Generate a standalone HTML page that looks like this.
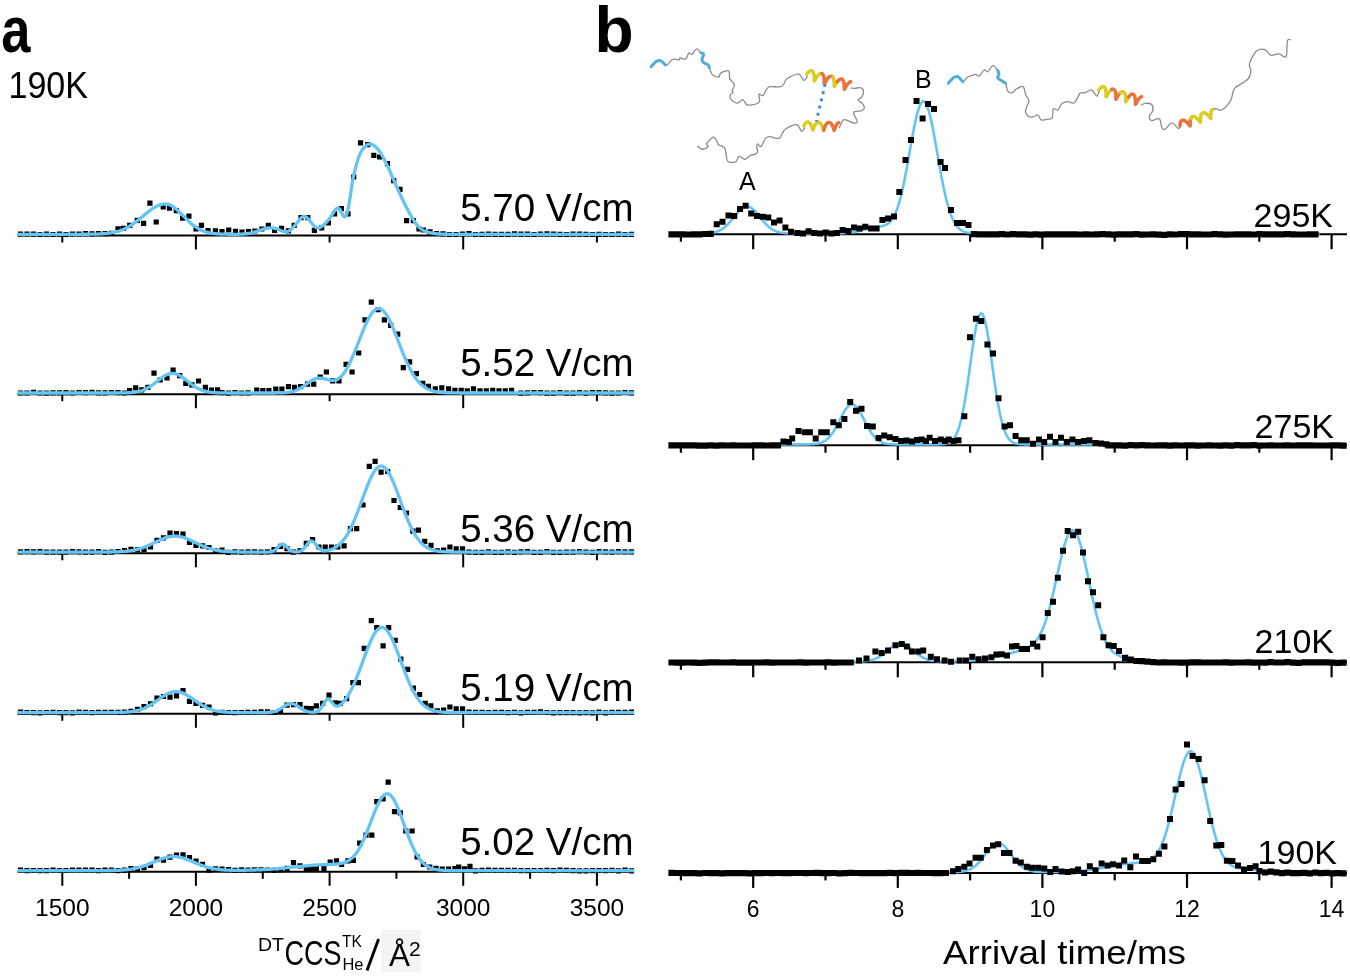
<!DOCTYPE html><html><head><meta charset="utf-8"><style>html,body{margin:0;padding:0;background:#fff;overflow:hidden}svg{display:block;will-change:transform}text{-webkit-font-smoothing:antialiased}</style></head><body><svg width="1350" height="978" viewBox="0 0 1350 978">
<rect width="1350" height="978" fill="#fff"/>
<g><line x1="17.5" y1="235.5" x2="634" y2="235.5" stroke="#000" stroke-width="2"/><line x1="62.3" y1="235.5" x2="62.3" y2="242.5" stroke="#000" stroke-width="2"/><line x1="195.9" y1="235.5" x2="195.9" y2="249.5" stroke="#000" stroke-width="2"/><line x1="329.6" y1="235.5" x2="329.6" y2="242.5" stroke="#000" stroke-width="2"/><line x1="463.2" y1="235.5" x2="463.2" y2="249.5" stroke="#000" stroke-width="2"/><line x1="596.9" y1="235.5" x2="596.9" y2="242.5" stroke="#000" stroke-width="2"/><path d="M17.9,231.4h5.2v5.2h-5.2zM24.4,231.4h5.2v5.2h-5.2zM30.9,231.5h5.2v5.2h-5.2zM37.4,231.9h5.2v5.2h-5.2zM43.9,231.6h5.2v5.2h-5.2zM50.4,231.9h5.2v5.2h-5.2zM56.9,231.5h5.2v5.2h-5.2zM63.4,231.9h5.2v5.2h-5.2zM69.9,231.4h5.2v5.2h-5.2zM76.4,231.4h5.2v5.2h-5.2zM82.9,231.0h5.2v5.2h-5.2zM89.4,231.3h5.2v5.2h-5.2zM95.9,231.0h5.2v5.2h-5.2zM102.4,231.1h5.2v5.2h-5.2zM108.9,230.7h5.2v5.2h-5.2zM115.4,226.3h5.2v5.2h-5.2zM420.9,227.4h5.2v5.2h-5.2zM427.4,229.3h5.2v5.2h-5.2zM433.9,230.9h5.2v5.2h-5.2zM440.4,231.3h5.2v5.2h-5.2zM446.9,231.9h5.2v5.2h-5.2zM453.4,231.9h5.2v5.2h-5.2zM459.9,231.4h5.2v5.2h-5.2zM466.4,231.0h5.2v5.2h-5.2zM472.9,231.9h5.2v5.2h-5.2zM479.4,231.8h5.2v5.2h-5.2zM485.9,231.5h5.2v5.2h-5.2zM492.4,231.7h5.2v5.2h-5.2zM498.9,231.7h5.2v5.2h-5.2zM505.4,231.7h5.2v5.2h-5.2zM511.9,231.3h5.2v5.2h-5.2zM518.4,231.6h5.2v5.2h-5.2zM524.9,231.6h5.2v5.2h-5.2zM531.4,231.9h5.2v5.2h-5.2zM537.9,231.4h5.2v5.2h-5.2zM544.4,231.2h5.2v5.2h-5.2zM550.9,231.4h5.2v5.2h-5.2zM557.4,231.7h5.2v5.2h-5.2zM563.9,231.9h5.2v5.2h-5.2zM570.4,231.5h5.2v5.2h-5.2zM576.9,231.5h5.2v5.2h-5.2zM583.4,231.7h5.2v5.2h-5.2zM589.9,231.9h5.2v5.2h-5.2zM596.4,231.8h5.2v5.2h-5.2zM602.9,231.9h5.2v5.2h-5.2zM609.4,231.9h5.2v5.2h-5.2zM615.9,231.6h5.2v5.2h-5.2zM622.4,231.9h5.2v5.2h-5.2zM628.9,231.7h5.2v5.2h-5.2zM120.8,225.7h5.2v5.2h-5.2zM127.1,222.7h5.2v5.2h-5.2zM134.7,217.7h5.2v5.2h-5.2zM141.0,220.7h5.2v5.2h-5.2zM147.3,200.5h5.2v5.2h-5.2zM153.6,219.4h5.2v5.2h-5.2zM160.6,204.3h5.2v5.2h-5.2zM166.9,205.6h5.2v5.2h-5.2zM173.7,208.1h5.2v5.2h-5.2zM180.0,215.6h5.2v5.2h-5.2zM186.3,213.6h5.2v5.2h-5.2zM193.4,226.2h5.2v5.2h-5.2zM198.9,222.7h5.2v5.2h-5.2zM205.4,227.9h5.2v5.2h-5.2zM212.8,228.2h5.2v5.2h-5.2zM219.4,228.9h5.2v5.2h-5.2zM226.1,227.4h5.2v5.2h-5.2zM232.9,228.7h5.2v5.2h-5.2zM239.4,229.4h5.2v5.2h-5.2zM245.9,228.9h5.2v5.2h-5.2zM252.4,228.4h5.2v5.2h-5.2zM259.2,226.4h5.2v5.2h-5.2zM265.7,222.7h5.2v5.2h-5.2zM272.0,227.7h5.2v5.2h-5.2zM279.0,225.7h5.2v5.2h-5.2zM285.8,228.2h5.2v5.2h-5.2zM291.6,222.7h5.2v5.2h-5.2zM298.4,215.1h5.2v5.2h-5.2zM305.2,215.1h5.2v5.2h-5.2zM311.8,227.7h5.2v5.2h-5.2zM319.1,225.3h5.2v5.2h-5.2zM325.8,220.2h5.2v5.2h-5.2zM332.0,211.2h5.2v5.2h-5.2zM338.8,206.1h5.2v5.2h-5.2zM345.4,211.2h5.2v5.2h-5.2zM351.1,174.4h5.2v5.2h-5.2zM357.9,140.3h5.2v5.2h-5.2zM365.2,142.0h5.2v5.2h-5.2zM371.2,152.7h5.2v5.2h-5.2zM377.0,154.4h5.2v5.2h-5.2zM384.9,161.1h5.2v5.2h-5.2zM391.1,178.0h5.2v5.2h-5.2zM397.4,186.8h5.2v5.2h-5.2zM404.0,218.0h5.2v5.2h-5.2zM410.8,218.0h5.2v5.2h-5.2zM416.4,226.4h5.2v5.2h-5.2z" fill="#000"/><path d="M17.50,234.30 L18.25,234.30 L19.00,234.30 L19.75,234.30 L20.50,234.30 L21.25,234.30 L22.00,234.30 L22.75,234.30 L23.50,234.30 L24.25,234.30 L25.00,234.30 L25.75,234.30 L26.50,234.30 L27.25,234.30 L28.00,234.30 L28.75,234.30 L29.50,234.30 L30.25,234.30 L31.00,234.30 L31.75,234.30 L32.50,234.30 L33.25,234.30 L34.00,234.30 L34.75,234.30 L35.50,234.30 L36.25,234.30 L37.00,234.30 L37.75,234.30 L38.50,234.30 L39.25,234.30 L40.00,234.30 L40.75,234.30 L41.50,234.30 L42.25,234.30 L43.00,234.30 L43.75,234.30 L44.50,234.30 L45.25,234.30 L46.00,234.30 L46.75,234.30 L47.50,234.30 L48.25,234.30 L49.00,234.30 L49.75,234.30 L50.50,234.30 L51.25,234.30 L52.00,234.30 L52.75,234.30 L53.50,234.30 L54.25,234.30 L55.00,234.30 L55.75,234.30 L56.50,234.30 L57.25,234.30 L58.00,234.30 L58.75,234.30 L59.50,234.30 L60.25,234.30 L61.00,234.30 L61.75,234.30 L62.50,234.30 L63.25,234.30 L64.00,234.30 L64.75,234.30 L65.50,234.30 L66.25,234.30 L67.00,234.30 L67.75,234.30 L68.50,234.30 L69.25,234.30 L70.00,234.30 L70.75,234.30 L71.50,234.30 L72.25,234.30 L73.00,234.30 L73.75,234.29 L74.50,234.29 L75.25,234.29 L76.00,234.29 L76.75,234.29 L77.50,234.29 L78.25,234.29 L79.00,234.29 L79.75,234.28 L80.50,234.28 L81.25,234.28 L82.00,234.28 L82.75,234.27 L83.50,234.27 L84.25,234.27 L85.00,234.26 L85.75,234.26 L86.50,234.25 L87.25,234.24 L88.00,234.24 L88.75,234.23 L89.50,234.22 L90.25,234.21 L91.00,234.20 L91.75,234.19 L92.50,234.17 L93.25,234.16 L94.00,234.14 L94.75,234.12 L95.50,234.10 L96.25,234.08 L97.00,234.06 L97.75,234.03 L98.50,234.00 L99.25,233.97 L100.00,233.93 L100.75,233.89 L101.50,233.85 L102.25,233.80 L103.00,233.75 L103.75,233.69 L104.50,233.63 L105.25,233.57 L106.00,233.50 L106.75,233.42 L107.50,233.34 L108.25,233.25 L109.00,233.15 L109.75,233.05 L110.50,232.94 L111.25,232.82 L112.00,232.69 L112.75,232.55 L113.50,232.41 L114.25,232.25 L115.00,232.08 L115.75,231.90 L116.50,231.71 L117.25,231.51 L118.00,231.30 L118.75,231.07 L119.50,230.83 L120.25,230.58 L121.00,230.31 L121.75,230.03 L122.50,229.73 L123.25,229.42 L124.00,229.10 L124.75,228.76 L125.50,228.40 L126.25,228.03 L127.00,227.64 L127.75,227.24 L128.50,226.82 L129.25,226.39 L130.00,225.94 L130.75,225.47 L131.50,224.99 L132.25,224.50 L133.00,223.99 L133.75,223.46 L134.50,222.93 L135.25,222.38 L136.00,221.82 L136.75,221.25 L137.50,220.66 L138.25,220.07 L139.00,219.47 L139.75,218.86 L140.50,218.25 L141.25,217.63 L142.00,217.01 L142.75,216.38 L143.50,215.76 L144.25,215.13 L145.00,214.50 L145.75,213.88 L146.50,213.27 L147.25,212.66 L148.00,212.06 L148.75,211.47 L149.50,210.89 L150.25,210.32 L151.00,209.77 L151.75,209.23 L152.50,208.72 L153.25,208.22 L154.00,207.74 L154.75,207.29 L155.50,206.86 L156.25,206.46 L157.00,206.08 L157.75,205.73 L158.50,205.41 L159.25,205.12 L160.00,204.87 L160.75,204.64 L161.50,204.45 L162.25,204.29 L163.00,204.17 L163.75,204.08 L164.50,204.02 L165.25,204.00 L166.00,204.02 L166.75,204.10 L167.50,204.23 L168.25,204.40 L169.00,204.63 L169.75,204.91 L170.50,205.24 L171.25,205.61 L172.00,206.03 L172.75,206.49 L173.50,206.99 L174.25,207.52 L175.00,208.10 L175.75,208.70 L176.50,209.33 L177.25,209.99 L178.00,210.68 L178.75,211.38 L179.50,212.10 L180.25,212.84 L181.00,213.59 L181.75,214.34 L182.50,215.11 L183.25,215.87 L184.00,216.64 L184.75,217.40 L185.50,218.16 L186.25,218.91 L187.00,219.65 L187.75,220.38 L188.50,221.10 L189.25,221.80 L190.00,222.48 L190.75,223.15 L191.50,223.80 L192.25,224.42 L193.00,225.03 L193.75,225.61 L194.50,226.17 L195.25,226.71 L196.00,227.22 L196.75,227.72 L197.50,228.18 L198.25,228.63 L199.00,229.05 L199.75,229.45 L200.50,229.82 L201.25,230.18 L202.00,230.51 L202.75,230.82 L203.50,231.11 L204.25,231.38 L205.00,231.64 L205.75,231.87 L206.50,232.09 L207.25,232.30 L208.00,232.48 L208.75,232.66 L209.50,232.81 L210.25,232.96 L211.00,233.09 L211.75,233.22 L212.50,233.33 L213.25,233.43 L214.00,233.52 L214.75,233.60 L215.50,233.68 L216.25,233.75 L217.00,233.81 L217.75,233.87 L218.50,233.92 L219.25,233.96 L220.00,234.00 L220.75,234.04 L221.50,234.07 L222.25,234.10 L223.00,234.12 L223.75,234.14 L224.50,234.16 L225.25,234.18 L226.00,234.20 L226.75,234.21 L227.50,234.22 L228.25,234.23 L229.00,234.24 L229.75,234.25 L230.50,234.26 L231.25,234.26 L232.00,234.27 L232.75,234.27 L233.50,234.28 L234.25,234.28 L235.00,234.28 L235.75,234.29 L236.50,234.30 L237.25,234.29 L238.00,234.27 L238.75,234.25 L239.50,234.22 L240.25,234.19 L241.00,234.15 L241.75,234.11 L242.50,234.07 L243.25,234.02 L244.00,233.96 L244.75,233.90 L245.50,233.83 L246.25,233.75 L247.00,233.66 L247.75,233.56 L248.50,233.45 L249.25,233.32 L250.00,233.19 L250.75,233.04 L251.50,232.87 L252.25,232.69 L253.00,232.50 L253.75,232.29 L254.50,232.07 L255.25,231.83 L256.00,231.58 L256.75,231.33 L257.50,231.07 L258.25,230.80 L259.00,230.54 L259.75,230.27 L260.50,230.01 L261.25,229.75 L262.00,229.50 L262.75,229.26 L263.50,229.03 L264.25,228.81 L265.00,228.61 L265.75,228.42 L266.50,228.26 L267.25,228.12 L268.00,228.00 L268.75,227.90 L269.50,227.84 L270.25,227.80 L271.00,227.80 L271.75,227.83 L272.50,227.89 L273.25,227.99 L274.00,228.11 L274.75,228.27 L275.50,228.45 L276.25,228.67 L277.00,228.92 L277.75,229.20 L278.50,229.51 L279.25,229.84 L280.00,230.18 L280.75,230.52 L281.50,230.84 L282.25,231.14 L283.00,231.40 L283.75,231.61 L284.50,231.76 L285.25,231.84 L286.00,231.83 L286.75,231.73 L287.50,231.52 L288.25,231.23 L289.00,230.85 L289.75,230.38 L290.50,229.84 L291.25,229.23 L292.00,228.55 L292.75,227.81 L293.50,227.02 L294.25,226.17 L295.00,225.29 L295.75,224.37 L296.50,223.43 L297.25,222.48 L298.00,221.53 L298.75,220.60 L299.50,219.70 L300.25,218.86 L301.00,218.09 L301.75,217.44 L302.50,216.93 L303.25,216.59 L304.00,216.45 L304.75,216.52 L305.50,216.77 L306.25,217.19 L307.00,217.75 L307.75,218.42 L308.50,219.19 L309.25,220.04 L310.00,220.94 L310.75,221.88 L311.50,222.82 L312.25,223.75 L313.00,224.65 L313.75,225.48 L314.50,226.23 L315.25,226.87 L316.00,227.39 L316.75,227.75 L317.50,227.94 L318.25,227.96 L319.00,227.84 L319.75,227.59 L320.50,227.22 L321.25,226.75 L322.00,226.21 L322.75,225.60 L323.50,224.95 L324.25,224.27 L325.00,223.57 L325.75,222.85 L326.50,222.09 L327.25,221.29 L328.00,220.45 L328.75,219.55 L329.50,218.58 L330.25,217.55 L331.00,216.45 L331.75,215.30 L332.50,214.13 L333.25,212.96 L334.00,211.80 L334.75,210.69 L335.50,209.70 L336.25,208.90 L337.00,208.36 L337.75,208.15 L338.50,208.31 L339.25,208.83 L340.00,209.69 L340.75,210.89 L341.50,212.36 L342.25,213.92 L343.00,215.34 L343.75,216.42 L344.50,216.92 L345.25,216.72 L346.00,215.77 L346.75,214.05 L347.50,211.54 L348.25,208.26 L349.00,204.30 L349.75,199.74 L350.50,194.76 L351.25,189.55 L352.00,184.39 L352.75,179.69 L353.50,175.83 L354.25,172.74 L355.00,170.05 L355.75,167.40 L356.50,164.63 L357.25,161.87 L358.00,159.30 L358.75,157.04 L359.50,155.10 L360.25,153.42 L361.00,151.97 L361.75,150.70 L362.50,149.58 L363.25,148.56 L364.00,147.64 L364.75,146.82 L365.50,146.10 L366.25,145.48 L367.00,144.98 L367.75,144.58 L368.50,144.30 L369.25,144.13 L370.00,144.07 L370.75,144.12 L371.50,144.28 L372.25,144.55 L373.00,144.91 L373.75,145.36 L374.50,145.90 L375.25,146.51 L376.00,147.20 L376.75,147.95 L377.50,148.78 L378.25,149.69 L379.00,150.66 L379.75,151.72 L380.50,152.84 L381.25,154.04 L382.00,155.30 L382.75,156.63 L383.50,158.00 L384.25,159.43 L385.00,160.91 L385.75,162.43 L386.50,163.98 L387.25,165.57 L388.00,167.18 L388.75,168.81 L389.50,170.47 L390.25,172.14 L391.00,173.83 L391.75,175.53 L392.50,177.23 L393.25,178.94 L394.00,180.65 L394.75,182.35 L395.50,184.05 L396.25,185.74 L397.00,187.42 L397.75,189.08 L398.50,190.73 L399.25,192.37 L400.00,193.99 L400.75,195.59 L401.50,197.19 L402.25,198.76 L403.00,200.33 L403.75,201.87 L404.50,203.40 L405.25,204.92 L406.00,206.42 L406.75,207.89 L407.50,209.35 L408.25,210.78 L409.00,212.18 L409.75,213.55 L410.50,214.89 L411.25,216.20 L412.00,217.47 L412.75,218.70 L413.50,219.89 L414.25,221.04 L415.00,222.13 L415.75,223.18 L416.50,224.17 L417.25,225.11 L418.00,225.99 L418.75,226.80 L419.50,227.54 L420.25,228.22 L421.00,228.82 L421.75,229.36 L422.50,229.84 L423.25,230.27 L424.00,230.65 L424.75,230.99 L425.50,231.29 L426.25,231.56 L427.00,231.80 L427.75,232.03 L428.50,232.24 L429.25,232.44 L430.00,232.62 L430.75,232.79 L431.50,232.96 L432.25,233.11 L433.00,233.25 L433.75,233.38 L434.50,233.49 L435.25,233.60 L436.00,233.70 L436.75,233.79 L437.50,233.87 L438.25,233.94 L439.00,234.00 L439.75,234.06 L440.50,234.10 L441.25,234.15 L442.00,234.18 L442.75,234.21 L443.50,234.23 L444.25,234.25 L445.00,234.27 L445.75,234.28 L446.50,234.29 L447.25,234.29 L448.00,234.30 L448.75,234.30 L449.50,234.30 L450.25,234.30 L451.00,234.30 L451.75,234.30 L452.50,234.30 L453.25,234.30 L454.00,234.30 L454.75,234.30 L455.50,234.30 L456.25,234.30 L457.00,234.30 L457.75,234.30 L458.50,234.30 L459.25,234.30 L460.00,234.30 L460.75,234.30 L461.50,234.30 L462.25,234.30 L463.00,234.30 L463.75,234.30 L464.50,234.30 L465.25,234.30 L466.00,234.30 L466.75,234.30 L467.50,234.30 L468.25,234.30 L469.00,234.30 L469.75,234.30 L470.50,234.30 L471.25,234.30 L472.00,234.30 L472.75,234.30 L473.50,234.30 L474.25,234.30 L475.00,234.30 L475.75,234.30 L476.50,234.30 L477.25,234.30 L478.00,234.30 L478.75,234.30 L479.50,234.30 L480.25,234.30 L481.00,234.30 L481.75,234.30 L482.50,234.30 L483.25,234.30 L484.00,234.30 L484.75,234.30 L485.50,234.30 L486.25,234.30 L487.00,234.30 L487.75,234.30 L488.50,234.30 L489.25,234.30 L490.00,234.30 L490.75,234.30 L491.50,234.30 L492.25,234.30 L493.00,234.30 L493.75,234.30 L494.50,234.30 L495.25,234.30 L496.00,234.30 L496.75,234.30 L497.50,234.30 L498.25,234.30 L499.00,234.30 L499.75,234.30 L500.50,234.30 L501.25,234.30 L502.00,234.30 L502.75,234.30 L503.50,234.30 L504.25,234.30 L505.00,234.30 L505.75,234.30 L506.50,234.30 L507.25,234.30 L508.00,234.30 L508.75,234.30 L509.50,234.30 L510.25,234.30 L511.00,234.30 L511.75,234.30 L512.50,234.30 L513.25,234.30 L514.00,234.30 L514.75,234.30 L515.50,234.30 L516.25,234.30 L517.00,234.30 L517.75,234.30 L518.50,234.30 L519.25,234.30 L520.00,234.30 L520.75,234.30 L521.50,234.30 L522.25,234.30 L523.00,234.30 L523.75,234.30 L524.50,234.30 L525.25,234.30 L526.00,234.30 L526.75,234.30 L527.50,234.30 L528.25,234.30 L529.00,234.30 L529.75,234.30 L530.50,234.30 L531.25,234.30 L532.00,234.30 L532.75,234.30 L533.50,234.30 L534.25,234.30 L535.00,234.30 L535.75,234.30 L536.50,234.30 L537.25,234.30 L538.00,234.30 L538.75,234.30 L539.50,234.30 L540.25,234.30 L541.00,234.30 L541.75,234.30 L542.50,234.30 L543.25,234.30 L544.00,234.30 L544.75,234.30 L545.50,234.30 L546.25,234.30 L547.00,234.30 L547.75,234.30 L548.50,234.30 L549.25,234.30 L550.00,234.30 L550.75,234.30 L551.50,234.30 L552.25,234.30 L553.00,234.30 L553.75,234.30 L554.50,234.30 L555.25,234.30 L556.00,234.30 L556.75,234.30 L557.50,234.30 L558.25,234.30 L559.00,234.30 L559.75,234.30 L560.50,234.30 L561.25,234.30 L562.00,234.30 L562.75,234.30 L563.50,234.30 L564.25,234.30 L565.00,234.30 L565.75,234.30 L566.50,234.30 L567.25,234.30 L568.00,234.30 L568.75,234.30 L569.50,234.30 L570.25,234.30 L571.00,234.30 L571.75,234.30 L572.50,234.30 L573.25,234.30 L574.00,234.30 L574.75,234.30 L575.50,234.30 L576.25,234.30 L577.00,234.30 L577.75,234.30 L578.50,234.30 L579.25,234.30 L580.00,234.30 L580.75,234.30 L581.50,234.30 L582.25,234.30 L583.00,234.30 L583.75,234.30 L584.50,234.30 L585.25,234.30 L586.00,234.30 L586.75,234.30 L587.50,234.30 L588.25,234.30 L589.00,234.30 L589.75,234.30 L590.50,234.30 L591.25,234.30 L592.00,234.30 L592.75,234.30 L593.50,234.30 L594.25,234.30 L595.00,234.30 L595.75,234.30 L596.50,234.30 L597.25,234.30 L598.00,234.30 L598.75,234.30 L599.50,234.30 L600.25,234.30 L601.00,234.30 L601.75,234.30 L602.50,234.30 L603.25,234.30 L604.00,234.30 L604.75,234.30 L605.50,234.30 L606.25,234.30 L607.00,234.30 L607.75,234.30 L608.50,234.30 L609.25,234.30 L610.00,234.30 L610.75,234.30 L611.50,234.30 L612.25,234.30 L613.00,234.30 L613.75,234.30 L614.50,234.30 L615.25,234.30 L616.00,234.30 L616.75,234.30 L617.50,234.30 L618.25,234.30 L619.00,234.30 L619.75,234.30 L620.50,234.30 L621.25,234.30 L622.00,234.30 L622.75,234.30 L623.50,234.30 L624.25,234.30 L625.00,234.30 L625.75,234.30 L626.50,234.30 L627.25,234.30 L628.00,234.30 L628.75,234.30 L629.50,234.30 L630.25,234.30 L631.00,234.30 L631.75,234.30 L632.50,234.30 L633.25,234.30 L634.00,234.30" fill="none" stroke="#64c4f4" stroke-width="3.3" stroke-linejoin="round"/><text x="633.5" y="220.7" text-anchor="end" font-size="38.5" font-family="Liberation Sans, sans-serif">5.70 V/cm</text></g>
<g><line x1="17.5" y1="394.2" x2="634" y2="394.2" stroke="#000" stroke-width="2"/><line x1="62.3" y1="394.2" x2="62.3" y2="401.2" stroke="#000" stroke-width="2"/><line x1="195.9" y1="394.2" x2="195.9" y2="408.2" stroke="#000" stroke-width="2"/><line x1="329.6" y1="394.2" x2="329.6" y2="401.2" stroke="#000" stroke-width="2"/><line x1="463.2" y1="394.2" x2="463.2" y2="408.2" stroke="#000" stroke-width="2"/><line x1="596.9" y1="394.2" x2="596.9" y2="401.2" stroke="#000" stroke-width="2"/><path d="M17.9,390.4h5.2v5.2h-5.2zM24.4,390.4h5.2v5.2h-5.2zM30.9,389.7h5.2v5.2h-5.2zM37.4,390.4h5.2v5.2h-5.2zM43.9,390.6h5.2v5.2h-5.2zM50.4,390.2h5.2v5.2h-5.2zM56.9,390.3h5.2v5.2h-5.2zM63.4,390.1h5.2v5.2h-5.2zM69.9,390.4h5.2v5.2h-5.2zM76.4,389.9h5.2v5.2h-5.2zM82.9,390.1h5.2v5.2h-5.2zM89.4,389.7h5.2v5.2h-5.2zM95.9,390.2h5.2v5.2h-5.2zM102.4,390.2h5.2v5.2h-5.2zM108.9,389.9h5.2v5.2h-5.2zM115.4,390.0h5.2v5.2h-5.2zM121.9,390.4h5.2v5.2h-5.2zM219.4,390.0h5.2v5.2h-5.2zM225.9,390.5h5.2v5.2h-5.2zM232.4,390.0h5.2v5.2h-5.2zM238.9,390.4h5.2v5.2h-5.2zM245.4,390.2h5.2v5.2h-5.2zM518.4,390.5h5.2v5.2h-5.2zM524.9,390.2h5.2v5.2h-5.2zM531.4,389.9h5.2v5.2h-5.2zM537.9,390.0h5.2v5.2h-5.2zM544.4,390.5h5.2v5.2h-5.2zM550.9,390.6h5.2v5.2h-5.2zM557.4,390.1h5.2v5.2h-5.2zM563.9,390.5h5.2v5.2h-5.2zM570.4,390.5h5.2v5.2h-5.2zM576.9,390.1h5.2v5.2h-5.2zM583.4,390.6h5.2v5.2h-5.2zM589.9,390.1h5.2v5.2h-5.2zM596.4,390.0h5.2v5.2h-5.2zM602.9,390.3h5.2v5.2h-5.2zM609.4,390.5h5.2v5.2h-5.2zM615.9,390.4h5.2v5.2h-5.2zM622.4,389.9h5.2v5.2h-5.2zM628.9,390.2h5.2v5.2h-5.2zM127.0,388.1h5.2v5.2h-5.2zM133.1,385.2h5.2v5.2h-5.2zM139.2,387.2h5.2v5.2h-5.2zM145.3,384.7h5.2v5.2h-5.2zM151.4,370.5h5.2v5.2h-5.2zM157.5,377.4h5.2v5.2h-5.2zM164.4,375.4h5.2v5.2h-5.2zM170.5,367.6h5.2v5.2h-5.2zM177.1,373.0h5.2v5.2h-5.2zM183.2,380.8h5.2v5.2h-5.2zM189.3,382.3h5.2v5.2h-5.2zM195.9,378.4h5.2v5.2h-5.2zM202.8,384.7h5.2v5.2h-5.2zM208.9,387.6h5.2v5.2h-5.2zM215.0,387.2h5.2v5.2h-5.2zM254.1,387.6h5.2v5.2h-5.2zM260.2,388.1h5.2v5.2h-5.2zM266.3,388.1h5.2v5.2h-5.2zM273.2,386.4h5.2v5.2h-5.2zM279.3,386.4h5.2v5.2h-5.2zM285.9,384.0h5.2v5.2h-5.2zM292.0,384.7h5.2v5.2h-5.2zM298.1,384.0h5.2v5.2h-5.2zM305.0,381.5h5.2v5.2h-5.2zM311.1,381.5h5.2v5.2h-5.2zM317.6,374.4h5.2v5.2h-5.2zM323.8,369.4h5.2v5.2h-5.2zM330.1,378.2h5.2v5.2h-5.2zM336.4,378.2h5.2v5.2h-5.2zM343.5,361.8h5.2v5.2h-5.2zM349.5,369.4h5.2v5.2h-5.2zM356.1,350.4h5.2v5.2h-5.2zM362.4,317.2h5.2v5.2h-5.2zM368.7,299.6h5.2v5.2h-5.2zM375.5,307.1h5.2v5.2h-5.2zM381.8,317.2h5.2v5.2h-5.2zM388.1,322.7h5.2v5.2h-5.2zM395.1,331.6h5.2v5.2h-5.2zM400.7,365.1h5.2v5.2h-5.2zM407.0,359.3h5.2v5.2h-5.2zM413.8,371.1h5.2v5.2h-5.2zM420.1,380.7h5.2v5.2h-5.2zM425.9,383.7h5.2v5.2h-5.2zM432.7,386.2h5.2v5.2h-5.2zM439.2,385.2h5.2v5.2h-5.2zM446.0,386.2h5.2v5.2h-5.2zM452.3,387.7h5.2v5.2h-5.2zM458.6,387.7h5.2v5.2h-5.2zM464.7,388.2h5.2v5.2h-5.2zM470.9,386.2h5.2v5.2h-5.2zM477.4,388.2h5.2v5.2h-5.2zM483.7,388.2h5.2v5.2h-5.2zM490.1,387.7h5.2v5.2h-5.2zM496.4,388.2h5.2v5.2h-5.2zM502.7,388.2h5.2v5.2h-5.2zM509.0,387.7h5.2v5.2h-5.2z" fill="#000"/><path d="M17.50,393.00 L18.25,393.00 L19.00,393.00 L19.75,393.00 L20.50,393.00 L21.25,393.00 L22.00,393.00 L22.75,393.00 L23.50,393.00 L24.25,393.00 L25.00,393.00 L25.75,393.00 L26.50,393.00 L27.25,393.00 L28.00,393.00 L28.75,393.00 L29.50,393.00 L30.25,393.00 L31.00,393.00 L31.75,393.00 L32.50,393.00 L33.25,393.00 L34.00,393.00 L34.75,393.00 L35.50,393.00 L36.25,393.00 L37.00,393.00 L37.75,393.00 L38.50,393.00 L39.25,393.00 L40.00,393.00 L40.75,393.00 L41.50,393.00 L42.25,393.00 L43.00,393.00 L43.75,393.00 L44.50,393.00 L45.25,393.00 L46.00,393.00 L46.75,393.00 L47.50,393.00 L48.25,393.00 L49.00,393.00 L49.75,393.00 L50.50,393.00 L51.25,393.00 L52.00,393.00 L52.75,393.00 L53.50,393.00 L54.25,393.00 L55.00,393.00 L55.75,393.00 L56.50,393.00 L57.25,393.00 L58.00,393.00 L58.75,393.00 L59.50,393.00 L60.25,393.00 L61.00,393.00 L61.75,393.00 L62.50,393.00 L63.25,393.00 L64.00,393.00 L64.75,393.00 L65.50,393.00 L66.25,393.00 L67.00,393.00 L67.75,393.00 L68.50,393.00 L69.25,393.00 L70.00,393.00 L70.75,393.00 L71.50,393.00 L72.25,393.00 L73.00,393.00 L73.75,393.00 L74.50,393.00 L75.25,393.00 L76.00,393.00 L76.75,393.00 L77.50,393.00 L78.25,393.00 L79.00,393.00 L79.75,393.00 L80.50,393.00 L81.25,393.00 L82.00,393.00 L82.75,393.00 L83.50,393.00 L84.25,393.00 L85.00,393.00 L85.75,393.00 L86.50,393.00 L87.25,393.00 L88.00,393.00 L88.75,393.00 L89.50,393.00 L90.25,393.00 L91.00,393.00 L91.75,393.00 L92.50,393.00 L93.25,393.00 L94.00,393.00 L94.75,393.00 L95.50,393.00 L96.25,393.00 L97.00,393.00 L97.75,393.00 L98.50,393.00 L99.25,393.00 L100.00,393.00 L100.75,393.00 L101.50,393.00 L102.25,393.00 L103.00,393.00 L103.75,393.00 L104.50,393.00 L105.25,393.00 L106.00,393.00 L106.75,393.00 L107.50,393.00 L108.25,393.00 L109.00,393.00 L109.75,393.00 L110.50,393.00 L111.25,393.00 L112.00,392.99 L112.75,392.99 L113.50,392.99 L114.25,392.99 L115.00,392.99 L115.75,392.98 L116.50,392.98 L117.25,392.98 L118.00,392.97 L118.75,392.97 L119.50,392.96 L120.25,392.95 L121.00,392.94 L121.75,392.93 L122.50,392.92 L123.25,392.91 L124.00,392.89 L124.75,392.87 L125.50,392.85 L126.25,392.83 L127.00,392.80 L127.75,392.77 L128.50,392.73 L129.25,392.69 L130.00,392.64 L130.75,392.58 L131.50,392.52 L132.25,392.45 L133.00,392.38 L133.75,392.29 L134.50,392.19 L135.25,392.09 L136.00,391.97 L136.75,391.84 L137.50,391.69 L138.25,391.53 L139.00,391.36 L139.75,391.17 L140.50,390.96 L141.25,390.73 L142.00,390.49 L142.75,390.22 L143.50,389.94 L144.25,389.63 L145.00,389.30 L145.75,388.96 L146.50,388.59 L147.25,388.19 L148.00,387.78 L148.75,387.34 L149.50,386.89 L150.25,386.41 L151.00,385.92 L151.75,385.40 L152.50,384.87 L153.25,384.32 L154.00,383.76 L154.75,383.19 L155.50,382.61 L156.25,382.02 L157.00,381.43 L157.75,380.83 L158.50,380.24 L159.25,379.65 L160.00,379.07 L160.75,378.50 L161.50,377.95 L162.25,377.41 L163.00,376.89 L163.75,376.40 L164.50,375.94 L165.25,375.50 L166.00,375.11 L166.75,374.74 L167.50,374.42 L168.25,374.14 L169.00,373.90 L169.75,373.70 L170.50,373.56 L171.25,373.46 L172.00,373.41 L172.75,373.41 L173.50,373.45 L174.25,373.55 L175.00,373.69 L175.75,373.88 L176.50,374.12 L177.25,374.40 L178.00,374.72 L178.75,375.08 L179.50,375.48 L180.25,375.91 L181.00,376.37 L181.75,376.86 L182.50,377.38 L183.25,377.91 L184.00,378.47 L184.75,379.03 L185.50,379.61 L186.25,380.20 L187.00,380.80 L187.75,381.39 L188.50,381.98 L189.25,382.57 L190.00,383.15 L190.75,383.73 L191.50,384.29 L192.25,384.83 L193.00,385.37 L193.75,385.88 L194.50,386.38 L195.25,386.86 L196.00,387.31 L196.75,387.75 L197.50,388.17 L198.25,388.56 L199.00,388.93 L199.75,389.28 L200.50,389.61 L201.25,389.92 L202.00,390.20 L202.75,390.47 L203.50,390.72 L204.25,390.94 L205.00,391.15 L205.75,391.34 L206.50,391.52 L207.25,391.68 L208.00,391.83 L208.75,391.96 L209.50,392.08 L210.25,392.19 L211.00,392.29 L211.75,392.37 L212.50,392.45 L213.25,392.52 L214.00,392.58 L214.75,392.64 L215.50,392.68 L216.25,392.73 L217.00,392.76 L217.75,392.80 L218.50,392.83 L219.25,392.85 L220.00,392.87 L220.75,392.89 L221.50,392.91 L222.25,392.92 L223.00,392.93 L223.75,392.94 L224.50,392.95 L225.25,392.96 L226.00,392.97 L226.75,392.97 L227.50,392.98 L228.25,392.98 L229.00,392.98 L229.75,392.99 L230.50,392.99 L231.25,392.99 L232.00,392.99 L232.75,392.99 L233.50,393.00 L234.25,393.00 L235.00,393.00 L235.75,393.00 L236.50,393.00 L237.25,393.00 L238.00,393.00 L238.75,393.00 L239.50,393.00 L240.25,393.00 L241.00,393.00 L241.75,393.00 L242.50,393.00 L243.25,393.00 L244.00,393.00 L244.75,393.00 L245.50,393.00 L246.25,393.00 L247.00,393.00 L247.75,393.00 L248.50,393.00 L249.25,393.00 L250.00,393.00 L250.75,393.00 L251.50,393.00 L252.25,393.00 L253.00,393.00 L253.75,393.00 L254.50,393.00 L255.25,393.00 L256.00,393.00 L256.75,393.00 L257.50,393.00 L258.25,393.00 L259.00,393.00 L259.75,393.00 L260.50,393.00 L261.25,393.00 L262.00,393.00 L262.75,393.00 L263.50,393.00 L264.25,393.00 L265.00,393.00 L265.75,393.00 L266.50,393.00 L267.25,393.00 L268.00,393.00 L268.75,393.00 L269.50,393.00 L270.25,392.99 L271.00,392.99 L271.75,392.99 L272.50,392.99 L273.25,392.99 L274.00,392.98 L274.75,392.98 L275.50,392.97 L276.25,392.97 L277.00,392.96 L277.75,392.95 L278.50,392.94 L279.25,392.92 L280.00,392.91 L280.75,392.89 L281.50,392.86 L282.25,392.83 L283.00,392.80 L283.75,392.76 L284.50,392.71 L285.25,392.66 L286.00,392.60 L286.75,392.53 L287.50,392.44 L288.25,392.35 L289.00,392.24 L289.75,392.12 L290.50,391.98 L291.25,391.83 L292.00,391.65 L292.75,391.46 L293.50,391.25 L294.25,391.01 L295.00,390.76 L295.75,390.48 L296.50,390.17 L297.25,389.84 L298.00,389.49 L298.75,389.11 L299.50,388.70 L300.25,388.28 L301.00,387.83 L301.75,387.35 L302.50,386.86 L303.25,386.36 L304.00,385.84 L304.75,385.30 L305.50,384.76 L306.25,384.22 L307.00,383.67 L307.75,383.13 L308.50,382.60 L309.25,382.07 L310.00,381.57 L310.75,381.08 L311.50,380.62 L312.25,380.19 L313.00,379.79 L313.75,379.43 L314.50,379.11 L315.25,378.83 L316.00,378.59 L316.75,378.40 L317.50,378.25 L318.25,378.15 L319.00,378.10 L319.75,378.08 L320.50,378.11 L321.25,378.18 L322.00,378.28 L322.75,378.41 L323.50,378.57 L324.25,378.75 L325.00,378.94 L325.75,379.15 L326.50,379.36 L327.25,379.57 L328.00,379.77 L328.75,379.96 L329.50,380.13 L330.25,380.27 L331.00,380.38 L331.75,380.45 L332.50,380.48 L333.25,380.46 L334.00,380.39 L334.75,380.26 L335.50,380.07 L336.25,379.82 L337.00,379.50 L337.75,379.11 L338.50,378.65 L339.25,378.12 L340.00,377.51 L340.75,376.83 L341.50,376.08 L342.25,375.25 L343.00,374.34 L343.75,373.37 L344.50,372.31 L345.25,371.19 L346.00,369.99 L346.75,368.73 L347.50,367.40 L348.25,366.01 L349.00,364.55 L349.75,363.03 L350.50,361.46 L351.25,359.84 L352.00,358.16 L352.75,356.44 L353.50,354.68 L354.25,352.88 L355.00,351.05 L355.75,349.19 L356.50,347.31 L357.25,345.41 L358.00,343.50 L358.75,341.58 L359.50,339.65 L360.25,337.74 L361.00,335.83 L361.75,333.94 L362.50,332.07 L363.25,330.23 L364.00,328.43 L364.75,326.67 L365.50,324.96 L366.25,323.30 L367.00,321.70 L367.75,320.17 L368.50,318.71 L369.25,317.33 L370.00,316.03 L370.75,314.82 L371.50,313.71 L372.25,312.69 L373.00,311.78 L373.75,310.97 L374.50,310.27 L375.25,309.69 L376.00,309.22 L376.75,308.86 L377.50,308.63 L378.25,308.51 L379.00,308.52 L379.75,308.64 L380.50,308.88 L381.25,309.25 L382.00,309.72 L382.75,310.32 L383.50,311.02 L384.25,311.84 L385.00,312.76 L385.75,313.78 L386.50,314.90 L387.25,316.12 L388.00,317.42 L388.75,318.81 L389.50,320.27 L390.25,321.81 L391.00,323.41 L391.75,325.07 L392.50,326.79 L393.25,328.56 L394.00,330.37 L394.75,332.21 L395.50,334.08 L396.25,335.98 L397.00,337.89 L397.75,339.82 L398.50,341.75 L399.25,343.68 L400.00,345.60 L400.75,347.52 L401.50,349.42 L402.25,351.30 L403.00,353.15 L403.75,354.98 L404.50,356.77 L405.25,358.53 L406.00,360.25 L406.75,361.93 L407.50,363.56 L408.25,365.15 L409.00,366.69 L409.75,368.18 L410.50,369.62 L411.25,371.01 L412.00,372.34 L412.75,373.62 L413.50,374.85 L414.25,376.02 L415.00,377.14 L415.75,378.21 L416.50,379.22 L417.25,380.18 L418.00,381.10 L418.75,381.96 L419.50,382.78 L420.25,383.55 L421.00,384.27 L421.75,384.95 L422.50,385.59 L423.25,386.18 L424.00,386.74 L424.75,387.26 L425.50,387.74 L426.25,388.19 L427.00,388.61 L427.75,389.00 L428.50,389.36 L429.25,389.69 L430.00,389.99 L430.75,390.27 L431.50,390.53 L432.25,390.77 L433.00,390.99 L433.75,391.18 L434.50,391.37 L435.25,391.53 L436.00,391.68 L436.75,391.82 L437.50,391.94 L438.25,392.05 L439.00,392.16 L439.75,392.25 L440.50,392.33 L441.25,392.40 L442.00,392.47 L442.75,392.53 L443.50,392.59 L444.25,392.63 L445.00,392.68 L445.75,392.72 L446.50,392.75 L447.25,392.78 L448.00,392.81 L448.75,392.83 L449.50,392.85 L450.25,392.87 L451.00,392.89 L451.75,392.90 L452.50,392.91 L453.25,392.93 L454.00,392.94 L454.75,392.94 L455.50,392.95 L456.25,392.96 L457.00,392.96 L457.75,392.97 L458.50,392.97 L459.25,392.98 L460.00,392.98 L460.75,392.98 L461.50,392.99 L462.25,392.99 L463.00,392.99 L463.75,392.99 L464.50,392.99 L465.25,392.99 L466.00,392.99 L466.75,393.00 L467.50,393.00 L468.25,393.00 L469.00,393.00 L469.75,393.00 L470.50,393.00 L471.25,393.00 L472.00,393.00 L472.75,393.00 L473.50,393.00 L474.25,393.00 L475.00,393.00 L475.75,393.00 L476.50,393.00 L477.25,393.00 L478.00,393.00 L478.75,393.00 L479.50,393.00 L480.25,393.00 L481.00,393.00 L481.75,393.00 L482.50,393.00 L483.25,393.00 L484.00,393.00 L484.75,393.00 L485.50,393.00 L486.25,393.00 L487.00,393.00 L487.75,393.00 L488.50,393.00 L489.25,393.00 L490.00,393.00 L490.75,393.00 L491.50,393.00 L492.25,393.00 L493.00,393.00 L493.75,393.00 L494.50,393.00 L495.25,393.00 L496.00,393.00 L496.75,393.00 L497.50,393.00 L498.25,393.00 L499.00,393.00 L499.75,393.00 L500.50,393.00 L501.25,393.00 L502.00,393.00 L502.75,393.00 L503.50,393.00 L504.25,393.00 L505.00,393.00 L505.75,393.00 L506.50,393.00 L507.25,393.00 L508.00,393.00 L508.75,393.00 L509.50,393.00 L510.25,393.00 L511.00,393.00 L511.75,393.00 L512.50,393.00 L513.25,393.00 L514.00,393.00 L514.75,393.00 L515.50,393.00 L516.25,393.00 L517.00,393.00 L517.75,393.00 L518.50,393.00 L519.25,393.00 L520.00,393.00 L520.75,393.00 L521.50,393.00 L522.25,393.00 L523.00,393.00 L523.75,393.00 L524.50,393.00 L525.25,393.00 L526.00,393.00 L526.75,393.00 L527.50,393.00 L528.25,393.00 L529.00,393.00 L529.75,393.00 L530.50,393.00 L531.25,393.00 L532.00,393.00 L532.75,393.00 L533.50,393.00 L534.25,393.00 L535.00,393.00 L535.75,393.00 L536.50,393.00 L537.25,393.00 L538.00,393.00 L538.75,393.00 L539.50,393.00 L540.25,393.00 L541.00,393.00 L541.75,393.00 L542.50,393.00 L543.25,393.00 L544.00,393.00 L544.75,393.00 L545.50,393.00 L546.25,393.00 L547.00,393.00 L547.75,393.00 L548.50,393.00 L549.25,393.00 L550.00,393.00 L550.75,393.00 L551.50,393.00 L552.25,393.00 L553.00,393.00 L553.75,393.00 L554.50,393.00 L555.25,393.00 L556.00,393.00 L556.75,393.00 L557.50,393.00 L558.25,393.00 L559.00,393.00 L559.75,393.00 L560.50,393.00 L561.25,393.00 L562.00,393.00 L562.75,393.00 L563.50,393.00 L564.25,393.00 L565.00,393.00 L565.75,393.00 L566.50,393.00 L567.25,393.00 L568.00,393.00 L568.75,393.00 L569.50,393.00 L570.25,393.00 L571.00,393.00 L571.75,393.00 L572.50,393.00 L573.25,393.00 L574.00,393.00 L574.75,393.00 L575.50,393.00 L576.25,393.00 L577.00,393.00 L577.75,393.00 L578.50,393.00 L579.25,393.00 L580.00,393.00 L580.75,393.00 L581.50,393.00 L582.25,393.00 L583.00,393.00 L583.75,393.00 L584.50,393.00 L585.25,393.00 L586.00,393.00 L586.75,393.00 L587.50,393.00 L588.25,393.00 L589.00,393.00 L589.75,393.00 L590.50,393.00 L591.25,393.00 L592.00,393.00 L592.75,393.00 L593.50,393.00 L594.25,393.00 L595.00,393.00 L595.75,393.00 L596.50,393.00 L597.25,393.00 L598.00,393.00 L598.75,393.00 L599.50,393.00 L600.25,393.00 L601.00,393.00 L601.75,393.00 L602.50,393.00 L603.25,393.00 L604.00,393.00 L604.75,393.00 L605.50,393.00 L606.25,393.00 L607.00,393.00 L607.75,393.00 L608.50,393.00 L609.25,393.00 L610.00,393.00 L610.75,393.00 L611.50,393.00 L612.25,393.00 L613.00,393.00 L613.75,393.00 L614.50,393.00 L615.25,393.00 L616.00,393.00 L616.75,393.00 L617.50,393.00 L618.25,393.00 L619.00,393.00 L619.75,393.00 L620.50,393.00 L621.25,393.00 L622.00,393.00 L622.75,393.00 L623.50,393.00 L624.25,393.00 L625.00,393.00 L625.75,393.00 L626.50,393.00 L627.25,393.00 L628.00,393.00 L628.75,393.00 L629.50,393.00 L630.25,393.00 L631.00,393.00 L631.75,393.00 L632.50,393.00 L633.25,393.00 L634.00,393.00" fill="none" stroke="#64c4f4" stroke-width="3.3" stroke-linejoin="round"/><text x="633.5" y="375.7" text-anchor="end" font-size="38.5" font-family="Liberation Sans, sans-serif">5.52 V/cm</text></g>
<g><line x1="17.5" y1="553.3" x2="634" y2="553.3" stroke="#000" stroke-width="2"/><line x1="62.3" y1="553.3" x2="62.3" y2="560.3" stroke="#000" stroke-width="2"/><line x1="195.9" y1="553.3" x2="195.9" y2="567.3" stroke="#000" stroke-width="2"/><line x1="329.6" y1="553.3" x2="329.6" y2="560.3" stroke="#000" stroke-width="2"/><line x1="463.2" y1="553.3" x2="463.2" y2="567.3" stroke="#000" stroke-width="2"/><line x1="596.9" y1="553.3" x2="596.9" y2="560.3" stroke="#000" stroke-width="2"/><path d="M17.9,549.2h5.2v5.2h-5.2zM24.4,549.1h5.2v5.2h-5.2zM30.9,549.2h5.2v5.2h-5.2zM37.4,549.1h5.2v5.2h-5.2zM43.9,549.6h5.2v5.2h-5.2zM50.4,549.6h5.2v5.2h-5.2zM56.9,549.6h5.2v5.2h-5.2zM63.4,549.6h5.2v5.2h-5.2zM69.9,549.1h5.2v5.2h-5.2zM76.4,549.3h5.2v5.2h-5.2zM82.9,549.6h5.2v5.2h-5.2zM89.4,549.6h5.2v5.2h-5.2zM95.9,549.1h5.2v5.2h-5.2zM102.4,549.7h5.2v5.2h-5.2zM108.9,549.5h5.2v5.2h-5.2zM115.4,548.9h5.2v5.2h-5.2zM121.9,548.0h5.2v5.2h-5.2zM128.4,546.8h5.2v5.2h-5.2zM134.9,547.3h5.2v5.2h-5.2zM141.4,547.0h5.2v5.2h-5.2zM147.9,544.4h5.2v5.2h-5.2zM154.4,537.7h5.2v5.2h-5.2zM160.9,535.3h5.2v5.2h-5.2zM167.4,530.6h5.2v5.2h-5.2zM173.9,531.1h5.2v5.2h-5.2zM180.4,531.6h5.2v5.2h-5.2zM186.9,539.8h5.2v5.2h-5.2zM193.4,542.8h5.2v5.2h-5.2zM199.9,543.2h5.2v5.2h-5.2zM206.4,544.9h5.2v5.2h-5.2zM212.9,548.2h5.2v5.2h-5.2zM219.4,547.4h5.2v5.2h-5.2zM225.9,549.7h5.2v5.2h-5.2zM232.4,549.3h5.2v5.2h-5.2zM238.9,549.6h5.2v5.2h-5.2zM245.4,549.3h5.2v5.2h-5.2zM251.9,549.3h5.2v5.2h-5.2zM258.4,549.5h5.2v5.2h-5.2zM264.9,549.3h5.2v5.2h-5.2zM271.4,546.9h5.2v5.2h-5.2zM277.9,543.7h5.2v5.2h-5.2zM284.4,546.1h5.2v5.2h-5.2zM290.9,549.5h5.2v5.2h-5.2zM466.4,549.5h5.2v5.2h-5.2zM472.9,549.7h5.2v5.2h-5.2zM479.4,549.7h5.2v5.2h-5.2zM485.9,549.2h5.2v5.2h-5.2zM492.4,549.7h5.2v5.2h-5.2zM498.9,549.7h5.2v5.2h-5.2zM505.4,549.3h5.2v5.2h-5.2zM511.9,549.7h5.2v5.2h-5.2zM518.4,549.3h5.2v5.2h-5.2zM524.9,549.1h5.2v5.2h-5.2zM531.4,549.7h5.2v5.2h-5.2zM537.9,549.7h5.2v5.2h-5.2zM544.4,549.1h5.2v5.2h-5.2zM550.9,549.7h5.2v5.2h-5.2zM557.4,549.7h5.2v5.2h-5.2zM563.9,549.6h5.2v5.2h-5.2zM570.4,549.6h5.2v5.2h-5.2zM576.9,549.1h5.2v5.2h-5.2zM583.4,549.4h5.2v5.2h-5.2zM589.9,549.7h5.2v5.2h-5.2zM596.4,549.0h5.2v5.2h-5.2zM602.9,549.3h5.2v5.2h-5.2zM609.4,549.5h5.2v5.2h-5.2zM615.9,549.0h5.2v5.2h-5.2zM622.4,549.2h5.2v5.2h-5.2zM628.9,549.2h5.2v5.2h-5.2zM297.4,548.2h5.2v5.2h-5.2zM303.7,540.7h5.2v5.2h-5.2zM310.0,536.9h5.2v5.2h-5.2zM316.3,544.4h5.2v5.2h-5.2zM322.6,544.4h5.2v5.2h-5.2zM328.9,544.4h5.2v5.2h-5.2zM335.2,544.4h5.2v5.2h-5.2zM341.5,543.2h5.2v5.2h-5.2zM347.8,526.1h5.2v5.2h-5.2zM354.1,526.1h5.2v5.2h-5.2zM360.4,502.4h5.2v5.2h-5.2zM366.7,463.8h5.2v5.2h-5.2zM372.5,458.8h5.2v5.2h-5.2zM378.5,469.6h5.2v5.2h-5.2zM385.1,468.9h5.2v5.2h-5.2zM391.4,497.9h5.2v5.2h-5.2zM397.7,504.9h5.2v5.2h-5.2zM403.9,510.4h5.2v5.2h-5.2zM410.2,528.6h5.2v5.2h-5.2zM415.8,527.6h5.2v5.2h-5.2zM422.1,538.7h5.2v5.2h-5.2zM428.4,542.7h5.2v5.2h-5.2zM434.7,548.2h5.2v5.2h-5.2zM441.0,547.6h5.2v5.2h-5.2zM447.3,544.4h5.2v5.2h-5.2zM453.6,546.2h5.2v5.2h-5.2zM459.9,546.2h5.2v5.2h-5.2z" fill="#000"/><path d="M17.50,552.10 L18.25,552.10 L19.00,552.10 L19.75,552.10 L20.50,552.10 L21.25,552.10 L22.00,552.10 L22.75,552.10 L23.50,552.10 L24.25,552.10 L25.00,552.10 L25.75,552.10 L26.50,552.10 L27.25,552.10 L28.00,552.10 L28.75,552.10 L29.50,552.10 L30.25,552.10 L31.00,552.10 L31.75,552.10 L32.50,552.10 L33.25,552.10 L34.00,552.10 L34.75,552.10 L35.50,552.10 L36.25,552.10 L37.00,552.10 L37.75,552.10 L38.50,552.10 L39.25,552.10 L40.00,552.10 L40.75,552.10 L41.50,552.10 L42.25,552.10 L43.00,552.10 L43.75,552.10 L44.50,552.10 L45.25,552.10 L46.00,552.10 L46.75,552.10 L47.50,552.10 L48.25,552.10 L49.00,552.10 L49.75,552.10 L50.50,552.10 L51.25,552.10 L52.00,552.10 L52.75,552.10 L53.50,552.10 L54.25,552.10 L55.00,552.10 L55.75,552.10 L56.50,552.10 L57.25,552.10 L58.00,552.10 L58.75,552.10 L59.50,552.10 L60.25,552.10 L61.00,552.10 L61.75,552.10 L62.50,552.10 L63.25,552.10 L64.00,552.10 L64.75,552.10 L65.50,552.10 L66.25,552.10 L67.00,552.10 L67.75,552.10 L68.50,552.10 L69.25,552.10 L70.00,552.10 L70.75,552.10 L71.50,552.10 L72.25,552.10 L73.00,552.10 L73.75,552.10 L74.50,552.10 L75.25,552.10 L76.00,552.10 L76.75,552.10 L77.50,552.10 L78.25,552.10 L79.00,552.10 L79.75,552.10 L80.50,552.10 L81.25,552.10 L82.00,552.10 L82.75,552.10 L83.50,552.10 L84.25,552.10 L85.00,552.10 L85.75,552.10 L86.50,552.10 L87.25,552.10 L88.00,552.10 L88.75,552.10 L89.50,552.10 L90.25,552.10 L91.00,552.10 L91.75,552.10 L92.50,552.10 L93.25,552.10 L94.00,552.10 L94.75,552.09 L95.50,552.09 L96.25,552.09 L97.00,552.09 L97.75,552.09 L98.50,552.09 L99.25,552.09 L100.00,552.09 L100.75,552.08 L101.50,552.08 L102.25,552.08 L103.00,552.08 L103.75,552.07 L104.50,552.07 L105.25,552.06 L106.00,552.06 L106.75,552.05 L107.50,552.05 L108.25,552.04 L109.00,552.03 L109.75,552.02 L110.50,552.01 L111.25,552.00 L112.00,551.99 L112.75,551.97 L113.50,551.96 L114.25,551.94 L115.00,551.92 L115.75,551.90 L116.50,551.88 L117.25,551.85 L118.00,551.82 L118.75,551.79 L119.50,551.76 L120.25,551.72 L121.00,551.68 L121.75,551.64 L122.50,551.59 L123.25,551.54 L124.00,551.48 L124.75,551.42 L125.50,551.35 L126.25,551.28 L127.00,551.20 L127.75,551.12 L128.50,551.03 L129.25,550.93 L130.00,550.83 L130.75,550.72 L131.50,550.60 L132.25,550.47 L133.00,550.34 L133.75,550.19 L134.50,550.04 L135.25,549.88 L136.00,549.71 L136.75,549.53 L137.50,549.34 L138.25,549.14 L139.00,548.93 L139.75,548.71 L140.50,548.49 L141.25,548.25 L142.00,548.00 L142.75,547.74 L143.50,547.47 L144.25,547.19 L145.00,546.91 L145.75,546.61 L146.50,546.30 L147.25,545.99 L148.00,545.67 L148.75,545.34 L149.50,545.00 L150.25,544.66 L151.00,544.31 L151.75,543.96 L152.50,543.60 L153.25,543.24 L154.00,542.88 L154.75,542.52 L155.50,542.15 L156.25,541.79 L157.00,541.43 L157.75,541.07 L158.50,540.72 L159.25,540.37 L160.00,540.02 L160.75,539.69 L161.50,539.36 L162.25,539.04 L163.00,538.74 L163.75,538.44 L164.50,538.16 L165.25,537.89 L166.00,537.64 L166.75,537.40 L167.50,537.19 L168.25,536.99 L169.00,536.80 L169.75,536.64 L170.50,536.50 L171.25,536.38 L172.00,536.28 L172.75,536.20 L173.50,536.14 L174.25,536.11 L175.00,536.10 L175.75,536.11 L176.50,536.14 L177.25,536.20 L178.00,536.28 L178.75,536.38 L179.50,536.50 L180.25,536.64 L181.00,536.80 L181.75,536.99 L182.50,537.19 L183.25,537.40 L184.00,537.64 L184.75,537.89 L185.50,538.16 L186.25,538.44 L187.00,538.74 L187.75,539.04 L188.50,539.36 L189.25,539.69 L190.00,540.02 L190.75,540.37 L191.50,540.72 L192.25,541.07 L193.00,541.43 L193.75,541.79 L194.50,542.15 L195.25,542.52 L196.00,542.88 L196.75,543.24 L197.50,543.60 L198.25,543.96 L199.00,544.31 L199.75,544.66 L200.50,545.00 L201.25,545.34 L202.00,545.67 L202.75,545.99 L203.50,546.30 L204.25,546.61 L205.00,546.91 L205.75,547.19 L206.50,547.47 L207.25,547.74 L208.00,548.00 L208.75,548.25 L209.50,548.49 L210.25,548.71 L211.00,548.93 L211.75,549.14 L212.50,549.34 L213.25,549.53 L214.00,549.71 L214.75,549.88 L215.50,550.04 L216.25,550.19 L217.00,550.34 L217.75,550.47 L218.50,550.60 L219.25,550.72 L220.00,550.83 L220.75,550.93 L221.50,551.03 L222.25,551.12 L223.00,551.20 L223.75,551.28 L224.50,551.35 L225.25,551.42 L226.00,551.48 L226.75,551.54 L227.50,551.59 L228.25,551.64 L229.00,551.68 L229.75,551.72 L230.50,551.76 L231.25,551.79 L232.00,551.82 L232.75,551.85 L233.50,551.88 L234.25,551.90 L235.00,551.92 L235.75,551.94 L236.50,551.96 L237.25,551.97 L238.00,551.99 L238.75,552.00 L239.50,552.01 L240.25,552.02 L241.00,552.03 L241.75,552.04 L242.50,552.05 L243.25,552.05 L244.00,552.06 L244.75,552.06 L245.50,552.07 L246.25,552.07 L247.00,552.08 L247.75,552.08 L248.50,552.08 L249.25,552.08 L250.00,552.09 L250.75,552.09 L251.50,552.09 L252.25,552.09 L253.00,552.09 L253.75,552.09 L254.50,552.09 L255.25,552.09 L256.00,552.10 L256.75,552.10 L257.50,552.10 L258.25,552.10 L259.00,552.10 L259.75,552.10 L260.50,552.10 L261.25,552.10 L262.00,552.10 L262.75,552.10 L263.50,552.10 L264.25,552.10 L265.00,552.09 L265.75,552.09 L266.50,552.08 L267.25,552.07 L268.00,552.05 L268.75,552.02 L269.50,551.97 L270.25,551.89 L271.00,551.78 L271.75,551.61 L272.50,551.39 L273.25,551.09 L274.00,550.70 L274.75,550.21 L275.50,549.63 L276.25,548.96 L277.00,548.21 L277.75,547.41 L278.50,546.60 L279.25,545.84 L280.00,545.16 L280.75,544.62 L281.50,544.26 L282.25,544.10 L283.00,544.17 L283.75,544.45 L284.50,544.93 L285.25,545.55 L286.00,546.29 L286.75,547.09 L287.50,547.89 L288.25,548.66 L289.00,549.37 L289.75,549.99 L290.50,550.51 L291.25,550.94 L292.00,551.27 L292.75,551.52 L293.50,551.70 L294.25,551.82 L295.00,551.88 L295.75,551.91 L296.50,551.90 L297.25,551.85 L298.00,551.75 L298.75,551.61 L299.50,551.41 L300.25,551.13 L301.00,550.77 L301.75,550.31 L302.50,549.75 L303.25,549.07 L304.00,548.29 L304.75,547.41 L305.50,546.46 L306.25,545.46 L307.00,544.46 L307.75,543.50 L308.50,542.64 L309.25,541.92 L310.00,541.39 L310.75,541.08 L311.50,541.00 L312.25,541.18 L313.00,541.58 L313.75,542.18 L314.50,542.95 L315.25,543.84 L316.00,544.79 L316.75,545.75 L317.50,546.68 L318.25,547.55 L319.00,548.33 L319.75,548.99 L320.50,549.54 L321.25,549.98 L322.00,550.30 L322.75,550.53 L323.50,550.67 L324.25,550.74 L325.00,550.74 L325.75,550.70 L326.50,550.61 L327.25,550.48 L328.00,550.33 L328.75,550.14 L329.50,549.93 L330.25,549.70 L331.00,549.44 L331.75,549.15 L332.50,548.83 L333.25,548.49 L334.00,548.12 L334.75,547.71 L335.50,547.27 L336.25,546.80 L337.00,546.28 L337.75,545.73 L338.50,545.14 L339.25,544.50 L340.00,543.81 L340.75,543.08 L341.50,542.30 L342.25,541.47 L343.00,540.58 L343.75,539.64 L344.50,538.65 L345.25,537.60 L346.00,536.49 L346.75,535.32 L347.50,534.09 L348.25,532.81 L349.00,531.46 L349.75,530.05 L350.50,528.59 L351.25,527.07 L352.00,525.48 L352.75,523.85 L353.50,522.16 L354.25,520.42 L355.00,518.62 L355.75,516.79 L356.50,514.90 L357.25,512.99 L358.00,511.03 L358.75,509.04 L359.50,507.03 L360.25,505.00 L361.00,502.95 L361.75,500.90 L362.50,498.84 L363.25,496.79 L364.00,494.74 L364.75,492.71 L365.50,490.71 L366.25,488.73 L367.00,486.80 L367.75,484.91 L368.50,483.08 L369.25,481.30 L370.00,479.59 L370.75,477.96 L371.50,476.41 L372.25,474.94 L373.00,473.57 L373.75,472.30 L374.50,471.14 L375.25,470.08 L376.00,469.14 L376.75,468.32 L377.50,467.63 L378.25,467.06 L379.00,466.62 L379.75,466.32 L380.50,466.14 L381.25,466.10 L382.00,466.20 L382.75,466.42 L383.50,466.78 L384.25,467.27 L385.00,467.89 L385.75,468.64 L386.50,469.50 L387.25,470.49 L388.00,471.59 L388.75,472.80 L389.50,474.11 L390.25,475.52 L391.00,477.02 L391.75,478.60 L392.50,480.27 L393.25,482.00 L394.00,483.80 L394.75,485.66 L395.50,487.57 L396.25,489.52 L397.00,491.51 L397.75,493.52 L398.50,495.56 L399.25,497.61 L400.00,499.66 L400.75,501.72 L401.50,503.78 L402.25,505.82 L403.00,507.84 L403.75,509.84 L404.50,511.82 L405.25,513.76 L406.00,515.66 L406.75,517.53 L407.50,519.35 L408.25,521.12 L409.00,522.84 L409.75,524.51 L410.50,526.12 L411.25,527.68 L412.00,529.18 L412.75,530.62 L413.50,532.01 L414.25,533.33 L415.00,534.59 L415.75,535.80 L416.50,536.94 L417.25,538.03 L418.00,539.05 L418.75,540.03 L419.50,540.94 L420.25,541.81 L421.00,542.62 L421.75,543.38 L422.50,544.09 L423.25,544.76 L424.00,545.38 L424.75,545.96 L425.50,546.49 L426.25,546.99 L427.00,547.45 L427.75,547.88 L428.50,548.27 L429.25,548.63 L430.00,548.97 L430.75,549.27 L431.50,549.55 L432.25,549.81 L433.00,550.04 L433.75,550.25 L434.50,550.44 L435.25,550.62 L436.00,550.78 L436.75,550.92 L437.50,551.05 L438.25,551.17 L439.00,551.27 L439.75,551.37 L440.50,551.45 L441.25,551.53 L442.00,551.59 L442.75,551.66 L443.50,551.71 L444.25,551.76 L445.00,551.80 L445.75,551.84 L446.50,551.87 L447.25,551.90 L448.00,551.93 L448.75,551.95 L449.50,551.97 L450.25,551.99 L451.00,552.00 L451.75,552.01 L452.50,552.03 L453.25,552.04 L454.00,552.05 L454.75,552.05 L455.50,552.06 L456.25,552.07 L457.00,552.07 L457.75,552.07 L458.50,552.08 L459.25,552.08 L460.00,552.08 L460.75,552.09 L461.50,552.09 L462.25,552.09 L463.00,552.09 L463.75,552.09 L464.50,552.09 L465.25,552.10 L466.00,552.10 L466.75,552.10 L467.50,552.10 L468.25,552.10 L469.00,552.10 L469.75,552.10 L470.50,552.10 L471.25,552.10 L472.00,552.10 L472.75,552.10 L473.50,552.10 L474.25,552.10 L475.00,552.10 L475.75,552.10 L476.50,552.10 L477.25,552.10 L478.00,552.10 L478.75,552.10 L479.50,552.10 L480.25,552.10 L481.00,552.10 L481.75,552.10 L482.50,552.10 L483.25,552.10 L484.00,552.10 L484.75,552.10 L485.50,552.10 L486.25,552.10 L487.00,552.10 L487.75,552.10 L488.50,552.10 L489.25,552.10 L490.00,552.10 L490.75,552.10 L491.50,552.10 L492.25,552.10 L493.00,552.10 L493.75,552.10 L494.50,552.10 L495.25,552.10 L496.00,552.10 L496.75,552.10 L497.50,552.10 L498.25,552.10 L499.00,552.10 L499.75,552.10 L500.50,552.10 L501.25,552.10 L502.00,552.10 L502.75,552.10 L503.50,552.10 L504.25,552.10 L505.00,552.10 L505.75,552.10 L506.50,552.10 L507.25,552.10 L508.00,552.10 L508.75,552.10 L509.50,552.10 L510.25,552.10 L511.00,552.10 L511.75,552.10 L512.50,552.10 L513.25,552.10 L514.00,552.10 L514.75,552.10 L515.50,552.10 L516.25,552.10 L517.00,552.10 L517.75,552.10 L518.50,552.10 L519.25,552.10 L520.00,552.10 L520.75,552.10 L521.50,552.10 L522.25,552.10 L523.00,552.10 L523.75,552.10 L524.50,552.10 L525.25,552.10 L526.00,552.10 L526.75,552.10 L527.50,552.10 L528.25,552.10 L529.00,552.10 L529.75,552.10 L530.50,552.10 L531.25,552.10 L532.00,552.10 L532.75,552.10 L533.50,552.10 L534.25,552.10 L535.00,552.10 L535.75,552.10 L536.50,552.10 L537.25,552.10 L538.00,552.10 L538.75,552.10 L539.50,552.10 L540.25,552.10 L541.00,552.10 L541.75,552.10 L542.50,552.10 L543.25,552.10 L544.00,552.10 L544.75,552.10 L545.50,552.10 L546.25,552.10 L547.00,552.10 L547.75,552.10 L548.50,552.10 L549.25,552.10 L550.00,552.10 L550.75,552.10 L551.50,552.10 L552.25,552.10 L553.00,552.10 L553.75,552.10 L554.50,552.10 L555.25,552.10 L556.00,552.10 L556.75,552.10 L557.50,552.10 L558.25,552.10 L559.00,552.10 L559.75,552.10 L560.50,552.10 L561.25,552.10 L562.00,552.10 L562.75,552.10 L563.50,552.10 L564.25,552.10 L565.00,552.10 L565.75,552.10 L566.50,552.10 L567.25,552.10 L568.00,552.10 L568.75,552.10 L569.50,552.10 L570.25,552.10 L571.00,552.10 L571.75,552.10 L572.50,552.10 L573.25,552.10 L574.00,552.10 L574.75,552.10 L575.50,552.10 L576.25,552.10 L577.00,552.10 L577.75,552.10 L578.50,552.10 L579.25,552.10 L580.00,552.10 L580.75,552.10 L581.50,552.10 L582.25,552.10 L583.00,552.10 L583.75,552.10 L584.50,552.10 L585.25,552.10 L586.00,552.10 L586.75,552.10 L587.50,552.10 L588.25,552.10 L589.00,552.10 L589.75,552.10 L590.50,552.10 L591.25,552.10 L592.00,552.10 L592.75,552.10 L593.50,552.10 L594.25,552.10 L595.00,552.10 L595.75,552.10 L596.50,552.10 L597.25,552.10 L598.00,552.10 L598.75,552.10 L599.50,552.10 L600.25,552.10 L601.00,552.10 L601.75,552.10 L602.50,552.10 L603.25,552.10 L604.00,552.10 L604.75,552.10 L605.50,552.10 L606.25,552.10 L607.00,552.10 L607.75,552.10 L608.50,552.10 L609.25,552.10 L610.00,552.10 L610.75,552.10 L611.50,552.10 L612.25,552.10 L613.00,552.10 L613.75,552.10 L614.50,552.10 L615.25,552.10 L616.00,552.10 L616.75,552.10 L617.50,552.10 L618.25,552.10 L619.00,552.10 L619.75,552.10 L620.50,552.10 L621.25,552.10 L622.00,552.10 L622.75,552.10 L623.50,552.10 L624.25,552.10 L625.00,552.10 L625.75,552.10 L626.50,552.10 L627.25,552.10 L628.00,552.10 L628.75,552.10 L629.50,552.10 L630.25,552.10 L631.00,552.10 L631.75,552.10 L632.50,552.10 L633.25,552.10 L634.00,552.10" fill="none" stroke="#64c4f4" stroke-width="3.3" stroke-linejoin="round"/><text x="633.5" y="542.0" text-anchor="end" font-size="38.5" font-family="Liberation Sans, sans-serif">5.36 V/cm</text></g>
<g><line x1="17.5" y1="713.8" x2="634" y2="713.8" stroke="#000" stroke-width="2"/><line x1="62.3" y1="713.8" x2="62.3" y2="720.8" stroke="#000" stroke-width="2"/><line x1="195.9" y1="713.8" x2="195.9" y2="727.8" stroke="#000" stroke-width="2"/><line x1="329.6" y1="713.8" x2="329.6" y2="720.8" stroke="#000" stroke-width="2"/><line x1="463.2" y1="713.8" x2="463.2" y2="727.8" stroke="#000" stroke-width="2"/><line x1="596.9" y1="713.8" x2="596.9" y2="720.8" stroke="#000" stroke-width="2"/><path d="M17.9,709.6h5.2v5.2h-5.2zM24.4,709.9h5.2v5.2h-5.2zM30.9,710.0h5.2v5.2h-5.2zM37.4,710.2h5.2v5.2h-5.2zM43.9,709.9h5.2v5.2h-5.2zM50.4,709.8h5.2v5.2h-5.2zM56.9,710.0h5.2v5.2h-5.2zM63.4,710.0h5.2v5.2h-5.2zM69.9,710.2h5.2v5.2h-5.2zM76.4,709.5h5.2v5.2h-5.2zM82.9,709.8h5.2v5.2h-5.2zM89.4,710.0h5.2v5.2h-5.2zM95.9,709.7h5.2v5.2h-5.2zM102.4,709.8h5.2v5.2h-5.2zM108.9,709.8h5.2v5.2h-5.2zM115.4,709.8h5.2v5.2h-5.2zM121.9,709.5h5.2v5.2h-5.2zM128.4,708.7h5.2v5.2h-5.2zM134.9,706.8h5.2v5.2h-5.2zM141.4,704.0h5.2v5.2h-5.2zM147.9,701.2h5.2v5.2h-5.2zM154.4,695.4h5.2v5.2h-5.2zM160.9,693.9h5.2v5.2h-5.2zM167.4,694.5h5.2v5.2h-5.2zM173.9,693.2h5.2v5.2h-5.2zM180.4,687.9h5.2v5.2h-5.2zM186.9,698.7h5.2v5.2h-5.2zM193.4,700.7h5.2v5.2h-5.2zM199.9,702.8h5.2v5.2h-5.2zM206.4,704.4h5.2v5.2h-5.2zM212.9,710.2h5.2v5.2h-5.2zM219.4,709.8h5.2v5.2h-5.2zM225.9,709.9h5.2v5.2h-5.2zM232.4,710.0h5.2v5.2h-5.2zM238.9,709.9h5.2v5.2h-5.2zM245.4,709.7h5.2v5.2h-5.2zM251.9,709.7h5.2v5.2h-5.2zM258.4,709.2h5.2v5.2h-5.2zM264.9,709.3h5.2v5.2h-5.2zM271.4,709.9h5.2v5.2h-5.2zM277.9,708.6h5.2v5.2h-5.2zM284.4,702.6h5.2v5.2h-5.2zM290.9,702.1h5.2v5.2h-5.2zM466.4,709.6h5.2v5.2h-5.2zM472.9,709.7h5.2v5.2h-5.2zM479.4,709.7h5.2v5.2h-5.2zM485.9,709.9h5.2v5.2h-5.2zM492.4,709.8h5.2v5.2h-5.2zM498.9,709.8h5.2v5.2h-5.2zM505.4,710.0h5.2v5.2h-5.2zM511.9,709.8h5.2v5.2h-5.2zM518.4,710.2h5.2v5.2h-5.2zM524.9,709.7h5.2v5.2h-5.2zM531.4,709.7h5.2v5.2h-5.2zM537.9,709.2h5.2v5.2h-5.2zM544.4,709.9h5.2v5.2h-5.2zM550.9,710.2h5.2v5.2h-5.2zM557.4,710.1h5.2v5.2h-5.2zM563.9,710.0h5.2v5.2h-5.2zM570.4,710.1h5.2v5.2h-5.2zM576.9,710.2h5.2v5.2h-5.2zM583.4,710.0h5.2v5.2h-5.2zM589.9,710.2h5.2v5.2h-5.2zM596.4,709.6h5.2v5.2h-5.2zM602.9,710.2h5.2v5.2h-5.2zM609.4,709.8h5.2v5.2h-5.2zM615.9,709.7h5.2v5.2h-5.2zM622.4,709.8h5.2v5.2h-5.2zM628.9,709.6h5.2v5.2h-5.2zM297.4,701.9h5.2v5.2h-5.2zM303.7,705.7h5.2v5.2h-5.2zM308.7,705.9h5.2v5.2h-5.2zM313.8,703.2h5.2v5.2h-5.2zM320.1,700.7h5.2v5.2h-5.2zM326.4,692.6h5.2v5.2h-5.2zM332.7,700.2h5.2v5.2h-5.2zM337.7,700.7h5.2v5.2h-5.2zM344.0,696.1h5.2v5.2h-5.2zM350.3,680.0h5.2v5.2h-5.2zM355.8,680.0h5.2v5.2h-5.2zM361.6,645.8h5.2v5.2h-5.2zM368.7,618.1h5.2v5.2h-5.2zM374.2,625.1h5.2v5.2h-5.2zM380.5,643.2h5.2v5.2h-5.2zM386.1,625.1h5.2v5.2h-5.2zM392.6,637.7h5.2v5.2h-5.2zM398.2,656.6h5.2v5.2h-5.2zM405.0,666.7h5.2v5.2h-5.2zM410.8,685.6h5.2v5.2h-5.2zM417.0,691.9h5.2v5.2h-5.2zM422.6,700.7h5.2v5.2h-5.2zM428.3,703.2h5.2v5.2h-5.2zM434.7,708.2h5.2v5.2h-5.2zM441.0,707.6h5.2v5.2h-5.2zM447.3,704.4h5.2v5.2h-5.2zM453.6,706.2h5.2v5.2h-5.2zM459.9,706.2h5.2v5.2h-5.2z" fill="#000"/><path d="M17.50,712.60 L18.25,712.60 L19.00,712.60 L19.75,712.60 L20.50,712.60 L21.25,712.60 L22.00,712.60 L22.75,712.60 L23.50,712.60 L24.25,712.60 L25.00,712.60 L25.75,712.60 L26.50,712.60 L27.25,712.60 L28.00,712.60 L28.75,712.60 L29.50,712.60 L30.25,712.60 L31.00,712.60 L31.75,712.60 L32.50,712.60 L33.25,712.60 L34.00,712.60 L34.75,712.60 L35.50,712.60 L36.25,712.60 L37.00,712.60 L37.75,712.60 L38.50,712.60 L39.25,712.60 L40.00,712.60 L40.75,712.60 L41.50,712.60 L42.25,712.60 L43.00,712.60 L43.75,712.60 L44.50,712.60 L45.25,712.60 L46.00,712.60 L46.75,712.60 L47.50,712.60 L48.25,712.60 L49.00,712.60 L49.75,712.60 L50.50,712.60 L51.25,712.60 L52.00,712.60 L52.75,712.60 L53.50,712.60 L54.25,712.60 L55.00,712.60 L55.75,712.60 L56.50,712.60 L57.25,712.60 L58.00,712.60 L58.75,712.60 L59.50,712.60 L60.25,712.60 L61.00,712.60 L61.75,712.60 L62.50,712.60 L63.25,712.60 L64.00,712.60 L64.75,712.60 L65.50,712.60 L66.25,712.60 L67.00,712.60 L67.75,712.60 L68.50,712.60 L69.25,712.60 L70.00,712.60 L70.75,712.60 L71.50,712.60 L72.25,712.60 L73.00,712.60 L73.75,712.60 L74.50,712.60 L75.25,712.60 L76.00,712.60 L76.75,712.60 L77.50,712.60 L78.25,712.60 L79.00,712.60 L79.75,712.60 L80.50,712.60 L81.25,712.60 L82.00,712.60 L82.75,712.60 L83.50,712.60 L84.25,712.60 L85.00,712.60 L85.75,712.60 L86.50,712.60 L87.25,712.60 L88.00,712.60 L88.75,712.60 L89.50,712.60 L90.25,712.60 L91.00,712.60 L91.75,712.60 L92.50,712.60 L93.25,712.60 L94.00,712.60 L94.75,712.60 L95.50,712.60 L96.25,712.60 L97.00,712.60 L97.75,712.60 L98.50,712.60 L99.25,712.60 L100.00,712.60 L100.75,712.60 L101.50,712.60 L102.25,712.60 L103.00,712.59 L103.75,712.59 L104.50,712.59 L105.25,712.59 L106.00,712.59 L106.75,712.59 L107.50,712.58 L108.25,712.58 L109.00,712.58 L109.75,712.58 L110.50,712.57 L111.25,712.57 L112.00,712.56 L112.75,712.56 L113.50,712.55 L114.25,712.54 L115.00,712.53 L115.75,712.52 L116.50,712.51 L117.25,712.50 L118.00,712.48 L118.75,712.47 L119.50,712.45 L120.25,712.43 L121.00,712.40 L121.75,712.38 L122.50,712.35 L123.25,712.31 L124.00,712.28 L124.75,712.24 L125.50,712.19 L126.25,712.14 L127.00,712.08 L127.75,712.02 L128.50,711.95 L129.25,711.88 L130.00,711.80 L130.75,711.71 L131.50,711.61 L132.25,711.51 L133.00,711.39 L133.75,711.26 L134.50,711.13 L135.25,710.98 L136.00,710.82 L136.75,710.65 L137.50,710.47 L138.25,710.27 L139.00,710.06 L139.75,709.84 L140.50,709.60 L141.25,709.34 L142.00,709.07 L142.75,708.79 L143.50,708.49 L144.25,708.17 L145.00,707.83 L145.75,707.48 L146.50,707.12 L147.25,706.74 L148.00,706.34 L148.75,705.92 L149.50,705.49 L150.25,705.05 L151.00,704.60 L151.75,704.13 L152.50,703.64 L153.25,703.15 L154.00,702.65 L154.75,702.14 L155.50,701.62 L156.25,701.10 L157.00,700.57 L157.75,700.04 L158.50,699.51 L159.25,698.98 L160.00,698.45 L160.75,697.93 L161.50,697.42 L162.25,696.91 L163.00,696.42 L163.75,695.94 L164.50,695.48 L165.25,695.03 L166.00,694.60 L166.75,694.20 L167.50,693.82 L168.25,693.46 L169.00,693.13 L169.75,692.83 L170.50,692.56 L171.25,692.32 L172.00,692.11 L172.75,691.94 L173.50,691.80 L174.25,691.70 L175.00,691.63 L175.75,691.60 L176.50,691.61 L177.25,691.65 L178.00,691.73 L178.75,691.84 L179.50,691.99 L180.25,692.18 L181.00,692.39 L181.75,692.64 L182.50,692.93 L183.25,693.24 L184.00,693.57 L184.75,693.94 L185.50,694.33 L186.25,694.74 L187.00,695.18 L187.75,695.63 L188.50,696.10 L189.25,696.58 L190.00,697.08 L190.75,697.59 L191.50,698.11 L192.25,698.63 L193.00,699.16 L193.75,699.69 L194.50,700.22 L195.25,700.75 L196.00,701.27 L196.75,701.79 L197.50,702.31 L198.25,702.82 L199.00,703.32 L199.75,703.81 L200.50,704.28 L201.25,704.75 L202.00,705.20 L202.75,705.64 L203.50,706.06 L204.25,706.47 L205.00,706.86 L205.75,707.24 L206.50,707.60 L207.25,707.95 L208.00,708.28 L208.75,708.59 L209.50,708.88 L210.25,709.16 L211.00,709.43 L211.75,709.68 L212.50,709.91 L213.25,710.13 L214.00,710.34 L214.75,710.53 L215.50,710.71 L216.25,710.88 L217.00,711.03 L217.75,711.17 L218.50,711.31 L219.25,711.43 L220.00,711.54 L220.75,711.64 L221.50,711.74 L222.25,711.83 L223.00,711.91 L223.75,711.98 L224.50,712.04 L225.25,712.10 L226.00,712.16 L226.75,712.21 L227.50,712.25 L228.25,712.29 L229.00,712.32 L229.75,712.36 L230.50,712.39 L231.25,712.41 L232.00,712.43 L232.75,712.45 L233.50,712.47 L234.25,712.49 L235.00,712.50 L235.75,712.51 L236.50,712.53 L237.25,712.54 L238.00,712.54 L238.75,712.55 L239.50,712.56 L240.25,712.56 L241.00,712.57 L241.75,712.57 L242.50,712.58 L243.25,712.58 L244.00,712.58 L244.75,712.59 L245.50,712.59 L246.25,712.59 L247.00,712.59 L247.75,712.59 L248.50,712.59 L249.25,712.59 L250.00,712.60 L250.75,712.60 L251.50,712.60 L252.25,712.60 L253.00,712.60 L253.75,712.60 L254.50,712.60 L255.25,712.60 L256.00,712.60 L256.75,712.60 L257.50,712.60 L258.25,712.60 L259.00,712.60 L259.75,712.60 L260.50,712.59 L261.25,712.59 L262.00,712.59 L262.75,712.58 L263.50,712.58 L264.25,712.57 L265.00,712.55 L265.75,712.54 L266.50,712.52 L267.25,712.49 L268.00,712.46 L268.75,712.41 L269.50,712.36 L270.25,712.29 L271.00,712.20 L271.75,712.10 L272.50,711.98 L273.25,711.83 L274.00,711.66 L274.75,711.46 L275.50,711.22 L276.25,710.96 L277.00,710.65 L277.75,710.32 L278.50,709.94 L279.25,709.54 L280.00,709.10 L280.75,708.64 L281.50,708.15 L282.25,707.65 L283.00,707.14 L283.75,706.63 L284.50,706.13 L285.25,705.65 L286.00,705.20 L286.75,704.78 L287.50,704.42 L288.25,704.12 L289.00,703.88 L289.75,703.71 L290.50,703.62 L291.25,703.60 L292.00,703.67 L292.75,703.81 L293.50,704.03 L294.25,704.31 L295.00,704.66 L295.75,705.05 L296.50,705.49 L297.25,705.96 L298.00,706.46 L298.75,706.97 L299.50,707.48 L300.25,707.98 L301.00,708.47 L301.75,708.94 L302.50,709.38 L303.25,709.80 L304.00,710.18 L304.75,710.52 L305.50,710.83 L306.25,711.11 L307.00,711.35 L307.75,711.56 L308.50,711.73 L309.25,711.88 L310.00,712.00 L310.75,712.09 L311.50,712.16 L312.25,712.21 L313.00,712.23 L313.75,712.22 L314.50,712.17 L315.25,712.08 L316.00,711.93 L316.75,711.70 L317.50,711.39 L318.25,710.96 L319.00,710.39 L319.75,709.68 L320.50,708.82 L321.25,707.80 L322.00,706.65 L322.75,705.41 L323.50,704.12 L324.25,702.84 L325.00,701.66 L325.75,700.64 L326.50,699.86 L327.25,699.36 L328.00,699.17 L328.75,699.29 L329.50,699.70 L330.25,700.34 L331.00,701.16 L331.75,702.08 L332.50,703.01 L333.25,703.89 L334.00,704.66 L334.75,705.29 L335.50,705.74 L336.25,706.02 L337.00,706.11 L337.75,706.04 L338.50,705.83 L339.25,705.48 L340.00,705.02 L340.75,704.46 L341.50,703.82 L342.25,703.10 L343.00,702.32 L343.75,701.47 L344.50,700.56 L345.25,699.60 L346.00,698.57 L346.75,697.48 L347.50,696.34 L348.25,695.14 L349.00,693.87 L349.75,692.55 L350.50,691.17 L351.25,689.72 L352.00,688.22 L352.75,686.66 L353.50,685.05 L354.25,683.38 L355.00,681.66 L355.75,679.89 L356.50,678.07 L357.25,676.20 L358.00,674.30 L358.75,672.36 L359.50,670.39 L360.25,668.39 L361.00,666.37 L361.75,664.34 L362.50,662.29 L363.25,660.24 L364.00,658.19 L364.75,656.15 L365.50,654.13 L366.25,652.13 L367.00,650.16 L367.75,648.22 L368.50,646.33 L369.25,644.50 L370.00,642.72 L370.75,641.01 L371.50,639.37 L372.25,637.81 L373.00,636.34 L373.75,634.96 L374.50,633.69 L375.25,632.51 L376.00,631.45 L376.75,630.51 L377.50,629.68 L378.25,628.97 L379.00,628.40 L379.75,627.95 L380.50,627.63 L381.25,627.45 L382.00,627.40 L382.75,627.49 L383.50,627.70 L384.25,628.06 L385.00,628.54 L385.75,629.15 L386.50,629.89 L387.25,630.75 L388.00,631.72 L388.75,632.82 L389.50,634.02 L390.25,635.32 L391.00,636.72 L391.75,638.22 L392.50,639.80 L393.25,641.46 L394.00,643.19 L394.75,644.98 L395.50,646.83 L396.25,648.74 L397.00,650.68 L397.75,652.66 L398.50,654.67 L399.25,656.70 L400.00,658.74 L400.75,660.79 L401.50,662.84 L402.25,664.88 L403.00,666.91 L403.75,668.93 L404.50,670.92 L405.25,672.88 L406.00,674.81 L406.75,676.70 L407.50,678.56 L408.25,680.36 L409.00,682.12 L409.75,683.83 L410.50,685.49 L411.25,687.09 L412.00,688.63 L412.75,690.12 L413.50,691.54 L414.25,692.91 L415.00,694.22 L415.75,695.46 L416.50,696.65 L417.25,697.78 L418.00,698.85 L418.75,699.87 L419.50,700.82 L420.25,701.73 L421.00,702.58 L421.75,703.37 L422.50,704.12 L423.25,704.82 L424.00,705.47 L424.75,706.08 L425.50,706.65 L426.25,707.17 L427.00,707.66 L427.75,708.11 L428.50,708.52 L429.25,708.91 L430.00,709.26 L430.75,709.58 L431.50,709.88 L432.25,710.15 L433.00,710.40 L433.75,710.62 L434.50,710.83 L435.25,711.01 L436.00,711.18 L436.75,711.34 L437.50,711.47 L438.25,711.60 L439.00,711.71 L439.75,711.81 L440.50,711.90 L441.25,711.98 L442.00,712.06 L442.75,712.12 L443.50,712.18 L444.25,712.23 L445.00,712.28 L445.75,712.32 L446.50,712.35 L447.25,712.38 L448.00,712.41 L448.75,712.44 L449.50,712.46 L450.25,712.48 L451.00,712.49 L451.75,712.51 L452.50,712.52 L453.25,712.53 L454.00,712.54 L454.75,712.55 L455.50,712.56 L456.25,712.56 L457.00,712.57 L457.75,712.57 L458.50,712.58 L459.25,712.58 L460.00,712.58 L460.75,712.59 L461.50,712.59 L462.25,712.59 L463.00,712.59 L463.75,712.59 L464.50,712.59 L465.25,712.59 L466.00,712.60 L466.75,712.60 L467.50,712.60 L468.25,712.60 L469.00,712.60 L469.75,712.60 L470.50,712.60 L471.25,712.60 L472.00,712.60 L472.75,712.60 L473.50,712.60 L474.25,712.60 L475.00,712.60 L475.75,712.60 L476.50,712.60 L477.25,712.60 L478.00,712.60 L478.75,712.60 L479.50,712.60 L480.25,712.60 L481.00,712.60 L481.75,712.60 L482.50,712.60 L483.25,712.60 L484.00,712.60 L484.75,712.60 L485.50,712.60 L486.25,712.60 L487.00,712.60 L487.75,712.60 L488.50,712.60 L489.25,712.60 L490.00,712.60 L490.75,712.60 L491.50,712.60 L492.25,712.60 L493.00,712.60 L493.75,712.60 L494.50,712.60 L495.25,712.60 L496.00,712.60 L496.75,712.60 L497.50,712.60 L498.25,712.60 L499.00,712.60 L499.75,712.60 L500.50,712.60 L501.25,712.60 L502.00,712.60 L502.75,712.60 L503.50,712.60 L504.25,712.60 L505.00,712.60 L505.75,712.60 L506.50,712.60 L507.25,712.60 L508.00,712.60 L508.75,712.60 L509.50,712.60 L510.25,712.60 L511.00,712.60 L511.75,712.60 L512.50,712.60 L513.25,712.60 L514.00,712.60 L514.75,712.60 L515.50,712.60 L516.25,712.60 L517.00,712.60 L517.75,712.60 L518.50,712.60 L519.25,712.60 L520.00,712.60 L520.75,712.60 L521.50,712.60 L522.25,712.60 L523.00,712.60 L523.75,712.60 L524.50,712.60 L525.25,712.60 L526.00,712.60 L526.75,712.60 L527.50,712.60 L528.25,712.60 L529.00,712.60 L529.75,712.60 L530.50,712.60 L531.25,712.60 L532.00,712.60 L532.75,712.60 L533.50,712.60 L534.25,712.60 L535.00,712.60 L535.75,712.60 L536.50,712.60 L537.25,712.60 L538.00,712.60 L538.75,712.60 L539.50,712.60 L540.25,712.60 L541.00,712.60 L541.75,712.60 L542.50,712.60 L543.25,712.60 L544.00,712.60 L544.75,712.60 L545.50,712.60 L546.25,712.60 L547.00,712.60 L547.75,712.60 L548.50,712.60 L549.25,712.60 L550.00,712.60 L550.75,712.60 L551.50,712.60 L552.25,712.60 L553.00,712.60 L553.75,712.60 L554.50,712.60 L555.25,712.60 L556.00,712.60 L556.75,712.60 L557.50,712.60 L558.25,712.60 L559.00,712.60 L559.75,712.60 L560.50,712.60 L561.25,712.60 L562.00,712.60 L562.75,712.60 L563.50,712.60 L564.25,712.60 L565.00,712.60 L565.75,712.60 L566.50,712.60 L567.25,712.60 L568.00,712.60 L568.75,712.60 L569.50,712.60 L570.25,712.60 L571.00,712.60 L571.75,712.60 L572.50,712.60 L573.25,712.60 L574.00,712.60 L574.75,712.60 L575.50,712.60 L576.25,712.60 L577.00,712.60 L577.75,712.60 L578.50,712.60 L579.25,712.60 L580.00,712.60 L580.75,712.60 L581.50,712.60 L582.25,712.60 L583.00,712.60 L583.75,712.60 L584.50,712.60 L585.25,712.60 L586.00,712.60 L586.75,712.60 L587.50,712.60 L588.25,712.60 L589.00,712.60 L589.75,712.60 L590.50,712.60 L591.25,712.60 L592.00,712.60 L592.75,712.60 L593.50,712.60 L594.25,712.60 L595.00,712.60 L595.75,712.60 L596.50,712.60 L597.25,712.60 L598.00,712.60 L598.75,712.60 L599.50,712.60 L600.25,712.60 L601.00,712.60 L601.75,712.60 L602.50,712.60 L603.25,712.60 L604.00,712.60 L604.75,712.60 L605.50,712.60 L606.25,712.60 L607.00,712.60 L607.75,712.60 L608.50,712.60 L609.25,712.60 L610.00,712.60 L610.75,712.60 L611.50,712.60 L612.25,712.60 L613.00,712.60 L613.75,712.60 L614.50,712.60 L615.25,712.60 L616.00,712.60 L616.75,712.60 L617.50,712.60 L618.25,712.60 L619.00,712.60 L619.75,712.60 L620.50,712.60 L621.25,712.60 L622.00,712.60 L622.75,712.60 L623.50,712.60 L624.25,712.60 L625.00,712.60 L625.75,712.60 L626.50,712.60 L627.25,712.60 L628.00,712.60 L628.75,712.60 L629.50,712.60 L630.25,712.60 L631.00,712.60 L631.75,712.60 L632.50,712.60 L633.25,712.60 L634.00,712.60" fill="none" stroke="#64c4f4" stroke-width="3.3" stroke-linejoin="round"/><text x="633.5" y="700.8" text-anchor="end" font-size="38.5" font-family="Liberation Sans, sans-serif">5.19 V/cm</text></g>
<g><line x1="17.5" y1="871.8" x2="634" y2="871.8" stroke="#000" stroke-width="2"/><line x1="62.3" y1="871.8" x2="62.3" y2="885.8" stroke="#000" stroke-width="2"/><line x1="129.1" y1="871.8" x2="129.1" y2="878.8" stroke="#000" stroke-width="2"/><line x1="195.9" y1="871.8" x2="195.9" y2="885.8" stroke="#000" stroke-width="2"/><line x1="262.8" y1="871.8" x2="262.8" y2="878.8" stroke="#000" stroke-width="2"/><line x1="329.6" y1="871.8" x2="329.6" y2="885.8" stroke="#000" stroke-width="2"/><line x1="396.4" y1="871.8" x2="396.4" y2="878.8" stroke="#000" stroke-width="2"/><line x1="463.2" y1="871.8" x2="463.2" y2="885.8" stroke="#000" stroke-width="2"/><line x1="530.1" y1="871.8" x2="530.1" y2="878.8" stroke="#000" stroke-width="2"/><line x1="596.9" y1="871.8" x2="596.9" y2="885.8" stroke="#000" stroke-width="2"/><path d="M17.9,867.4h5.2v5.2h-5.2zM24.4,868.0h5.2v5.2h-5.2zM30.9,867.9h5.2v5.2h-5.2zM37.4,868.1h5.2v5.2h-5.2zM43.9,868.1h5.2v5.2h-5.2zM50.4,867.6h5.2v5.2h-5.2zM56.9,867.9h5.2v5.2h-5.2zM63.4,867.9h5.2v5.2h-5.2zM69.9,867.6h5.2v5.2h-5.2zM76.4,867.4h5.2v5.2h-5.2zM82.9,867.6h5.2v5.2h-5.2zM89.4,867.6h5.2v5.2h-5.2zM95.9,868.1h5.2v5.2h-5.2zM102.4,867.5h5.2v5.2h-5.2zM108.9,867.5h5.2v5.2h-5.2zM115.4,868.0h5.2v5.2h-5.2zM121.9,867.6h5.2v5.2h-5.2zM128.4,865.9h5.2v5.2h-5.2zM134.9,866.5h5.2v5.2h-5.2zM141.4,865.0h5.2v5.2h-5.2zM147.9,862.8h5.2v5.2h-5.2zM154.4,856.5h5.2v5.2h-5.2zM160.9,857.6h5.2v5.2h-5.2zM167.4,854.6h5.2v5.2h-5.2zM173.9,852.6h5.2v5.2h-5.2zM180.4,852.3h5.2v5.2h-5.2zM186.9,855.0h5.2v5.2h-5.2zM193.4,858.6h5.2v5.2h-5.2zM199.9,861.8h5.2v5.2h-5.2zM206.4,867.5h5.2v5.2h-5.2zM212.9,866.3h5.2v5.2h-5.2zM219.4,866.4h5.2v5.2h-5.2zM225.9,867.1h5.2v5.2h-5.2zM232.4,867.8h5.2v5.2h-5.2zM238.9,867.3h5.2v5.2h-5.2zM245.4,867.5h5.2v5.2h-5.2zM251.9,867.2h5.2v5.2h-5.2zM258.4,867.2h5.2v5.2h-5.2zM264.9,867.4h5.2v5.2h-5.2zM271.4,867.8h5.2v5.2h-5.2zM277.9,867.3h5.2v5.2h-5.2zM284.4,865.7h5.2v5.2h-5.2zM290.9,860.0h5.2v5.2h-5.2zM472.9,868.2h5.2v5.2h-5.2zM479.4,867.8h5.2v5.2h-5.2zM485.9,867.6h5.2v5.2h-5.2zM492.4,867.7h5.2v5.2h-5.2zM498.9,867.8h5.2v5.2h-5.2zM505.4,867.8h5.2v5.2h-5.2zM511.9,867.8h5.2v5.2h-5.2zM518.4,868.0h5.2v5.2h-5.2zM524.9,868.0h5.2v5.2h-5.2zM531.4,867.9h5.2v5.2h-5.2zM537.9,867.9h5.2v5.2h-5.2zM544.4,867.8h5.2v5.2h-5.2zM550.9,868.1h5.2v5.2h-5.2zM557.4,867.6h5.2v5.2h-5.2zM563.9,867.7h5.2v5.2h-5.2zM570.4,868.0h5.2v5.2h-5.2zM576.9,868.2h5.2v5.2h-5.2zM583.4,868.2h5.2v5.2h-5.2zM589.9,868.0h5.2v5.2h-5.2zM596.4,867.9h5.2v5.2h-5.2zM602.9,868.1h5.2v5.2h-5.2zM609.4,867.7h5.2v5.2h-5.2zM615.9,868.2h5.2v5.2h-5.2zM622.4,867.6h5.2v5.2h-5.2zM628.9,868.2h5.2v5.2h-5.2zM297.4,863.2h5.2v5.2h-5.2zM303.7,865.7h5.2v5.2h-5.2zM308.7,865.9h5.2v5.2h-5.2zM313.8,865.7h5.2v5.2h-5.2zM321.3,865.7h5.2v5.2h-5.2zM327.6,859.4h5.2v5.2h-5.2zM333.9,858.2h5.2v5.2h-5.2zM339.0,861.9h5.2v5.2h-5.2zM345.3,858.2h5.2v5.2h-5.2zM350.8,857.7h5.2v5.2h-5.2zM357.1,840.5h5.2v5.2h-5.2zM363.4,832.5h5.2v5.2h-5.2zM369.2,832.5h5.2v5.2h-5.2zM374.2,799.0h5.2v5.2h-5.2zM380.5,796.4h5.2v5.2h-5.2zM385.6,779.6h5.2v5.2h-5.2zM391.9,809.0h5.2v5.2h-5.2zM397.7,810.3h5.2v5.2h-5.2zM403.2,828.4h5.2v5.2h-5.2zM409.5,828.4h5.2v5.2h-5.2zM414.5,854.4h5.2v5.2h-5.2zM420.8,861.9h5.2v5.2h-5.2zM427.1,864.4h5.2v5.2h-5.2zM433.4,865.7h5.2v5.2h-5.2zM439.7,866.4h5.2v5.2h-5.2zM446.0,866.6h5.2v5.2h-5.2zM452.3,865.9h5.2v5.2h-5.2zM456.1,864.4h5.2v5.2h-5.2zM461.9,866.2h5.2v5.2h-5.2zM467.4,863.7h5.2v5.2h-5.2z" fill="#000"/><path d="M17.50,870.60 L18.25,870.60 L19.00,870.60 L19.75,870.60 L20.50,870.60 L21.25,870.60 L22.00,870.60 L22.75,870.60 L23.50,870.60 L24.25,870.60 L25.00,870.60 L25.75,870.60 L26.50,870.60 L27.25,870.60 L28.00,870.60 L28.75,870.60 L29.50,870.60 L30.25,870.60 L31.00,870.60 L31.75,870.60 L32.50,870.60 L33.25,870.60 L34.00,870.60 L34.75,870.60 L35.50,870.60 L36.25,870.60 L37.00,870.60 L37.75,870.60 L38.50,870.60 L39.25,870.60 L40.00,870.60 L40.75,870.60 L41.50,870.60 L42.25,870.60 L43.00,870.60 L43.75,870.60 L44.50,870.60 L45.25,870.60 L46.00,870.60 L46.75,870.60 L47.50,870.60 L48.25,870.60 L49.00,870.60 L49.75,870.60 L50.50,870.60 L51.25,870.60 L52.00,870.60 L52.75,870.60 L53.50,870.60 L54.25,870.60 L55.00,870.60 L55.75,870.60 L56.50,870.60 L57.25,870.60 L58.00,870.60 L58.75,870.60 L59.50,870.60 L60.25,870.60 L61.00,870.60 L61.75,870.60 L62.50,870.60 L63.25,870.60 L64.00,870.60 L64.75,870.60 L65.50,870.60 L66.25,870.60 L67.00,870.60 L67.75,870.60 L68.50,870.60 L69.25,870.60 L70.00,870.60 L70.75,870.60 L71.50,870.60 L72.25,870.60 L73.00,870.60 L73.75,870.60 L74.50,870.60 L75.25,870.60 L76.00,870.60 L76.75,870.60 L77.50,870.60 L78.25,870.60 L79.00,870.60 L79.75,870.60 L80.50,870.60 L81.25,870.60 L82.00,870.60 L82.75,870.60 L83.50,870.60 L84.25,870.60 L85.00,870.60 L85.75,870.60 L86.50,870.60 L87.25,870.60 L88.00,870.60 L88.75,870.60 L89.50,870.60 L90.25,870.60 L91.00,870.60 L91.75,870.60 L92.50,870.60 L93.25,870.60 L94.00,870.59 L94.75,870.59 L95.50,870.59 L96.25,870.59 L97.00,870.59 L97.75,870.59 L98.50,870.59 L99.25,870.59 L100.00,870.58 L100.75,870.58 L101.50,870.58 L102.25,870.58 L103.00,870.57 L103.75,870.57 L104.50,870.56 L105.25,870.56 L106.00,870.55 L106.75,870.55 L107.50,870.54 L108.25,870.53 L109.00,870.52 L109.75,870.51 L110.50,870.50 L111.25,870.49 L112.00,870.48 L112.75,870.46 L113.50,870.45 L114.25,870.43 L115.00,870.41 L115.75,870.39 L116.50,870.36 L117.25,870.34 L118.00,870.31 L118.75,870.27 L119.50,870.24 L120.25,870.20 L121.00,870.16 L121.75,870.11 L122.50,870.06 L123.25,870.01 L124.00,869.95 L124.75,869.89 L125.50,869.82 L126.25,869.75 L127.00,869.67 L127.75,869.59 L128.50,869.50 L129.25,869.40 L130.00,869.30 L130.75,869.19 L131.50,869.07 L132.25,868.95 L133.00,868.82 L133.75,868.68 L134.50,868.53 L135.25,868.37 L136.00,868.21 L136.75,868.04 L137.50,867.85 L138.25,867.66 L139.00,867.47 L139.75,867.26 L140.50,867.04 L141.25,866.82 L142.00,866.58 L142.75,866.34 L143.50,866.09 L144.25,865.83 L145.00,865.56 L145.75,865.29 L146.50,865.01 L147.25,864.72 L148.00,864.43 L148.75,864.13 L149.50,863.83 L150.25,863.52 L151.00,863.21 L151.75,862.89 L152.50,862.58 L153.25,862.26 L154.00,861.94 L154.75,861.62 L155.50,861.30 L156.25,860.99 L157.00,860.68 L157.75,860.37 L158.50,860.07 L159.25,859.78 L160.00,859.49 L160.75,859.21 L161.50,858.94 L162.25,858.68 L163.00,858.43 L163.75,858.20 L164.50,857.98 L165.25,857.77 L166.00,857.58 L166.75,857.40 L167.50,857.24 L168.25,857.09 L169.00,856.97 L169.75,856.86 L170.50,856.77 L171.25,856.70 L172.00,856.64 L172.75,856.61 L173.50,856.60 L174.25,856.61 L175.00,856.63 L175.75,856.68 L176.50,856.75 L177.25,856.83 L178.00,856.93 L178.75,857.06 L179.50,857.20 L180.25,857.35 L181.00,857.53 L181.75,857.71 L182.50,857.92 L183.25,858.14 L184.00,858.37 L184.75,858.61 L185.50,858.87 L186.25,859.14 L187.00,859.41 L187.75,859.70 L188.50,859.99 L189.25,860.29 L190.00,860.60 L190.75,860.90 L191.50,861.22 L192.25,861.53 L193.00,861.85 L193.75,862.17 L194.50,862.49 L195.25,862.80 L196.00,863.12 L196.75,863.43 L197.50,863.74 L198.25,864.04 L199.00,864.34 L199.75,864.64 L200.50,864.93 L201.25,865.21 L202.00,865.48 L202.75,865.75 L203.50,866.01 L204.25,866.26 L205.00,866.51 L205.75,866.74 L206.50,866.97 L207.25,867.19 L208.00,867.40 L208.75,867.60 L209.50,867.79 L210.25,867.97 L211.00,868.14 L211.75,868.31 L212.50,868.47 L213.25,868.62 L214.00,868.76 L214.75,868.89 L215.50,869.01 L216.25,869.13 L217.00,869.24 L217.75,869.34 L218.50,869.44 L219.25,869.53 L220.00,869.61 L220.75,869.68 L221.50,869.76 L222.25,869.82 L223.00,869.88 L223.75,869.94 L224.50,869.99 L225.25,870.03 L226.00,870.07 L226.75,870.11 L227.50,870.15 L228.25,870.18 L229.00,870.20 L229.75,870.23 L230.50,870.25 L231.25,870.27 L232.00,870.28 L232.75,870.30 L233.50,870.31 L234.25,870.32 L235.00,870.32 L235.75,870.33 L236.50,870.33 L237.25,870.33 L238.00,870.33 L238.75,870.33 L239.50,870.33 L240.25,870.32 L241.00,870.32 L241.75,870.31 L242.50,870.30 L243.25,870.29 L244.00,870.28 L244.75,870.27 L245.50,870.25 L246.25,870.24 L247.00,870.22 L247.75,870.21 L248.50,870.19 L249.25,870.17 L250.00,870.15 L250.75,870.13 L251.50,870.11 L252.25,870.09 L253.00,870.06 L253.75,870.04 L254.50,870.01 L255.25,869.98 L256.00,869.96 L256.75,869.93 L257.50,869.90 L258.25,869.86 L259.00,869.83 L259.75,869.80 L260.50,869.76 L261.25,869.73 L262.00,869.69 L262.75,869.65 L263.50,869.61 L264.25,869.57 L265.00,869.53 L265.75,869.49 L266.50,869.44 L267.25,869.40 L268.00,869.35 L268.75,869.30 L269.50,869.25 L270.25,869.20 L271.00,869.15 L271.75,869.10 L272.50,869.04 L273.25,868.99 L274.00,868.93 L274.75,868.87 L275.50,868.81 L276.25,868.75 L277.00,868.69 L277.75,868.63 L278.50,868.57 L279.25,868.50 L280.00,868.44 L280.75,868.37 L281.50,868.30 L282.25,868.23 L283.00,868.16 L283.75,868.09 L284.50,868.02 L285.25,867.95 L286.00,867.88 L286.75,867.80 L287.50,867.73 L288.25,867.65 L289.00,867.58 L289.75,867.50 L290.50,867.43 L291.25,867.35 L292.00,867.27 L292.75,867.19 L293.50,867.12 L294.25,867.04 L295.00,866.96 L295.75,866.88 L296.50,866.80 L297.25,866.73 L298.00,866.65 L298.75,866.57 L299.50,866.50 L300.25,866.42 L301.00,866.34 L301.75,866.27 L302.50,866.19 L303.25,866.12 L304.00,866.05 L304.75,865.97 L305.50,865.90 L306.25,865.83 L307.00,865.76 L307.75,865.70 L308.50,865.63 L309.25,865.57 L310.00,865.50 L310.75,865.44 L311.50,865.38 L312.25,865.32 L313.00,865.26 L313.75,865.21 L314.50,865.16 L315.25,865.10 L316.00,865.05 L316.75,865.01 L317.50,864.96 L318.25,864.92 L319.00,864.87 L319.75,864.83 L320.50,864.79 L321.25,864.76 L322.00,864.72 L322.75,864.69 L323.50,864.66 L324.25,864.63 L325.00,864.60 L325.75,864.57 L326.50,864.54 L327.25,864.51 L328.00,864.48 L328.75,864.46 L329.50,864.43 L330.25,864.40 L331.00,864.37 L331.75,864.33 L332.50,864.30 L333.25,864.26 L334.00,864.21 L334.75,864.16 L335.50,864.11 L336.25,864.04 L337.00,863.97 L337.75,863.89 L338.50,863.79 L339.25,863.68 L340.00,863.56 L340.75,863.42 L341.50,863.27 L342.25,863.09 L343.00,862.89 L343.75,862.67 L344.50,862.42 L345.25,862.15 L346.00,861.84 L346.75,861.49 L347.50,861.11 L348.25,860.70 L349.00,860.24 L349.75,859.73 L350.50,859.18 L351.25,858.58 L352.00,857.93 L352.75,857.22 L353.50,856.45 L354.25,855.63 L355.00,854.74 L355.75,853.79 L356.50,852.78 L357.25,851.70 L358.00,850.55 L358.75,849.34 L359.50,848.05 L360.25,846.70 L361.00,845.29 L361.75,843.80 L362.50,842.25 L363.25,840.65 L364.00,838.98 L364.75,837.25 L365.50,835.47 L366.25,833.65 L367.00,831.78 L367.75,829.88 L368.50,827.94 L369.25,825.98 L370.00,824.00 L370.75,822.02 L371.50,820.03 L372.25,818.05 L373.00,816.09 L373.75,814.15 L374.50,812.25 L375.25,810.39 L376.00,808.59 L376.75,806.85 L377.50,805.18 L378.25,803.59 L379.00,802.10 L379.75,800.70 L380.50,799.41 L381.25,798.24 L382.00,797.19 L382.75,796.27 L383.50,795.48 L384.25,794.84 L385.00,794.34 L385.75,793.98 L386.50,793.78 L387.25,793.73 L388.00,793.83 L388.75,794.08 L389.50,794.49 L390.25,795.04 L391.00,795.74 L391.75,796.58 L392.50,797.55 L393.25,798.66 L394.00,799.90 L394.75,801.25 L395.50,802.71 L396.25,804.28 L397.00,805.94 L397.75,807.68 L398.50,809.50 L399.25,811.39 L400.00,813.33 L400.75,815.33 L401.50,817.36 L402.25,819.42 L403.00,821.50 L403.75,823.59 L404.50,825.68 L405.25,827.77 L406.00,829.84 L406.75,831.89 L407.50,833.91 L408.25,835.89 L409.00,837.84 L409.75,839.73 L410.50,841.58 L411.25,843.37 L412.00,845.10 L412.75,846.77 L413.50,848.37 L414.25,849.91 L415.00,851.38 L415.75,852.79 L416.50,854.12 L417.25,855.38 L418.00,856.58 L418.75,857.70 L419.50,858.76 L420.25,859.76 L421.00,860.69 L421.75,861.56 L422.50,862.36 L423.25,863.12 L424.00,863.81 L424.75,864.46 L425.50,865.05 L426.25,865.59 L427.00,866.10 L427.75,866.55 L428.50,866.97 L429.25,867.35 L430.00,867.70 L430.75,868.02 L431.50,868.30 L432.25,868.56 L433.00,868.79 L433.75,869.00 L434.50,869.19 L435.25,869.35 L436.00,869.50 L436.75,869.64 L437.50,869.75 L438.25,869.86 L439.00,869.95 L439.75,870.03 L440.50,870.11 L441.25,870.17 L442.00,870.23 L442.75,870.28 L443.50,870.32 L444.25,870.36 L445.00,870.39 L445.75,870.42 L446.50,870.44 L447.25,870.46 L448.00,870.48 L448.75,870.50 L449.50,870.51 L450.25,870.53 L451.00,870.54 L451.75,870.54 L452.50,870.55 L453.25,870.56 L454.00,870.56 L454.75,870.57 L455.50,870.57 L456.25,870.58 L457.00,870.58 L457.75,870.58 L458.50,870.59 L459.25,870.59 L460.00,870.59 L460.75,870.59 L461.50,870.59 L462.25,870.59 L463.00,870.59 L463.75,870.59 L464.50,870.59 L465.25,870.60 L466.00,870.60 L466.75,870.60 L467.50,870.60 L468.25,870.60 L469.00,870.60 L469.75,870.60 L470.50,870.60 L471.25,870.60 L472.00,870.60 L472.75,870.60 L473.50,870.60 L474.25,870.60 L475.00,870.60 L475.75,870.60 L476.50,870.60 L477.25,870.60 L478.00,870.60 L478.75,870.60 L479.50,870.60 L480.25,870.60 L481.00,870.60 L481.75,870.60 L482.50,870.60 L483.25,870.60 L484.00,870.60 L484.75,870.60 L485.50,870.60 L486.25,870.60 L487.00,870.60 L487.75,870.60 L488.50,870.60 L489.25,870.60 L490.00,870.60 L490.75,870.60 L491.50,870.60 L492.25,870.60 L493.00,870.60 L493.75,870.60 L494.50,870.60 L495.25,870.60 L496.00,870.60 L496.75,870.60 L497.50,870.60 L498.25,870.60 L499.00,870.60 L499.75,870.60 L500.50,870.60 L501.25,870.60 L502.00,870.60 L502.75,870.60 L503.50,870.60 L504.25,870.60 L505.00,870.60 L505.75,870.60 L506.50,870.60 L507.25,870.60 L508.00,870.60 L508.75,870.60 L509.50,870.60 L510.25,870.60 L511.00,870.60 L511.75,870.60 L512.50,870.60 L513.25,870.60 L514.00,870.60 L514.75,870.60 L515.50,870.60 L516.25,870.60 L517.00,870.60 L517.75,870.60 L518.50,870.60 L519.25,870.60 L520.00,870.60 L520.75,870.60 L521.50,870.60 L522.25,870.60 L523.00,870.60 L523.75,870.60 L524.50,870.60 L525.25,870.60 L526.00,870.60 L526.75,870.60 L527.50,870.60 L528.25,870.60 L529.00,870.60 L529.75,870.60 L530.50,870.60 L531.25,870.60 L532.00,870.60 L532.75,870.60 L533.50,870.60 L534.25,870.60 L535.00,870.60 L535.75,870.60 L536.50,870.60 L537.25,870.60 L538.00,870.60 L538.75,870.60 L539.50,870.60 L540.25,870.60 L541.00,870.60 L541.75,870.60 L542.50,870.60 L543.25,870.60 L544.00,870.60 L544.75,870.60 L545.50,870.60 L546.25,870.60 L547.00,870.60 L547.75,870.60 L548.50,870.60 L549.25,870.60 L550.00,870.60 L550.75,870.60 L551.50,870.60 L552.25,870.60 L553.00,870.60 L553.75,870.60 L554.50,870.60 L555.25,870.60 L556.00,870.60 L556.75,870.60 L557.50,870.60 L558.25,870.60 L559.00,870.60 L559.75,870.60 L560.50,870.60 L561.25,870.60 L562.00,870.60 L562.75,870.60 L563.50,870.60 L564.25,870.60 L565.00,870.60 L565.75,870.60 L566.50,870.60 L567.25,870.60 L568.00,870.60 L568.75,870.60 L569.50,870.60 L570.25,870.60 L571.00,870.60 L571.75,870.60 L572.50,870.60 L573.25,870.60 L574.00,870.60 L574.75,870.60 L575.50,870.60 L576.25,870.60 L577.00,870.60 L577.75,870.60 L578.50,870.60 L579.25,870.60 L580.00,870.60 L580.75,870.60 L581.50,870.60 L582.25,870.60 L583.00,870.60 L583.75,870.60 L584.50,870.60 L585.25,870.60 L586.00,870.60 L586.75,870.60 L587.50,870.60 L588.25,870.60 L589.00,870.60 L589.75,870.60 L590.50,870.60 L591.25,870.60 L592.00,870.60 L592.75,870.60 L593.50,870.60 L594.25,870.60 L595.00,870.60 L595.75,870.60 L596.50,870.60 L597.25,870.60 L598.00,870.60 L598.75,870.60 L599.50,870.60 L600.25,870.60 L601.00,870.60 L601.75,870.60 L602.50,870.60 L603.25,870.60 L604.00,870.60 L604.75,870.60 L605.50,870.60 L606.25,870.60 L607.00,870.60 L607.75,870.60 L608.50,870.60 L609.25,870.60 L610.00,870.60 L610.75,870.60 L611.50,870.60 L612.25,870.60 L613.00,870.60 L613.75,870.60 L614.50,870.60 L615.25,870.60 L616.00,870.60 L616.75,870.60 L617.50,870.60 L618.25,870.60 L619.00,870.60 L619.75,870.60 L620.50,870.60 L621.25,870.60 L622.00,870.60 L622.75,870.60 L623.50,870.60 L624.25,870.60 L625.00,870.60 L625.75,870.60 L626.50,870.60 L627.25,870.60 L628.00,870.60 L628.75,870.60 L629.50,870.60 L630.25,870.60 L631.00,870.60 L631.75,870.60 L632.50,870.60 L633.25,870.60 L634.00,870.60" fill="none" stroke="#64c4f4" stroke-width="3.3" stroke-linejoin="round"/><text x="633.5" y="854.5" text-anchor="end" font-size="38.5" font-family="Liberation Sans, sans-serif">5.02 V/cm</text></g>
<g><line x1="669.5" y1="234.2" x2="1347" y2="234.2" stroke="#000" stroke-width="2"/><line x1="680.9" y1="234.2" x2="680.9" y2="241.7" stroke="#000" stroke-width="2.2"/><line x1="753.2" y1="234.2" x2="753.2" y2="249.2" stroke="#000" stroke-width="2.2"/><line x1="825.5" y1="234.2" x2="825.5" y2="241.7" stroke="#000" stroke-width="2.2"/><line x1="897.8" y1="234.2" x2="897.8" y2="249.2" stroke="#000" stroke-width="2.2"/><line x1="970.1" y1="234.2" x2="970.1" y2="241.7" stroke="#000" stroke-width="2.2"/><line x1="1042.4" y1="234.2" x2="1042.4" y2="249.2" stroke="#000" stroke-width="2.2"/><line x1="1114.7" y1="234.2" x2="1114.7" y2="241.7" stroke="#000" stroke-width="2.2"/><line x1="1187.0" y1="234.2" x2="1187.0" y2="249.2" stroke="#000" stroke-width="2.2"/><line x1="1259.3" y1="234.2" x2="1259.3" y2="241.7" stroke="#000" stroke-width="2.2"/><line x1="1331.6" y1="234.2" x2="1331.6" y2="249.2" stroke="#000" stroke-width="2.2"/><path d="M669.50,233.40 L670.25,233.40 L671.00,233.40 L671.75,233.40 L672.50,233.40 L673.25,233.40 L674.00,233.40 L674.75,233.40 L675.50,233.40 L676.25,233.40 L677.00,233.40 L677.75,233.40 L678.50,233.40 L679.25,233.40 L680.00,233.40 L680.75,233.40 L681.50,233.40 L682.25,233.40 L683.00,233.40 L683.75,233.40 L684.50,233.40 L685.25,233.40 L686.00,233.40 L686.75,233.40 L687.50,233.40 L688.25,233.40 L689.00,233.40 L689.75,233.40 L690.50,233.40 L691.25,233.40 L692.00,233.40 L692.75,233.40 L693.50,233.39 L694.25,233.39 L695.00,233.39 L695.75,233.39 L696.50,233.39 L697.25,233.38 L698.00,233.38 L698.75,233.37 L699.50,233.37 L700.25,233.36 L701.00,233.35 L701.75,233.34 L702.50,233.32 L703.25,233.31 L704.00,233.29 L704.75,233.26 L705.50,233.23 L706.25,233.20 L707.00,233.16 L707.75,233.12 L708.50,233.06 L709.25,233.00 L710.00,232.93 L710.75,232.85 L711.50,232.75 L712.25,232.64 L713.00,232.52 L713.75,232.37 L714.50,232.21 L715.25,232.03 L716.00,231.83 L716.75,231.60 L717.50,231.34 L718.25,231.06 L719.00,230.75 L719.75,230.40 L720.50,230.02 L721.25,229.60 L722.00,229.15 L722.75,228.66 L723.50,228.13 L724.25,227.56 L725.00,226.95 L725.75,226.30 L726.50,225.61 L727.25,224.89 L728.00,224.12 L728.75,223.32 L729.50,222.49 L730.25,221.63 L731.00,220.74 L731.75,219.83 L732.50,218.91 L733.25,217.97 L734.00,217.02 L734.75,216.08 L735.50,215.14 L736.25,214.22 L737.00,213.31 L737.75,212.44 L738.50,211.60 L739.25,210.80 L740.00,210.04 L740.75,209.35 L741.50,208.71 L742.25,208.14 L743.00,207.65 L743.75,207.23 L744.50,206.89 L745.25,206.64 L746.00,206.48 L746.75,206.40 L747.50,206.42 L748.25,206.52 L749.00,206.72 L749.75,207.00 L750.50,207.36 L751.25,207.80 L752.00,208.32 L752.75,208.92 L753.50,209.57 L754.25,210.29 L755.00,211.06 L755.75,211.87 L756.50,212.73 L757.25,213.61 L758.00,214.52 L758.75,215.45 L759.50,216.39 L760.25,217.34 L761.00,218.28 L761.75,219.22 L762.50,220.14 L763.25,221.04 L764.00,221.92 L764.75,222.77 L765.50,223.59 L766.25,224.38 L767.00,225.13 L767.75,225.85 L768.50,226.52 L769.25,227.16 L770.00,227.76 L770.75,228.31 L771.50,228.83 L772.25,229.31 L773.00,229.75 L773.75,230.15 L774.50,230.52 L775.25,230.85 L776.00,231.16 L776.75,231.43 L777.50,231.68 L778.25,231.90 L779.00,232.09 L779.75,232.27 L780.50,232.42 L781.25,232.56 L782.00,232.68 L782.75,232.78 L783.50,232.88 L784.25,232.95 L785.00,233.02 L785.75,233.08 L786.50,233.13 L787.25,233.18 L788.00,233.21 L788.75,233.24 L789.50,233.27 L790.25,233.29 L791.00,233.31 L791.75,233.33 L792.50,233.34 L793.25,233.35 L794.00,233.36 L794.75,233.37 L795.50,233.37 L796.25,233.38 L797.00,233.38 L797.75,233.39 L798.50,233.39 L799.25,233.39 L800.00,233.39 L800.75,233.39 L801.50,233.40 L802.25,233.40 L803.00,233.40 L803.75,233.40 L804.50,233.40 L805.25,233.40 L806.00,233.40 L806.75,233.40 L807.50,233.40 L808.25,233.40 L809.00,233.40 L809.75,233.40 L810.50,233.40 L811.25,233.40 L812.00,233.40 L812.75,233.40 L813.50,233.40 L814.25,233.40 L815.00,233.40 L815.75,233.40 L816.50,233.40 L817.25,233.40 L818.00,233.40 L818.75,233.40 L819.50,233.40 L820.25,233.40 L821.00,233.40 L821.75,233.40 L822.50,233.40 L823.25,233.40 L824.00,233.40 L824.75,233.40 L825.50,233.39 L826.25,233.39 L827.00,233.39 L827.75,233.39 L828.50,233.39 L829.25,233.39 L830.00,233.38 L830.75,233.38 L831.50,233.38 L832.25,233.37 L833.00,233.37 L833.75,233.36 L834.50,233.35 L835.25,233.34 L836.00,233.33 L836.75,233.32 L837.50,233.31 L838.25,233.29 L839.00,233.28 L839.75,233.26 L840.50,233.23 L841.25,233.21 L842.00,233.18 L842.75,233.15 L843.50,233.11 L844.25,233.07 L845.00,233.03 L845.75,232.98 L846.50,232.92 L847.25,232.86 L848.00,232.80 L848.75,232.72 L849.50,232.64 L850.25,232.56 L851.00,232.47 L851.75,232.37 L852.50,232.26 L853.25,232.14 L854.00,232.02 L854.75,231.89 L855.50,231.75 L856.25,231.60 L857.00,231.45 L857.75,231.29 L858.50,231.12 L859.25,230.95 L860.00,230.77 L860.75,230.59 L861.50,230.40 L862.25,230.21 L863.00,230.01 L863.75,229.81 L864.50,229.61 L865.25,229.42 L866.00,229.22 L866.75,229.02 L867.50,228.83 L868.25,228.64 L869.00,228.46 L869.75,228.28 L870.50,228.11 L871.25,227.94 L872.00,227.78 L872.75,227.63 L873.50,227.49 L874.25,227.36 L875.00,227.23 L875.75,227.11 L876.50,226.99 L877.25,226.88 L878.00,226.76 L878.75,226.65 L879.50,226.53 L880.25,226.41 L881.00,226.28 L881.75,226.13 L882.50,225.96 L883.25,225.77 L884.00,225.55 L884.75,225.29 L885.50,224.99 L886.25,224.65 L887.00,224.24 L887.75,223.77 L888.50,223.23 L889.25,222.60 L890.00,221.89 L890.75,221.07 L891.50,220.15 L892.25,219.11 L893.00,217.94 L893.75,216.64 L894.50,215.20 L895.25,213.61 L896.00,211.86 L896.75,209.95 L897.50,207.86 L898.25,205.61 L899.00,203.17 L899.75,200.56 L900.50,197.77 L901.25,194.81 L902.00,191.67 L902.75,188.36 L903.50,184.89 L904.25,181.27 L905.00,177.50 L905.75,173.61 L906.50,169.61 L907.25,165.51 L908.00,161.34 L908.75,157.12 L909.50,152.86 L910.25,148.60 L911.00,144.36 L911.75,140.17 L912.50,136.05 L913.25,132.04 L914.00,128.16 L914.75,124.45 L915.50,120.92 L916.25,117.61 L917.00,114.55 L917.75,111.76 L918.50,109.26 L919.25,107.08 L920.00,105.22 L920.75,103.72 L921.50,102.58 L922.25,101.81 L923.00,101.42 L923.75,101.41 L924.50,101.79 L925.25,102.54 L926.00,103.67 L926.75,105.16 L927.50,107.01 L928.25,109.19 L929.00,111.68 L929.75,114.47 L930.50,117.54 L931.25,120.85 L932.00,124.39 L932.75,128.12 L933.50,132.02 L934.25,136.06 L935.00,140.21 L935.75,144.45 L936.50,148.73 L937.25,153.05 L938.00,157.37 L938.75,161.66 L939.50,165.91 L940.25,170.09 L941.00,174.18 L941.75,178.18 L942.50,182.05 L943.25,185.79 L944.00,189.38 L944.75,192.82 L945.50,196.10 L946.25,199.22 L947.00,202.17 L947.75,204.94 L948.50,207.55 L949.25,209.98 L950.00,212.25 L950.75,214.35 L951.50,216.29 L952.25,218.08 L953.00,219.73 L953.75,221.23 L954.50,222.60 L955.25,223.84 L956.00,224.96 L956.75,225.98 L957.50,226.89 L958.25,227.70 L959.00,228.43 L959.75,229.08 L960.50,229.65 L961.25,230.16 L962.00,230.61 L962.75,231.00 L963.50,231.34 L964.25,231.64 L965.00,231.90 L965.75,232.13 L966.50,232.32 L967.25,232.49 L968.00,232.63 L968.75,232.76 L969.50,232.86 L970.25,232.95 L971.00,233.02 L971.75,233.09 L972.50,233.14 L973.25,233.19 L974.00,233.23 L974.75,233.26 L975.50,233.28 L976.25,233.30 L977.00,233.32 L977.75,233.34 L978.50,233.35 L979.25,233.36 L980.00,233.37 L980.75,233.37 L981.50,233.38 L982.25,233.38 L983.00,233.39 L983.75,233.39 L984.50,233.39 L985.25,233.39 L986.00,233.39 L986.75,233.40 L987.50,233.40 L988.25,233.40 L989.00,233.40 L989.75,233.40 L990.50,233.40 L991.25,233.40 L992.00,233.40 L992.75,233.40 L993.50,233.40 L994.25,233.40 L995.00,233.40 L995.75,233.40 L996.50,233.40 L997.25,233.40 L998.00,233.40 L998.75,233.40 L999.50,233.40 L1000.25,233.40 L1001.00,233.40 L1001.75,233.40 L1002.50,233.40 L1003.25,233.40 L1004.00,233.40 L1004.75,233.40 L1005.50,233.40 L1006.25,233.40 L1007.00,233.40 L1007.75,233.40 L1008.50,233.40 L1009.25,233.40 L1010.00,233.40 L1010.75,233.40 L1011.50,233.40 L1012.25,233.40 L1013.00,233.40 L1013.75,233.40 L1014.50,233.40 L1015.25,233.40 L1016.00,233.40 L1016.75,233.40 L1017.50,233.40 L1018.25,233.40 L1019.00,233.40 L1019.75,233.40 L1020.50,233.40 L1021.25,233.40 L1022.00,233.40 L1022.75,233.40 L1023.50,233.40 L1024.25,233.40 L1025.00,233.40 L1025.75,233.40 L1026.50,233.40 L1027.25,233.40 L1028.00,233.40 L1028.75,233.40 L1029.50,233.40 L1030.25,233.40 L1031.00,233.40 L1031.75,233.40 L1032.50,233.40 L1033.25,233.40 L1034.00,233.40 L1034.75,233.40 L1035.50,233.40 L1036.25,233.40 L1037.00,233.40 L1037.75,233.40 L1038.50,233.40 L1039.25,233.40 L1040.00,233.40 L1040.75,233.40 L1041.50,233.40 L1042.25,233.40 L1043.00,233.40 L1043.75,233.40 L1044.50,233.40 L1045.25,233.40 L1046.00,233.40 L1046.75,233.40 L1047.50,233.40 L1048.25,233.40 L1049.00,233.40 L1049.75,233.40 L1050.50,233.40 L1051.25,233.40 L1052.00,233.40 L1052.75,233.40 L1053.50,233.40 L1054.25,233.40 L1055.00,233.40 L1055.75,233.40 L1056.50,233.40 L1057.25,233.40 L1058.00,233.40 L1058.75,233.40 L1059.50,233.40 L1060.25,233.40 L1061.00,233.40 L1061.75,233.40 L1062.50,233.40 L1063.25,233.40 L1064.00,233.40 L1064.75,233.40 L1065.50,233.40 L1066.25,233.40 L1067.00,233.40 L1067.75,233.40 L1068.50,233.40 L1069.25,233.40 L1070.00,233.40 L1070.75,233.40 L1071.50,233.40 L1072.25,233.40 L1073.00,233.40 L1073.75,233.40 L1074.50,233.40 L1075.25,233.40 L1076.00,233.40 L1076.75,233.40 L1077.50,233.40 L1078.25,233.40 L1079.00,233.40 L1079.75,233.40 L1080.50,233.40 L1081.25,233.40 L1082.00,233.40 L1082.75,233.40 L1083.50,233.40 L1084.25,233.40 L1085.00,233.40 L1085.75,233.40 L1086.50,233.40 L1087.25,233.40 L1088.00,233.40 L1088.75,233.40 L1089.50,233.40 L1090.25,233.40 L1091.00,233.40 L1091.75,233.40 L1092.50,233.40 L1093.25,233.40 L1094.00,233.40 L1094.75,233.40 L1095.50,233.40 L1096.25,233.40 L1097.00,233.40 L1097.75,233.40 L1098.50,233.40 L1099.25,233.40 L1100.00,233.40 L1100.75,233.40 L1101.50,233.40 L1102.25,233.40 L1103.00,233.40 L1103.75,233.40 L1104.50,233.40 L1105.25,233.40 L1106.00,233.40 L1106.75,233.40 L1107.50,233.40 L1108.25,233.40 L1109.00,233.40 L1109.75,233.40 L1110.50,233.40 L1111.25,233.40 L1112.00,233.40 L1112.75,233.40 L1113.50,233.40 L1114.25,233.40 L1115.00,233.40 L1115.75,233.40 L1116.50,233.40 L1117.25,233.40 L1118.00,233.40 L1118.75,233.40 L1119.50,233.40 L1120.25,233.40 L1121.00,233.40 L1121.75,233.40 L1122.50,233.40 L1123.25,233.40 L1124.00,233.40 L1124.75,233.40 L1125.50,233.40 L1126.25,233.40 L1127.00,233.40 L1127.75,233.40 L1128.50,233.40 L1129.25,233.40 L1130.00,233.40 L1130.75,233.40 L1131.50,233.40 L1132.25,233.40 L1133.00,233.40 L1133.75,233.40 L1134.50,233.40 L1135.25,233.40 L1136.00,233.40 L1136.75,233.40 L1137.50,233.40 L1138.25,233.40 L1139.00,233.40 L1139.75,233.40 L1140.50,233.40 L1141.25,233.40 L1142.00,233.40 L1142.75,233.40 L1143.50,233.40 L1144.25,233.40 L1145.00,233.40 L1145.75,233.40 L1146.50,233.40 L1147.25,233.40 L1148.00,233.40 L1148.75,233.40 L1149.50,233.40 L1150.25,233.40 L1151.00,233.40 L1151.75,233.40 L1152.50,233.40 L1153.25,233.40 L1154.00,233.40 L1154.75,233.40 L1155.50,233.40 L1156.25,233.40 L1157.00,233.40 L1157.75,233.40 L1158.50,233.40 L1159.25,233.40 L1160.00,233.40 L1160.75,233.40 L1161.50,233.40 L1162.25,233.40 L1163.00,233.40 L1163.75,233.40 L1164.50,233.40 L1165.25,233.40 L1166.00,233.40 L1166.75,233.40 L1167.50,233.40 L1168.25,233.40 L1169.00,233.40 L1169.75,233.40 L1170.50,233.40 L1171.25,233.40 L1172.00,233.40 L1172.75,233.40 L1173.50,233.40 L1174.25,233.40 L1175.00,233.40 L1175.75,233.40 L1176.50,233.40 L1177.25,233.40 L1178.00,233.40 L1178.75,233.40 L1179.50,233.40 L1180.25,233.40 L1181.00,233.40 L1181.75,233.40 L1182.50,233.40 L1183.25,233.40 L1184.00,233.40 L1184.75,233.40 L1185.50,233.40 L1186.25,233.40 L1187.00,233.40 L1187.75,233.40 L1188.50,233.40 L1189.25,233.40 L1190.00,233.40 L1190.75,233.40 L1191.50,233.40 L1192.25,233.40 L1193.00,233.40 L1193.75,233.40 L1194.50,233.40 L1195.25,233.40 L1196.00,233.40 L1196.75,233.40 L1197.50,233.40 L1198.25,233.40 L1199.00,233.40 L1199.75,233.40 L1200.50,233.40 L1201.25,233.40 L1202.00,233.40 L1202.75,233.40 L1203.50,233.40 L1204.25,233.40 L1205.00,233.40 L1205.75,233.40 L1206.50,233.40 L1207.25,233.40 L1208.00,233.40 L1208.75,233.40 L1209.50,233.40 L1210.25,233.40 L1211.00,233.40 L1211.75,233.40 L1212.50,233.40 L1213.25,233.40 L1214.00,233.40 L1214.75,233.40 L1215.50,233.40 L1216.25,233.40 L1217.00,233.40 L1217.75,233.40 L1218.50,233.40 L1219.25,233.40 L1220.00,233.40 L1220.75,233.40 L1221.50,233.40 L1222.25,233.40 L1223.00,233.40 L1223.75,233.40 L1224.50,233.40 L1225.25,233.40 L1226.00,233.40 L1226.75,233.40 L1227.50,233.40 L1228.25,233.40 L1229.00,233.40 L1229.75,233.40 L1230.50,233.40 L1231.25,233.40 L1232.00,233.40 L1232.75,233.40 L1233.50,233.40 L1234.25,233.40 L1235.00,233.40 L1235.75,233.40 L1236.50,233.40 L1237.25,233.40 L1238.00,233.40 L1238.75,233.40 L1239.50,233.40 L1240.25,233.40 L1241.00,233.40 L1241.75,233.40 L1242.50,233.40 L1243.25,233.40 L1244.00,233.40 L1244.75,233.40 L1245.50,233.40 L1246.25,233.40 L1247.00,233.40 L1247.75,233.40 L1248.50,233.40 L1249.25,233.40 L1250.00,233.40 L1250.75,233.40 L1251.50,233.40 L1252.25,233.40 L1253.00,233.40 L1253.75,233.40 L1254.50,233.40 L1255.25,233.40 L1256.00,233.40 L1256.75,233.40 L1257.50,233.40 L1258.25,233.40 L1259.00,233.40 L1259.75,233.40 L1260.50,233.40 L1261.25,233.40 L1262.00,233.40 L1262.75,233.40 L1263.50,233.40 L1264.25,233.40 L1265.00,233.40 L1265.75,233.40 L1266.50,233.40 L1267.25,233.40 L1268.00,233.40 L1268.75,233.40 L1269.50,233.40 L1270.25,233.40 L1271.00,233.40 L1271.75,233.40 L1272.50,233.40 L1273.25,233.40 L1274.00,233.40 L1274.75,233.40 L1275.50,233.40 L1276.25,233.40 L1277.00,233.40 L1277.75,233.40 L1278.50,233.40 L1279.25,233.40 L1280.00,233.40 L1280.75,233.40 L1281.50,233.40 L1282.25,233.40 L1283.00,233.40 L1283.75,233.40 L1284.50,233.40 L1285.25,233.40 L1286.00,233.40 L1286.75,233.40 L1287.50,233.40 L1288.25,233.40 L1289.00,233.40 L1289.75,233.40 L1290.50,233.40 L1291.25,233.40 L1292.00,233.40 L1292.75,233.40 L1293.50,233.40 L1294.25,233.40 L1295.00,233.40 L1295.75,233.40 L1296.50,233.40 L1297.25,233.40 L1298.00,233.40 L1298.75,233.40 L1299.50,233.40 L1300.25,233.40 L1301.00,233.40 L1301.75,233.40 L1302.50,233.40 L1303.25,233.40 L1304.00,233.40 L1304.75,233.40 L1305.50,233.40 L1306.25,233.40 L1307.00,233.40 L1307.75,233.40 L1308.50,233.40 L1309.25,233.40 L1310.00,233.40 L1310.75,233.40 L1311.50,233.40 L1312.25,233.40 L1313.00,233.40 L1313.75,233.40 L1314.50,233.40 L1315.25,233.40 L1316.00,233.40 L1316.75,233.40 L1317.50,233.40 L1318.25,233.40 L1319.00,233.40 L1319.75,233.40" fill="none" stroke="#64c4f4" stroke-width="2.6" stroke-linejoin="round"/><path d="M668.4,231.2h6.2v6.2h-6.2zM674.0,231.3h6.2v6.2h-6.2zM679.6,231.3h6.2v6.2h-6.2zM685.2,231.4h6.2v6.2h-6.2zM690.8,231.2h6.2v6.2h-6.2zM696.4,231.3h6.2v6.2h-6.2zM702.0,230.9h6.2v6.2h-6.2zM707.6,230.7h6.2v6.2h-6.2zM970.8,231.1h6.2v6.2h-6.2zM976.4,231.2h6.2v6.2h-6.2zM982.0,231.3h6.2v6.2h-6.2zM987.6,231.2h6.2v6.2h-6.2zM993.2,231.2h6.2v6.2h-6.2zM998.8,231.1h6.2v6.2h-6.2zM1004.4,231.4h6.2v6.2h-6.2zM1010.0,231.1h6.2v6.2h-6.2zM1015.6,231.3h6.2v6.2h-6.2zM1021.2,231.3h6.2v6.2h-6.2zM1026.8,231.5h6.2v6.2h-6.2zM1032.4,231.2h6.2v6.2h-6.2zM1038.0,231.5h6.2v6.2h-6.2zM1043.6,231.3h6.2v6.2h-6.2zM1049.2,231.3h6.2v6.2h-6.2zM1054.8,231.3h6.2v6.2h-6.2zM1060.4,231.2h6.2v6.2h-6.2zM1066.0,231.2h6.2v6.2h-6.2zM1071.6,231.2h6.2v6.2h-6.2zM1077.2,231.4h6.2v6.2h-6.2zM1082.8,231.3h6.2v6.2h-6.2zM1088.4,231.4h6.2v6.2h-6.2zM1094.0,231.3h6.2v6.2h-6.2zM1099.6,231.1h6.2v6.2h-6.2zM1105.2,231.3h6.2v6.2h-6.2zM1110.8,231.5h6.2v6.2h-6.2zM1116.4,231.2h6.2v6.2h-6.2zM1122.0,231.2h6.2v6.2h-6.2zM1127.6,231.3h6.2v6.2h-6.2zM1133.2,231.1h6.2v6.2h-6.2zM1138.8,231.5h6.2v6.2h-6.2zM1144.4,231.4h6.2v6.2h-6.2zM1150.0,231.2h6.2v6.2h-6.2zM1155.6,231.6h6.2v6.2h-6.2zM1161.2,231.7h6.2v6.2h-6.2zM1166.8,231.2h6.2v6.2h-6.2zM1172.4,231.4h6.2v6.2h-6.2zM1178.0,231.1h6.2v6.2h-6.2zM1183.6,231.1h6.2v6.2h-6.2zM1189.2,231.2h6.2v6.2h-6.2zM1194.8,231.2h6.2v6.2h-6.2zM1200.4,231.4h6.2v6.2h-6.2zM1206.0,231.4h6.2v6.2h-6.2zM1211.6,231.1h6.2v6.2h-6.2zM1217.2,231.2h6.2v6.2h-6.2zM1222.8,231.5h6.2v6.2h-6.2zM1228.4,231.4h6.2v6.2h-6.2zM1234.0,231.2h6.2v6.2h-6.2zM1239.6,231.2h6.2v6.2h-6.2zM1245.2,231.3h6.2v6.2h-6.2zM1250.8,231.4h6.2v6.2h-6.2zM1256.4,231.1h6.2v6.2h-6.2zM1262.0,231.2h6.2v6.2h-6.2zM1267.6,231.3h6.2v6.2h-6.2zM1273.2,231.2h6.2v6.2h-6.2zM1278.8,231.2h6.2v6.2h-6.2zM1284.4,231.1h6.2v6.2h-6.2zM1290.0,231.3h6.2v6.2h-6.2zM1295.6,231.4h6.2v6.2h-6.2zM1301.2,231.4h6.2v6.2h-6.2zM1306.8,231.3h6.2v6.2h-6.2zM1312.4,231.3h6.2v6.2h-6.2zM713.7,221.2h6v6h-6zM719.5,218.7h6v6h-6zM725.5,212.4h6v6h-6zM731.3,212.9h6v6h-6zM737.0,206.0h6v6h-6zM742.6,202.8h6v6h-6zM748.2,210.4h6v6h-6zM754.0,213.0h6v6h-6zM759.8,213.7h6v6h-6zM765.3,214.4h6v6h-6zM771.0,219.5h6v6h-6zM776.6,217.5h6v6h-6zM782.4,224.5h6v6h-6zM788.0,228.8h6v6h-6zM794.3,230.0h6v6h-6zM800.0,230.5h6v6h-6zM805.6,228.3h6v6h-6zM811.2,230.0h6v6h-6zM817.0,230.5h6v6h-6zM822.7,229.5h6v6h-6zM828.3,230.5h6v6h-6zM834.0,230.0h6v6h-6zM839.6,227.0h6v6h-6zM845.4,228.0h6v6h-6zM851.0,224.5h6v6h-6zM856.5,225.5h6v6h-6zM862.3,223.8h6v6h-6zM868.1,225.5h6v6h-6zM873.6,225.5h6v6h-6zM879.4,217.0h6v6h-6zM885.0,215.4h6v6h-6zM891.0,213.6h6v6h-6zM896.3,189.0h6v6h-6zM902.5,157.0h6v6h-6zM908.0,137.0h6v6h-6zM913.5,98.0h6v6h-6zM919.6,115.6h6v6h-6zM925.0,101.0h6v6h-6zM931.0,106.0h6v6h-6zM937.6,159.0h6v6h-6zM942.0,165.0h6v6h-6zM948.0,207.0h6v6h-6zM954.0,220.0h6v6h-6zM960.0,220.0h6v6h-6zM965.5,222.0h6v6h-6z" fill="#000"/><text x="1333" y="227.0" text-anchor="end" font-size="34" font-family="Liberation Sans, sans-serif">295K</text></g>
<g><line x1="669.5" y1="445.2" x2="1347" y2="445.2" stroke="#000" stroke-width="2"/><line x1="680.9" y1="445.2" x2="680.9" y2="452.7" stroke="#000" stroke-width="2.2"/><line x1="753.2" y1="445.2" x2="753.2" y2="460.2" stroke="#000" stroke-width="2.2"/><line x1="825.5" y1="445.2" x2="825.5" y2="452.7" stroke="#000" stroke-width="2.2"/><line x1="897.8" y1="445.2" x2="897.8" y2="460.2" stroke="#000" stroke-width="2.2"/><line x1="970.1" y1="445.2" x2="970.1" y2="452.7" stroke="#000" stroke-width="2.2"/><line x1="1042.4" y1="445.2" x2="1042.4" y2="460.2" stroke="#000" stroke-width="2.2"/><line x1="1114.7" y1="445.2" x2="1114.7" y2="452.7" stroke="#000" stroke-width="2.2"/><line x1="1187.0" y1="445.2" x2="1187.0" y2="460.2" stroke="#000" stroke-width="2.2"/><line x1="1259.3" y1="445.2" x2="1259.3" y2="452.7" stroke="#000" stroke-width="2.2"/><line x1="1331.6" y1="445.2" x2="1331.6" y2="460.2" stroke="#000" stroke-width="2.2"/><path d="M669.50,444.40 L670.25,444.40 L671.00,444.40 L671.75,444.40 L672.50,444.40 L673.25,444.40 L674.00,444.40 L674.75,444.40 L675.50,444.40 L676.25,444.40 L677.00,444.40 L677.75,444.40 L678.50,444.40 L679.25,444.40 L680.00,444.40 L680.75,444.40 L681.50,444.40 L682.25,444.40 L683.00,444.40 L683.75,444.40 L684.50,444.40 L685.25,444.40 L686.00,444.40 L686.75,444.40 L687.50,444.40 L688.25,444.40 L689.00,444.40 L689.75,444.40 L690.50,444.40 L691.25,444.40 L692.00,444.40 L692.75,444.40 L693.50,444.40 L694.25,444.40 L695.00,444.40 L695.75,444.40 L696.50,444.40 L697.25,444.40 L698.00,444.40 L698.75,444.40 L699.50,444.40 L700.25,444.40 L701.00,444.40 L701.75,444.40 L702.50,444.40 L703.25,444.40 L704.00,444.40 L704.75,444.40 L705.50,444.40 L706.25,444.40 L707.00,444.40 L707.75,444.40 L708.50,444.40 L709.25,444.40 L710.00,444.40 L710.75,444.40 L711.50,444.40 L712.25,444.40 L713.00,444.40 L713.75,444.40 L714.50,444.40 L715.25,444.40 L716.00,444.40 L716.75,444.40 L717.50,444.40 L718.25,444.40 L719.00,444.40 L719.75,444.40 L720.50,444.40 L721.25,444.40 L722.00,444.40 L722.75,444.40 L723.50,444.40 L724.25,444.40 L725.00,444.40 L725.75,444.40 L726.50,444.40 L727.25,444.40 L728.00,444.40 L728.75,444.40 L729.50,444.40 L730.25,444.40 L731.00,444.40 L731.75,444.40 L732.50,444.40 L733.25,444.40 L734.00,444.40 L734.75,444.40 L735.50,444.40 L736.25,444.40 L737.00,444.40 L737.75,444.40 L738.50,444.40 L739.25,444.40 L740.00,444.40 L740.75,444.40 L741.50,444.40 L742.25,444.40 L743.00,444.40 L743.75,444.40 L744.50,444.40 L745.25,444.40 L746.00,444.40 L746.75,444.40 L747.50,444.40 L748.25,444.40 L749.00,444.40 L749.75,444.40 L750.50,444.40 L751.25,444.40 L752.00,444.40 L752.75,444.40 L753.50,444.40 L754.25,444.40 L755.00,444.40 L755.75,444.40 L756.50,444.40 L757.25,444.40 L758.00,444.40 L758.75,444.40 L759.50,444.40 L760.25,444.40 L761.00,444.40 L761.75,444.40 L762.50,444.40 L763.25,444.40 L764.00,444.40 L764.75,444.40 L765.50,444.40 L766.25,444.40 L767.00,444.40 L767.75,444.40 L768.50,444.40 L769.25,444.40 L770.00,444.40 L770.75,444.40 L771.50,444.40 L772.25,444.40 L773.00,444.40 L773.75,444.40 L774.50,444.40 L775.25,444.40 L776.00,444.40 L776.75,444.40 L777.50,444.40 L778.25,444.40 L779.00,444.40 L779.75,444.40 L780.50,444.40 L781.25,444.40 L782.00,444.40 L782.75,444.40 L783.50,444.40 L784.25,444.40 L785.00,444.40 L785.75,444.40 L786.50,444.40 L787.25,444.40 L788.00,444.40 L788.75,444.40 L789.50,444.40 L790.25,444.40 L791.00,444.40 L791.75,444.40 L792.50,444.40 L793.25,444.40 L794.00,444.40 L794.75,444.40 L795.50,444.40 L796.25,444.40 L797.00,444.40 L797.75,444.40 L798.50,444.40 L799.25,444.40 L800.00,444.39 L800.75,444.39 L801.50,444.39 L802.25,444.39 L803.00,444.39 L803.75,444.38 L804.50,444.38 L805.25,444.37 L806.00,444.36 L806.75,444.35 L807.50,444.34 L808.25,444.33 L809.00,444.31 L809.75,444.29 L810.50,444.27 L811.25,444.23 L812.00,444.20 L812.75,444.15 L813.50,444.10 L814.25,444.04 L815.00,443.97 L815.75,443.88 L816.50,443.78 L817.25,443.66 L818.00,443.52 L818.75,443.36 L819.50,443.18 L820.25,442.97 L821.00,442.73 L821.75,442.46 L822.50,442.15 L823.25,441.80 L824.00,441.40 L824.75,440.96 L825.50,440.47 L826.25,439.93 L827.00,439.33 L827.75,438.67 L828.50,437.95 L829.25,437.17 L830.00,436.32 L830.75,435.41 L831.50,434.43 L832.25,433.38 L833.00,432.27 L833.75,431.10 L834.50,429.86 L835.25,428.57 L836.00,427.24 L836.75,425.85 L837.50,424.43 L838.25,422.99 L839.00,421.52 L839.75,420.04 L840.50,418.56 L841.25,417.10 L842.00,415.66 L842.75,414.25 L843.50,412.90 L844.25,411.60 L845.00,410.38 L845.75,409.24 L846.50,408.21 L847.25,407.27 L848.00,406.46 L848.75,405.77 L849.50,405.22 L850.25,404.80 L851.00,404.53 L851.75,404.41 L852.50,404.43 L853.25,404.61 L854.00,404.93 L854.75,405.39 L855.50,405.99 L856.25,406.72 L857.00,407.57 L857.75,408.54 L858.50,409.61 L859.25,410.78 L860.00,412.03 L860.75,413.34 L861.50,414.72 L862.25,416.13 L863.00,417.58 L863.75,419.05 L864.50,420.53 L865.25,422.01 L866.00,423.47 L866.75,424.91 L867.50,426.32 L868.25,427.69 L869.00,429.01 L869.75,430.28 L870.50,431.49 L871.25,432.65 L872.00,433.74 L872.75,434.76 L873.50,435.72 L874.25,436.61 L875.00,437.44 L875.75,438.20 L876.50,438.90 L877.25,439.54 L878.00,440.12 L878.75,440.64 L879.50,441.11 L880.25,441.54 L881.00,441.92 L881.75,442.25 L882.50,442.55 L883.25,442.81 L884.00,443.04 L884.75,443.24 L885.50,443.42 L886.25,443.57 L887.00,443.70 L887.75,443.81 L888.50,443.91 L889.25,443.99 L890.00,444.06 L890.75,444.12 L891.50,444.17 L892.25,444.21 L893.00,444.25 L893.75,444.27 L894.50,444.30 L895.25,444.32 L896.00,444.33 L896.75,444.35 L897.50,444.36 L898.25,444.37 L899.00,444.37 L899.75,444.38 L900.50,444.38 L901.25,444.39 L902.00,444.39 L902.75,444.39 L903.50,444.39 L904.25,444.40 L905.00,444.40 L905.75,444.40 L906.50,444.40 L907.25,444.40 L908.00,444.40 L908.75,444.40 L909.50,444.40 L910.25,444.40 L911.00,444.40 L911.75,444.40 L912.50,444.40 L913.25,444.40 L914.00,444.40 L914.75,444.40 L915.50,444.40 L916.25,444.40 L917.00,444.40 L917.75,444.40 L918.50,444.40 L919.25,444.40 L920.00,444.40 L920.75,444.40 L921.50,444.40 L922.25,444.40 L923.00,444.40 L923.75,444.40 L924.50,444.40 L925.25,444.40 L926.00,444.40 L926.75,444.40 L927.50,444.40 L928.25,444.40 L929.00,444.40 L929.75,444.40 L930.50,444.40 L931.25,444.40 L932.00,444.39 L932.75,444.39 L933.50,444.39 L934.25,444.39 L935.00,444.38 L935.75,444.37 L936.50,444.37 L937.25,444.36 L938.00,444.34 L938.75,444.32 L939.50,444.30 L940.25,444.27 L941.00,444.24 L941.75,444.19 L942.50,444.13 L943.25,444.06 L944.00,443.97 L944.75,443.86 L945.50,443.72 L946.25,443.56 L947.00,443.36 L947.75,443.11 L948.50,442.82 L949.25,442.47 L950.00,442.05 L950.75,441.56 L951.50,440.98 L952.25,440.30 L953.00,439.50 L953.75,438.58 L954.50,437.51 L955.25,436.29 L956.00,434.90 L956.75,433.32 L957.50,431.54 L958.25,429.54 L959.00,427.31 L959.75,424.83 L960.50,422.10 L961.25,419.11 L962.00,415.84 L962.75,412.31 L963.50,408.50 L964.25,404.44 L965.00,400.11 L965.75,395.55 L966.50,390.76 L967.25,385.78 L968.00,380.64 L968.75,375.36 L969.50,369.99 L970.25,364.58 L971.00,359.18 L971.75,353.82 L972.50,348.58 L973.25,343.51 L974.00,338.66 L974.75,334.09 L975.50,329.86 L976.25,326.01 L977.00,322.61 L977.75,319.69 L978.50,317.29 L979.25,315.44 L980.00,314.18 L980.75,313.51 L981.50,313.45 L982.25,314.00 L983.00,315.14 L983.75,316.87 L984.50,319.16 L985.25,321.98 L986.00,325.30 L986.75,329.06 L987.50,333.22 L988.25,337.72 L989.00,342.52 L989.75,347.55 L990.50,352.77 L991.25,358.10 L992.00,363.50 L992.75,368.91 L993.50,374.29 L994.25,379.59 L995.00,384.76 L995.75,389.78 L996.50,394.61 L997.25,399.22 L998.00,403.59 L998.75,407.71 L999.50,411.57 L1000.25,415.16 L1001.00,418.48 L1001.75,421.52 L1002.50,424.31 L1003.25,426.83 L1004.00,429.11 L1004.75,431.16 L1005.50,432.98 L1006.25,434.60 L1007.00,436.03 L1007.75,437.28 L1008.50,438.38 L1009.25,439.33 L1010.00,440.15 L1010.75,440.85 L1011.50,441.45 L1012.25,441.96 L1013.00,442.39 L1013.75,442.76 L1014.50,443.06 L1015.25,443.31 L1016.00,443.52 L1016.75,443.69 L1017.50,443.83 L1018.25,443.95 L1019.00,444.04 L1019.75,444.12 L1020.50,444.18 L1021.25,444.23 L1022.00,444.27 L1022.75,444.30 L1023.50,444.32 L1024.25,444.34 L1025.00,444.35 L1025.75,444.36 L1026.50,444.37 L1027.25,444.38 L1028.00,444.38 L1028.75,444.39 L1029.50,444.39 L1030.25,444.39 L1031.00,444.40 L1031.75,444.40 L1032.50,444.40 L1033.25,444.40 L1034.00,444.40 L1034.75,444.40 L1035.50,444.40 L1036.25,444.40 L1037.00,444.40 L1037.75,444.40 L1038.50,444.40 L1039.25,444.40 L1040.00,444.40 L1040.75,444.40 L1041.50,444.40 L1042.25,444.40 L1043.00,444.40 L1043.75,444.40 L1044.50,444.40 L1045.25,444.40 L1046.00,444.40 L1046.75,444.40 L1047.50,444.40 L1048.25,444.40 L1049.00,444.40 L1049.75,444.40 L1050.50,444.40 L1051.25,444.40 L1052.00,444.40 L1052.75,444.40 L1053.50,444.40 L1054.25,444.40 L1055.00,444.40 L1055.75,444.40 L1056.50,444.40 L1057.25,444.40 L1058.00,444.40 L1058.75,444.40 L1059.50,444.40 L1060.25,444.40 L1061.00,444.40 L1061.75,444.40 L1062.50,444.40 L1063.25,444.40 L1064.00,444.40 L1064.75,444.40 L1065.50,444.40 L1066.25,444.40 L1067.00,444.40 L1067.75,444.40 L1068.50,444.40 L1069.25,444.40 L1070.00,444.40 L1070.75,444.40 L1071.50,444.40 L1072.25,444.40 L1073.00,444.40 L1073.75,444.40 L1074.50,444.40 L1075.25,444.40 L1076.00,444.40 L1076.75,444.40 L1077.50,444.40 L1078.25,444.40 L1079.00,444.40 L1079.75,444.40 L1080.50,444.40 L1081.25,444.40 L1082.00,444.40 L1082.75,444.40 L1083.50,444.40 L1084.25,444.40 L1085.00,444.40 L1085.75,444.40 L1086.50,444.40 L1087.25,444.40 L1088.00,444.40 L1088.75,444.40 L1089.50,444.40 L1090.25,444.40 L1091.00,444.40 L1091.75,444.40 L1092.50,444.40 L1093.25,444.40 L1094.00,444.40 L1094.75,444.40 L1095.50,444.40 L1096.25,444.40 L1097.00,444.40 L1097.75,444.40 L1098.50,444.40 L1099.25,444.40 L1100.00,444.40 L1100.75,444.40 L1101.50,444.40 L1102.25,444.40 L1103.00,444.40 L1103.75,444.40 L1104.50,444.40 L1105.25,444.40 L1106.00,444.40 L1106.75,444.40 L1107.50,444.40 L1108.25,444.40 L1109.00,444.40 L1109.75,444.40 L1110.50,444.40 L1111.25,444.40 L1112.00,444.40 L1112.75,444.40 L1113.50,444.40 L1114.25,444.40 L1115.00,444.40 L1115.75,444.40 L1116.50,444.40 L1117.25,444.40 L1118.00,444.40 L1118.75,444.40 L1119.50,444.40 L1120.25,444.40 L1121.00,444.40 L1121.75,444.40 L1122.50,444.40 L1123.25,444.40 L1124.00,444.40 L1124.75,444.40 L1125.50,444.40 L1126.25,444.40 L1127.00,444.40 L1127.75,444.40 L1128.50,444.40 L1129.25,444.40 L1130.00,444.40 L1130.75,444.40 L1131.50,444.40 L1132.25,444.40 L1133.00,444.40 L1133.75,444.40 L1134.50,444.40 L1135.25,444.40 L1136.00,444.40 L1136.75,444.40 L1137.50,444.40 L1138.25,444.40 L1139.00,444.40 L1139.75,444.40 L1140.50,444.40 L1141.25,444.40 L1142.00,444.40 L1142.75,444.40 L1143.50,444.40 L1144.25,444.40 L1145.00,444.40 L1145.75,444.40 L1146.50,444.40 L1147.25,444.40 L1148.00,444.40 L1148.75,444.40 L1149.50,444.40 L1150.25,444.40 L1151.00,444.40 L1151.75,444.40 L1152.50,444.40 L1153.25,444.40 L1154.00,444.40 L1154.75,444.40 L1155.50,444.40 L1156.25,444.40 L1157.00,444.40 L1157.75,444.40 L1158.50,444.40 L1159.25,444.40 L1160.00,444.40 L1160.75,444.40 L1161.50,444.40 L1162.25,444.40 L1163.00,444.40 L1163.75,444.40 L1164.50,444.40 L1165.25,444.40 L1166.00,444.40 L1166.75,444.40 L1167.50,444.40 L1168.25,444.40 L1169.00,444.40 L1169.75,444.40 L1170.50,444.40 L1171.25,444.40 L1172.00,444.40 L1172.75,444.40 L1173.50,444.40 L1174.25,444.40 L1175.00,444.40 L1175.75,444.40 L1176.50,444.40 L1177.25,444.40 L1178.00,444.40 L1178.75,444.40 L1179.50,444.40 L1180.25,444.40 L1181.00,444.40 L1181.75,444.40 L1182.50,444.40 L1183.25,444.40 L1184.00,444.40 L1184.75,444.40 L1185.50,444.40 L1186.25,444.40 L1187.00,444.40 L1187.75,444.40 L1188.50,444.40 L1189.25,444.40 L1190.00,444.40 L1190.75,444.40 L1191.50,444.40 L1192.25,444.40 L1193.00,444.40 L1193.75,444.40 L1194.50,444.40 L1195.25,444.40 L1196.00,444.40 L1196.75,444.40 L1197.50,444.40 L1198.25,444.40 L1199.00,444.40 L1199.75,444.40 L1200.50,444.40 L1201.25,444.40 L1202.00,444.40 L1202.75,444.40 L1203.50,444.40 L1204.25,444.40 L1205.00,444.40 L1205.75,444.40 L1206.50,444.40 L1207.25,444.40 L1208.00,444.40 L1208.75,444.40 L1209.50,444.40 L1210.25,444.40 L1211.00,444.40 L1211.75,444.40 L1212.50,444.40 L1213.25,444.40 L1214.00,444.40 L1214.75,444.40 L1215.50,444.40 L1216.25,444.40 L1217.00,444.40 L1217.75,444.40 L1218.50,444.40 L1219.25,444.40 L1220.00,444.40 L1220.75,444.40 L1221.50,444.40 L1222.25,444.40 L1223.00,444.40 L1223.75,444.40 L1224.50,444.40 L1225.25,444.40 L1226.00,444.40 L1226.75,444.40 L1227.50,444.40 L1228.25,444.40 L1229.00,444.40 L1229.75,444.40 L1230.50,444.40 L1231.25,444.40 L1232.00,444.40 L1232.75,444.40 L1233.50,444.40 L1234.25,444.40 L1235.00,444.40 L1235.75,444.40 L1236.50,444.40 L1237.25,444.40 L1238.00,444.40 L1238.75,444.40 L1239.50,444.40 L1240.25,444.40 L1241.00,444.40 L1241.75,444.40 L1242.50,444.40 L1243.25,444.40 L1244.00,444.40 L1244.75,444.40 L1245.50,444.40 L1246.25,444.40 L1247.00,444.40 L1247.75,444.40 L1248.50,444.40 L1249.25,444.40 L1250.00,444.40 L1250.75,444.40 L1251.50,444.40 L1252.25,444.40 L1253.00,444.40 L1253.75,444.40 L1254.50,444.40 L1255.25,444.40 L1256.00,444.40 L1256.75,444.40 L1257.50,444.40 L1258.25,444.40 L1259.00,444.40 L1259.75,444.40 L1260.50,444.40 L1261.25,444.40 L1262.00,444.40 L1262.75,444.40 L1263.50,444.40 L1264.25,444.40 L1265.00,444.40 L1265.75,444.40 L1266.50,444.40 L1267.25,444.40 L1268.00,444.40 L1268.75,444.40 L1269.50,444.40 L1270.25,444.40 L1271.00,444.40 L1271.75,444.40 L1272.50,444.40 L1273.25,444.40 L1274.00,444.40 L1274.75,444.40 L1275.50,444.40 L1276.25,444.40 L1277.00,444.40 L1277.75,444.40 L1278.50,444.40 L1279.25,444.40 L1280.00,444.40 L1280.75,444.40 L1281.50,444.40 L1282.25,444.40 L1283.00,444.40 L1283.75,444.40 L1284.50,444.40 L1285.25,444.40 L1286.00,444.40 L1286.75,444.40 L1287.50,444.40 L1288.25,444.40 L1289.00,444.40 L1289.75,444.40 L1290.50,444.40 L1291.25,444.40 L1292.00,444.40 L1292.75,444.40 L1293.50,444.40 L1294.25,444.40 L1295.00,444.40 L1295.75,444.40 L1296.50,444.40 L1297.25,444.40 L1298.00,444.40 L1298.75,444.40 L1299.50,444.40 L1300.25,444.40 L1301.00,444.40 L1301.75,444.40 L1302.50,444.40 L1303.25,444.40 L1304.00,444.40 L1304.75,444.40 L1305.50,444.40 L1306.25,444.40 L1307.00,444.40 L1307.75,444.40 L1308.50,444.40 L1309.25,444.40 L1310.00,444.40 L1310.75,444.40 L1311.50,444.40 L1312.25,444.40 L1313.00,444.40 L1313.75,444.40 L1314.50,444.40 L1315.25,444.40 L1316.00,444.40 L1316.75,444.40 L1317.50,444.40 L1318.25,444.40 L1319.00,444.40 L1319.75,444.40 L1320.50,444.40 L1321.25,444.40 L1322.00,444.40 L1322.75,444.40 L1323.50,444.40 L1324.25,444.40 L1325.00,444.40 L1325.75,444.40 L1326.50,444.40 L1327.25,444.40 L1328.00,444.40 L1328.75,444.40 L1329.50,444.40 L1330.25,444.40 L1331.00,444.40 L1331.75,444.40 L1332.50,444.40 L1333.25,444.40 L1334.00,444.40 L1334.75,444.40 L1335.50,444.40 L1336.25,444.40 L1337.00,444.40 L1337.75,444.40 L1338.50,444.40 L1339.25,444.40 L1340.00,444.40 L1340.75,444.40 L1341.50,444.40 L1342.25,444.40 L1343.00,444.40 L1343.75,444.40 L1344.50,444.40" fill="none" stroke="#64c4f4" stroke-width="2.6" stroke-linejoin="round"/><path d="M668.4,442.2h6.2v6.2h-6.2zM674.0,442.3h6.2v6.2h-6.2zM679.6,442.2h6.2v6.2h-6.2zM685.2,442.3h6.2v6.2h-6.2zM690.8,442.3h6.2v6.2h-6.2zM696.4,442.5h6.2v6.2h-6.2zM702.0,442.5h6.2v6.2h-6.2zM707.6,442.3h6.2v6.2h-6.2zM713.2,442.5h6.2v6.2h-6.2zM718.8,442.2h6.2v6.2h-6.2zM724.4,442.4h6.2v6.2h-6.2zM730.0,442.3h6.2v6.2h-6.2zM735.6,442.4h6.2v6.2h-6.2zM741.2,442.4h6.2v6.2h-6.2zM746.8,442.4h6.2v6.2h-6.2zM752.4,442.3h6.2v6.2h-6.2zM758.0,442.3h6.2v6.2h-6.2zM763.6,442.4h6.2v6.2h-6.2zM769.2,442.3h6.2v6.2h-6.2zM774.8,442.2h6.2v6.2h-6.2zM1105.2,442.3h6.2v6.2h-6.2zM1110.8,442.2h6.2v6.2h-6.2zM1116.4,442.3h6.2v6.2h-6.2zM1122.0,442.5h6.2v6.2h-6.2zM1127.6,442.1h6.2v6.2h-6.2zM1133.2,442.3h6.2v6.2h-6.2zM1138.8,442.1h6.2v6.2h-6.2zM1144.4,442.2h6.2v6.2h-6.2zM1150.0,442.4h6.2v6.2h-6.2zM1155.6,442.2h6.2v6.2h-6.2zM1161.2,442.3h6.2v6.2h-6.2zM1166.8,442.5h6.2v6.2h-6.2zM1172.4,442.3h6.2v6.2h-6.2zM1178.0,442.4h6.2v6.2h-6.2zM1183.6,442.2h6.2v6.2h-6.2zM1189.2,442.2h6.2v6.2h-6.2zM1194.8,442.5h6.2v6.2h-6.2zM1200.4,442.4h6.2v6.2h-6.2zM1206.0,442.2h6.2v6.2h-6.2zM1211.6,442.4h6.2v6.2h-6.2zM1217.2,442.5h6.2v6.2h-6.2zM1222.8,442.2h6.2v6.2h-6.2zM1228.4,442.6h6.2v6.2h-6.2zM1234.0,442.1h6.2v6.2h-6.2zM1239.6,442.2h6.2v6.2h-6.2zM1245.2,442.3h6.2v6.2h-6.2zM1250.8,442.1h6.2v6.2h-6.2zM1256.4,442.5h6.2v6.2h-6.2zM1262.0,442.4h6.2v6.2h-6.2zM1267.6,442.3h6.2v6.2h-6.2zM1273.2,442.4h6.2v6.2h-6.2zM1278.8,442.4h6.2v6.2h-6.2zM1284.4,442.3h6.2v6.2h-6.2zM1290.0,442.4h6.2v6.2h-6.2zM1295.6,442.2h6.2v6.2h-6.2zM1301.2,442.2h6.2v6.2h-6.2zM1306.8,442.3h6.2v6.2h-6.2zM1312.4,442.4h6.2v6.2h-6.2zM1318.0,442.4h6.2v6.2h-6.2zM1323.6,442.4h6.2v6.2h-6.2zM1329.2,442.3h6.2v6.2h-6.2zM1334.8,442.3h6.2v6.2h-6.2zM1340.4,442.5h6.2v6.2h-6.2zM780.4,438.6h6v6h-6zM786.0,439.0h6v6h-6zM789.2,435.5h6v6h-6zM795.5,428.0h6v6h-6zM801.8,429.2h6v6h-6zM806.9,429.2h6v6h-6zM812.7,435.5h6v6h-6zM818.2,429.2h6v6h-6zM823.8,429.2h6v6h-6zM830.3,419.2h6v6h-6zM835.8,422.2h6v6h-6zM841.4,415.9h6v6h-6zM847.2,399.0h6v6h-6zM853.0,407.8h6v6h-6zM858.5,405.8h6v6h-6zM864.0,423.0h6v6h-6zM869.8,423.4h6v6h-6zM875.6,435.0h6v6h-6zM881.2,432.5h6v6h-6zM886.7,434.3h6v6h-6zM892.5,436.0h6v6h-6zM898.0,438.0h6v6h-6zM903.5,437.5h6v6h-6zM909.0,438.5h6v6h-6zM914.0,437.0h6v6h-6zM918.7,436.4h6v6h-6zM923.0,438.0h6v6h-6zM926.6,434.7h6v6h-6zM932.0,438.0h6v6h-6zM937.8,436.4h6v6h-6zM942.0,438.0h6v6h-6zM945.7,436.4h6v6h-6zM950.5,438.0h6v6h-6zM955.5,437.3h6v6h-6zM961.3,413.3h6v6h-6zM967.0,334.3h6v6h-6zM972.9,315.7h6v6h-6zM978.2,317.9h6v6h-6zM984.4,341.4h6v6h-6zM990.0,350.4h6v6h-6zM995.5,395.2h6v6h-6zM1001.6,423.4h6v6h-6zM1007.0,422.2h6v6h-6zM1012.6,432.9h6v6h-6zM1018.2,437.3h6v6h-6zM1023.8,437.3h6v6h-6zM1030.0,440.8h6v6h-6zM1036.0,436.4h6v6h-6zM1041.2,439.0h6v6h-6zM1047.0,433.8h6v6h-6zM1052.5,439.0h6v6h-6zM1058.0,434.7h6v6h-6zM1063.8,439.0h6v6h-6zM1069.5,436.4h6v6h-6zM1075.0,439.0h6v6h-6zM1081.0,438.0h6v6h-6zM1086.4,437.3h6v6h-6zM1092.5,439.9h6v6h-6zM1098.0,440.5h6v6h-6zM1103.5,441.2h6v6h-6z" fill="#000"/><text x="1334" y="437.7" text-anchor="end" font-size="34" font-family="Liberation Sans, sans-serif">275K</text></g>
<g><line x1="669.5" y1="662.3" x2="1347" y2="662.3" stroke="#000" stroke-width="2"/><line x1="680.9" y1="662.3" x2="680.9" y2="669.8" stroke="#000" stroke-width="2.2"/><line x1="753.2" y1="662.3" x2="753.2" y2="677.3" stroke="#000" stroke-width="2.2"/><line x1="825.5" y1="662.3" x2="825.5" y2="669.8" stroke="#000" stroke-width="2.2"/><line x1="897.8" y1="662.3" x2="897.8" y2="677.3" stroke="#000" stroke-width="2.2"/><line x1="970.1" y1="662.3" x2="970.1" y2="669.8" stroke="#000" stroke-width="2.2"/><line x1="1042.4" y1="662.3" x2="1042.4" y2="677.3" stroke="#000" stroke-width="2.2"/><line x1="1114.7" y1="662.3" x2="1114.7" y2="669.8" stroke="#000" stroke-width="2.2"/><line x1="1187.0" y1="662.3" x2="1187.0" y2="677.3" stroke="#000" stroke-width="2.2"/><line x1="1259.3" y1="662.3" x2="1259.3" y2="669.8" stroke="#000" stroke-width="2.2"/><line x1="1331.6" y1="662.3" x2="1331.6" y2="677.3" stroke="#000" stroke-width="2.2"/><path d="M669.50,661.50 L670.25,661.50 L671.00,661.50 L671.75,661.50 L672.50,661.50 L673.25,661.50 L674.00,661.50 L674.75,661.50 L675.50,661.50 L676.25,661.50 L677.00,661.50 L677.75,661.50 L678.50,661.50 L679.25,661.50 L680.00,661.50 L680.75,661.50 L681.50,661.50 L682.25,661.50 L683.00,661.50 L683.75,661.50 L684.50,661.50 L685.25,661.50 L686.00,661.50 L686.75,661.50 L687.50,661.50 L688.25,661.50 L689.00,661.50 L689.75,661.50 L690.50,661.50 L691.25,661.50 L692.00,661.50 L692.75,661.50 L693.50,661.50 L694.25,661.50 L695.00,661.50 L695.75,661.50 L696.50,661.50 L697.25,661.50 L698.00,661.50 L698.75,661.50 L699.50,661.50 L700.25,661.50 L701.00,661.50 L701.75,661.50 L702.50,661.50 L703.25,661.50 L704.00,661.50 L704.75,661.50 L705.50,661.50 L706.25,661.50 L707.00,661.50 L707.75,661.50 L708.50,661.50 L709.25,661.50 L710.00,661.50 L710.75,661.50 L711.50,661.50 L712.25,661.50 L713.00,661.50 L713.75,661.50 L714.50,661.50 L715.25,661.50 L716.00,661.50 L716.75,661.50 L717.50,661.50 L718.25,661.50 L719.00,661.50 L719.75,661.50 L720.50,661.50 L721.25,661.50 L722.00,661.50 L722.75,661.50 L723.50,661.50 L724.25,661.50 L725.00,661.50 L725.75,661.50 L726.50,661.50 L727.25,661.50 L728.00,661.50 L728.75,661.50 L729.50,661.50 L730.25,661.50 L731.00,661.50 L731.75,661.50 L732.50,661.50 L733.25,661.50 L734.00,661.50 L734.75,661.50 L735.50,661.50 L736.25,661.50 L737.00,661.50 L737.75,661.50 L738.50,661.50 L739.25,661.50 L740.00,661.50 L740.75,661.50 L741.50,661.50 L742.25,661.50 L743.00,661.50 L743.75,661.50 L744.50,661.50 L745.25,661.50 L746.00,661.50 L746.75,661.50 L747.50,661.50 L748.25,661.50 L749.00,661.50 L749.75,661.50 L750.50,661.50 L751.25,661.50 L752.00,661.50 L752.75,661.50 L753.50,661.50 L754.25,661.50 L755.00,661.50 L755.75,661.50 L756.50,661.50 L757.25,661.50 L758.00,661.50 L758.75,661.50 L759.50,661.50 L760.25,661.50 L761.00,661.50 L761.75,661.50 L762.50,661.50 L763.25,661.50 L764.00,661.50 L764.75,661.50 L765.50,661.50 L766.25,661.50 L767.00,661.50 L767.75,661.50 L768.50,661.50 L769.25,661.50 L770.00,661.50 L770.75,661.50 L771.50,661.50 L772.25,661.50 L773.00,661.50 L773.75,661.50 L774.50,661.50 L775.25,661.50 L776.00,661.50 L776.75,661.50 L777.50,661.50 L778.25,661.50 L779.00,661.50 L779.75,661.50 L780.50,661.50 L781.25,661.50 L782.00,661.50 L782.75,661.50 L783.50,661.50 L784.25,661.50 L785.00,661.50 L785.75,661.50 L786.50,661.50 L787.25,661.50 L788.00,661.50 L788.75,661.50 L789.50,661.50 L790.25,661.50 L791.00,661.50 L791.75,661.50 L792.50,661.50 L793.25,661.50 L794.00,661.50 L794.75,661.50 L795.50,661.50 L796.25,661.50 L797.00,661.50 L797.75,661.50 L798.50,661.50 L799.25,661.50 L800.00,661.50 L800.75,661.50 L801.50,661.50 L802.25,661.50 L803.00,661.50 L803.75,661.50 L804.50,661.50 L805.25,661.50 L806.00,661.50 L806.75,661.50 L807.50,661.50 L808.25,661.50 L809.00,661.50 L809.75,661.50 L810.50,661.50 L811.25,661.50 L812.00,661.50 L812.75,661.50 L813.50,661.50 L814.25,661.50 L815.00,661.50 L815.75,661.50 L816.50,661.50 L817.25,661.50 L818.00,661.50 L818.75,661.50 L819.50,661.50 L820.25,661.50 L821.00,661.50 L821.75,661.50 L822.50,661.50 L823.25,661.50 L824.00,661.50 L824.75,661.50 L825.50,661.50 L826.25,661.50 L827.00,661.50 L827.75,661.50 L828.50,661.50 L829.25,661.50 L830.00,661.50 L830.75,661.50 L831.50,661.50 L832.25,661.50 L833.00,661.50 L833.75,661.50 L834.50,661.50 L835.25,661.50 L836.00,661.50 L836.75,661.50 L837.50,661.50 L838.25,661.50 L839.00,661.50 L839.75,661.50 L840.50,661.50 L841.25,661.50 L842.00,661.50 L842.75,661.50 L843.50,661.50 L844.25,661.50 L845.00,661.50 L845.75,661.50 L846.50,661.50 L847.25,661.50 L848.00,661.49 L848.75,661.49 L849.50,661.49 L850.25,661.49 L851.00,661.49 L851.75,661.48 L852.50,661.48 L853.25,661.48 L854.00,661.47 L854.75,661.46 L855.50,661.45 L856.25,661.45 L857.00,661.43 L857.75,661.42 L858.50,661.40 L859.25,661.38 L860.00,661.36 L860.75,661.33 L861.50,661.30 L862.25,661.26 L863.00,661.22 L863.75,661.17 L864.50,661.11 L865.25,661.04 L866.00,660.97 L866.75,660.88 L867.50,660.78 L868.25,660.67 L869.00,660.54 L869.75,660.40 L870.50,660.24 L871.25,660.07 L872.00,659.87 L872.75,659.66 L873.50,659.42 L874.25,659.16 L875.00,658.87 L875.75,658.56 L876.50,658.23 L877.25,657.86 L878.00,657.47 L878.75,657.06 L879.50,656.62 L880.25,656.15 L881.00,655.66 L881.75,655.14 L882.50,654.60 L883.25,654.04 L884.00,653.46 L884.75,652.86 L885.50,652.25 L886.25,651.63 L887.00,651.00 L887.75,650.37 L888.50,649.74 L889.25,649.12 L890.00,648.51 L890.75,647.91 L891.50,647.34 L892.25,646.78 L893.00,646.26 L893.75,645.77 L894.50,645.32 L895.25,644.91 L896.00,644.55 L896.75,644.23 L897.50,643.97 L898.25,643.77 L899.00,643.62 L899.75,643.53 L900.50,643.50 L901.25,643.53 L902.00,643.62 L902.75,643.77 L903.50,643.97 L904.25,644.23 L905.00,644.55 L905.75,644.91 L906.50,645.32 L907.25,645.77 L908.00,646.26 L908.75,646.78 L909.50,647.34 L910.25,647.91 L911.00,648.51 L911.75,649.12 L912.50,649.74 L913.25,650.37 L914.00,651.00 L914.75,651.63 L915.50,652.25 L916.25,652.86 L917.00,653.45 L917.75,654.03 L918.50,654.60 L919.25,655.14 L920.00,655.65 L920.75,656.15 L921.50,656.61 L922.25,657.06 L923.00,657.47 L923.75,657.86 L924.50,658.22 L925.25,658.56 L926.00,658.86 L926.75,659.15 L927.50,659.41 L928.25,659.65 L929.00,659.86 L929.75,660.06 L930.50,660.23 L931.25,660.39 L932.00,660.53 L932.75,660.66 L933.50,660.77 L934.25,660.86 L935.00,660.95 L935.75,661.02 L936.50,661.09 L937.25,661.14 L938.00,661.19 L938.75,661.23 L939.50,661.26 L940.25,661.29 L941.00,661.32 L941.75,661.34 L942.50,661.35 L943.25,661.36 L944.00,661.37 L944.75,661.38 L945.50,661.38 L946.25,661.38 L947.00,661.38 L947.75,661.38 L948.50,661.38 L949.25,661.37 L950.00,661.37 L950.75,661.36 L951.50,661.35 L952.25,661.34 L953.00,661.33 L953.75,661.32 L954.50,661.30 L955.25,661.29 L956.00,661.27 L956.75,661.26 L957.50,661.24 L958.25,661.22 L959.00,661.20 L959.75,661.18 L960.50,661.15 L961.25,661.13 L962.00,661.10 L962.75,661.07 L963.50,661.04 L964.25,661.01 L965.00,660.97 L965.75,660.94 L966.50,660.90 L967.25,660.86 L968.00,660.81 L968.75,660.77 L969.50,660.72 L970.25,660.67 L971.00,660.62 L971.75,660.56 L972.50,660.51 L973.25,660.45 L974.00,660.38 L974.75,660.31 L975.50,660.25 L976.25,660.17 L977.00,660.10 L977.75,660.02 L978.50,659.93 L979.25,659.85 L980.00,659.76 L980.75,659.66 L981.50,659.57 L982.25,659.47 L983.00,659.36 L983.75,659.25 L984.50,659.14 L985.25,659.02 L986.00,658.90 L986.75,658.78 L987.50,658.65 L988.25,658.52 L989.00,658.39 L989.75,658.25 L990.50,658.11 L991.25,657.96 L992.00,657.81 L992.75,657.66 L993.50,657.50 L994.25,657.34 L995.00,657.17 L995.75,657.01 L996.50,656.84 L997.25,656.66 L998.00,656.49 L998.75,656.31 L999.50,656.12 L1000.25,655.94 L1001.00,655.75 L1001.75,655.56 L1002.50,655.37 L1003.25,655.18 L1004.00,654.99 L1004.75,654.79 L1005.50,654.59 L1006.25,654.40 L1007.00,654.20 L1007.75,654.00 L1008.50,653.79 L1009.25,653.59 L1010.00,653.39 L1010.75,653.19 L1011.50,652.98 L1012.25,652.78 L1013.00,652.58 L1013.75,652.37 L1014.50,652.16 L1015.25,651.96 L1016.00,651.75 L1016.75,651.54 L1017.50,651.32 L1018.25,651.10 L1019.00,650.88 L1019.75,650.66 L1020.50,650.43 L1021.25,650.19 L1022.00,649.94 L1022.75,649.69 L1023.50,649.42 L1024.25,649.14 L1025.00,648.84 L1025.75,648.53 L1026.50,648.19 L1027.25,647.84 L1028.00,647.46 L1028.75,647.04 L1029.50,646.60 L1030.25,646.12 L1031.00,645.60 L1031.75,645.04 L1032.50,644.43 L1033.25,643.77 L1034.00,643.05 L1034.75,642.27 L1035.50,641.42 L1036.25,640.50 L1037.00,639.51 L1037.75,638.43 L1038.50,637.27 L1039.25,636.02 L1040.00,634.67 L1040.75,633.22 L1041.50,631.67 L1042.25,630.02 L1043.00,628.25 L1043.75,626.37 L1044.50,624.38 L1045.25,622.27 L1046.00,620.05 L1046.75,617.70 L1047.50,615.25 L1048.25,612.68 L1049.00,610.00 L1049.75,607.21 L1050.50,604.32 L1051.25,601.33 L1052.00,598.26 L1052.75,595.10 L1053.50,591.88 L1054.25,588.59 L1055.00,585.26 L1055.75,581.89 L1056.50,578.49 L1057.25,575.09 L1058.00,571.70 L1058.75,568.33 L1059.50,565.00 L1060.25,561.72 L1061.00,558.52 L1061.75,555.41 L1062.50,552.41 L1063.25,549.54 L1064.00,546.80 L1064.75,544.23 L1065.50,541.84 L1066.25,539.63 L1067.00,537.63 L1067.75,535.85 L1068.50,534.30 L1069.25,533.00 L1070.00,531.94 L1070.75,531.14 L1071.50,530.60 L1072.25,530.34 L1073.00,530.34 L1073.75,530.61 L1074.50,531.16 L1075.25,531.97 L1076.00,533.05 L1076.75,534.38 L1077.50,535.96 L1078.25,537.77 L1079.00,539.82 L1079.75,542.08 L1080.50,544.54 L1081.25,547.19 L1082.00,550.01 L1082.75,552.98 L1083.50,556.09 L1084.25,559.32 L1085.00,562.66 L1085.75,566.07 L1086.50,569.56 L1087.25,573.09 L1088.00,576.66 L1088.75,580.25 L1089.50,583.83 L1090.25,587.40 L1091.00,590.93 L1091.75,594.43 L1092.50,597.86 L1093.25,601.23 L1094.00,604.52 L1094.75,607.73 L1095.50,610.83 L1096.25,613.84 L1097.00,616.73 L1097.75,619.52 L1098.50,622.18 L1099.25,624.72 L1100.00,627.15 L1100.75,629.45 L1101.50,631.62 L1102.25,633.68 L1103.00,635.62 L1103.75,637.43 L1104.50,639.14 L1105.25,640.73 L1106.00,642.22 L1106.75,643.60 L1107.50,644.88 L1108.25,646.07 L1109.00,647.17 L1109.75,648.18 L1110.50,649.11 L1111.25,649.98 L1112.00,650.77 L1112.75,651.49 L1113.50,652.16 L1114.25,652.77 L1115.00,653.33 L1115.75,653.85 L1116.50,654.32 L1117.25,654.76 L1118.00,655.15 L1118.75,655.52 L1119.50,655.86 L1120.25,656.17 L1121.00,656.46 L1121.75,656.73 L1122.50,656.98 L1123.25,657.22 L1124.00,657.44 L1124.75,657.64 L1125.50,657.84 L1126.25,658.02 L1127.00,658.20 L1127.75,658.36 L1128.50,658.52 L1129.25,658.67 L1130.00,658.81 L1130.75,658.95 L1131.50,659.09 L1132.25,659.21 L1133.00,659.34 L1133.75,659.46 L1134.50,659.57 L1135.25,659.68 L1136.00,659.78 L1136.75,659.88 L1137.50,659.98 L1138.25,660.07 L1139.00,660.16 L1139.75,660.25 L1140.50,660.33 L1141.25,660.41 L1142.00,660.48 L1142.75,660.55 L1143.50,660.62 L1144.25,660.68 L1145.00,660.74 L1145.75,660.80 L1146.50,660.86 L1147.25,660.91 L1148.00,660.95 L1148.75,661.00 L1149.50,661.04 L1150.25,661.08 L1151.00,661.11 L1151.75,661.15 L1152.50,661.18 L1153.25,661.21 L1154.00,661.24 L1154.75,661.26 L1155.50,661.28 L1156.25,661.30 L1157.00,661.32 L1157.75,661.34 L1158.50,661.36 L1159.25,661.37 L1160.00,661.39 L1160.75,661.40 L1161.50,661.41 L1162.25,661.42 L1163.00,661.43 L1163.75,661.44 L1164.50,661.44 L1165.25,661.45 L1166.00,661.46 L1166.75,661.46 L1167.50,661.47 L1168.25,661.47 L1169.00,661.47 L1169.75,661.48 L1170.50,661.48 L1171.25,661.48 L1172.00,661.48 L1172.75,661.49 L1173.50,661.49 L1174.25,661.49 L1175.00,661.49 L1175.75,661.49 L1176.50,661.49 L1177.25,661.49 L1178.00,661.50 L1178.75,661.50 L1179.50,661.50 L1180.25,661.50 L1181.00,661.50 L1181.75,661.50 L1182.50,661.50 L1183.25,661.50 L1184.00,661.50 L1184.75,661.50 L1185.50,661.50 L1186.25,661.50 L1187.00,661.50 L1187.75,661.50 L1188.50,661.50 L1189.25,661.50 L1190.00,661.50 L1190.75,661.50 L1191.50,661.50 L1192.25,661.50 L1193.00,661.50 L1193.75,661.50 L1194.50,661.50 L1195.25,661.50 L1196.00,661.50 L1196.75,661.50 L1197.50,661.50 L1198.25,661.50 L1199.00,661.50 L1199.75,661.50 L1200.50,661.50 L1201.25,661.50 L1202.00,661.50 L1202.75,661.50 L1203.50,661.50 L1204.25,661.50 L1205.00,661.50 L1205.75,661.50 L1206.50,661.50 L1207.25,661.50 L1208.00,661.50 L1208.75,661.50 L1209.50,661.50 L1210.25,661.50 L1211.00,661.50 L1211.75,661.50 L1212.50,661.50 L1213.25,661.50 L1214.00,661.50 L1214.75,661.50 L1215.50,661.50 L1216.25,661.50 L1217.00,661.50 L1217.75,661.50 L1218.50,661.50 L1219.25,661.50 L1220.00,661.50 L1220.75,661.50 L1221.50,661.50 L1222.25,661.50 L1223.00,661.50 L1223.75,661.50 L1224.50,661.50 L1225.25,661.50 L1226.00,661.50 L1226.75,661.50 L1227.50,661.50 L1228.25,661.50 L1229.00,661.50 L1229.75,661.50 L1230.50,661.50 L1231.25,661.50 L1232.00,661.50 L1232.75,661.50 L1233.50,661.50 L1234.25,661.50 L1235.00,661.50 L1235.75,661.50 L1236.50,661.50 L1237.25,661.50 L1238.00,661.50 L1238.75,661.50 L1239.50,661.50 L1240.25,661.50 L1241.00,661.50 L1241.75,661.50 L1242.50,661.50 L1243.25,661.50 L1244.00,661.50 L1244.75,661.50 L1245.50,661.50 L1246.25,661.50 L1247.00,661.50 L1247.75,661.50 L1248.50,661.50 L1249.25,661.50 L1250.00,661.50 L1250.75,661.50 L1251.50,661.50 L1252.25,661.50 L1253.00,661.50 L1253.75,661.50 L1254.50,661.50 L1255.25,661.50 L1256.00,661.50 L1256.75,661.50 L1257.50,661.50 L1258.25,661.50 L1259.00,661.50 L1259.75,661.50 L1260.50,661.50 L1261.25,661.50 L1262.00,661.50 L1262.75,661.50 L1263.50,661.50 L1264.25,661.50 L1265.00,661.50 L1265.75,661.50 L1266.50,661.50 L1267.25,661.50 L1268.00,661.50 L1268.75,661.50 L1269.50,661.50 L1270.25,661.50 L1271.00,661.50 L1271.75,661.50 L1272.50,661.50 L1273.25,661.50 L1274.00,661.50 L1274.75,661.50 L1275.50,661.50 L1276.25,661.50 L1277.00,661.50 L1277.75,661.50 L1278.50,661.50 L1279.25,661.50 L1280.00,661.50 L1280.75,661.50 L1281.50,661.50 L1282.25,661.50 L1283.00,661.50 L1283.75,661.50 L1284.50,661.50 L1285.25,661.50 L1286.00,661.50 L1286.75,661.50 L1287.50,661.50 L1288.25,661.50 L1289.00,661.50 L1289.75,661.50 L1290.50,661.50 L1291.25,661.50 L1292.00,661.50 L1292.75,661.50 L1293.50,661.50 L1294.25,661.50 L1295.00,661.50 L1295.75,661.50 L1296.50,661.50 L1297.25,661.50 L1298.00,661.50 L1298.75,661.50 L1299.50,661.50 L1300.25,661.50 L1301.00,661.50 L1301.75,661.50 L1302.50,661.50 L1303.25,661.50 L1304.00,661.50 L1304.75,661.50 L1305.50,661.50 L1306.25,661.50 L1307.00,661.50 L1307.75,661.50 L1308.50,661.50 L1309.25,661.50 L1310.00,661.50 L1310.75,661.50 L1311.50,661.50 L1312.25,661.50 L1313.00,661.50 L1313.75,661.50 L1314.50,661.50 L1315.25,661.50 L1316.00,661.50 L1316.75,661.50 L1317.50,661.50 L1318.25,661.50 L1319.00,661.50 L1319.75,661.50 L1320.50,661.50 L1321.25,661.50 L1322.00,661.50 L1322.75,661.50 L1323.50,661.50 L1324.25,661.50 L1325.00,661.50 L1325.75,661.50 L1326.50,661.50 L1327.25,661.50 L1328.00,661.50 L1328.75,661.50 L1329.50,661.50 L1330.25,661.50 L1331.00,661.50 L1331.75,661.50 L1332.50,661.50 L1333.25,661.50 L1334.00,661.50 L1334.75,661.50 L1335.50,661.50 L1336.25,661.50 L1337.00,661.50 L1337.75,661.50 L1338.50,661.50 L1339.25,661.50 L1340.00,661.50 L1340.75,661.50 L1341.50,661.50 L1342.25,661.50 L1343.00,661.50 L1343.75,661.50 L1344.50,661.50" fill="none" stroke="#64c4f4" stroke-width="2.6" stroke-linejoin="round"/><path d="M668.4,659.4h6.2v6.2h-6.2zM674.0,659.6h6.2v6.2h-6.2zM679.6,659.5h6.2v6.2h-6.2zM685.2,659.4h6.2v6.2h-6.2zM690.8,659.5h6.2v6.2h-6.2zM696.4,659.7h6.2v6.2h-6.2zM702.0,659.6h6.2v6.2h-6.2zM707.6,659.3h6.2v6.2h-6.2zM713.2,659.3h6.2v6.2h-6.2zM718.8,659.4h6.2v6.2h-6.2zM724.4,659.4h6.2v6.2h-6.2zM730.0,659.3h6.2v6.2h-6.2zM735.6,659.6h6.2v6.2h-6.2zM741.2,659.6h6.2v6.2h-6.2zM746.8,659.6h6.2v6.2h-6.2zM752.4,659.4h6.2v6.2h-6.2zM758.0,659.4h6.2v6.2h-6.2zM763.6,659.3h6.2v6.2h-6.2zM769.2,659.6h6.2v6.2h-6.2zM774.8,659.4h6.2v6.2h-6.2zM780.4,659.4h6.2v6.2h-6.2zM786.0,659.4h6.2v6.2h-6.2zM791.6,659.4h6.2v6.2h-6.2zM797.2,659.3h6.2v6.2h-6.2zM802.8,659.6h6.2v6.2h-6.2zM808.4,659.4h6.2v6.2h-6.2zM814.0,659.4h6.2v6.2h-6.2zM819.6,659.4h6.2v6.2h-6.2zM825.2,659.2h6.2v6.2h-6.2zM830.8,659.5h6.2v6.2h-6.2zM836.4,659.4h6.2v6.2h-6.2zM842.0,659.4h6.2v6.2h-6.2zM847.6,659.4h6.2v6.2h-6.2zM1122.0,654.8h6.2v6.2h-6.2zM1127.6,656.4h6.2v6.2h-6.2zM1133.2,657.9h6.2v6.2h-6.2zM1138.8,658.1h6.2v6.2h-6.2zM1144.4,658.6h6.2v6.2h-6.2zM1150.0,659.1h6.2v6.2h-6.2zM1155.6,659.4h6.2v6.2h-6.2zM1161.2,659.2h6.2v6.2h-6.2zM1166.8,659.4h6.2v6.2h-6.2zM1172.4,659.4h6.2v6.2h-6.2zM1178.0,659.5h6.2v6.2h-6.2zM1183.6,659.5h6.2v6.2h-6.2zM1189.2,659.2h6.2v6.2h-6.2zM1194.8,659.3h6.2v6.2h-6.2zM1200.4,659.4h6.2v6.2h-6.2zM1206.0,659.4h6.2v6.2h-6.2zM1211.6,659.4h6.2v6.2h-6.2zM1217.2,659.4h6.2v6.2h-6.2zM1222.8,659.3h6.2v6.2h-6.2zM1228.4,659.6h6.2v6.2h-6.2zM1234.0,659.4h6.2v6.2h-6.2zM1239.6,659.4h6.2v6.2h-6.2zM1245.2,659.3h6.2v6.2h-6.2zM1250.8,659.5h6.2v6.2h-6.2zM1256.4,659.4h6.2v6.2h-6.2zM1262.0,659.6h6.2v6.2h-6.2zM1267.6,659.1h6.2v6.2h-6.2zM1273.2,659.4h6.2v6.2h-6.2zM1278.8,659.4h6.2v6.2h-6.2zM1284.4,659.1h6.2v6.2h-6.2zM1290.0,659.5h6.2v6.2h-6.2zM1295.6,659.7h6.2v6.2h-6.2zM1301.2,659.2h6.2v6.2h-6.2zM1306.8,659.2h6.2v6.2h-6.2zM1312.4,659.2h6.2v6.2h-6.2zM1318.0,659.3h6.2v6.2h-6.2zM1323.6,659.2h6.2v6.2h-6.2zM1329.2,659.5h6.2v6.2h-6.2zM1334.8,659.7h6.2v6.2h-6.2zM1340.4,659.5h6.2v6.2h-6.2zM856.0,657.5h6v6h-6zM863.5,655.4h6v6h-6zM872.4,648.6h6v6h-6zM878.7,649.9h6v6h-6zM885.0,647.4h6v6h-6zM892.5,642.3h6v6h-6zM898.8,641.1h6v6h-6zM903.9,643.6h6v6h-6zM908.9,648.6h6v6h-6zM915.2,648.6h6v6h-6zM920.2,647.4h6v6h-6zM927.8,653.7h6v6h-6zM934.0,656.2h6v6h-6zM941.6,657.5h6v6h-6zM948.0,658.7h6v6h-6zM956.7,657.5h6v6h-6zM963.0,657.5h6v6h-6zM969.3,653.7h6v6h-6zM975.6,656.2h6v6h-6zM982.0,655.4h6v6h-6zM988.3,654.3h6v6h-6zM993.5,651.6h6v6h-6zM998.7,651.2h6v6h-6zM1004.0,652.6h6v6h-6zM1009.0,643.4h6v6h-6zM1013.5,642.9h6v6h-6zM1018.7,646.0h6v6h-6zM1024.0,646.0h6v6h-6zM1030.0,640.8h6v6h-6zM1034.3,643.4h6v6h-6zM1039.6,634.2h6v6h-6zM1044.8,610.0h6v6h-6zM1050.0,598.7h6v6h-6zM1054.8,574.8h6v6h-6zM1060.0,547.8h6v6h-6zM1064.7,527.9h6v6h-6zM1070.0,532.2h6v6h-6zM1075.2,528.7h6v6h-6zM1080.0,549.6h6v6h-6zM1085.0,578.2h6v6h-6zM1090.0,589.2h6v6h-6zM1095.2,602.2h6v6h-6zM1100.4,634.2h6v6h-6zM1105.6,642.2h6v6h-6zM1110.8,642.9h6v6h-6zM1116.0,648.1h6v6h-6z" fill="#000"/><text x="1334" y="653.0" text-anchor="end" font-size="34" font-family="Liberation Sans, sans-serif">210K</text></g>
<g><line x1="669.5" y1="872.9" x2="1347" y2="872.9" stroke="#000" stroke-width="2"/><line x1="680.9" y1="872.9" x2="680.9" y2="880.4" stroke="#000" stroke-width="2.2"/><line x1="753.2" y1="872.9" x2="753.2" y2="887.9" stroke="#000" stroke-width="2.2"/><line x1="825.5" y1="872.9" x2="825.5" y2="880.4" stroke="#000" stroke-width="2.2"/><line x1="897.8" y1="872.9" x2="897.8" y2="887.9" stroke="#000" stroke-width="2.2"/><line x1="970.1" y1="872.9" x2="970.1" y2="880.4" stroke="#000" stroke-width="2.2"/><line x1="1042.4" y1="872.9" x2="1042.4" y2="887.9" stroke="#000" stroke-width="2.2"/><line x1="1114.7" y1="872.9" x2="1114.7" y2="880.4" stroke="#000" stroke-width="2.2"/><line x1="1187.0" y1="872.9" x2="1187.0" y2="887.9" stroke="#000" stroke-width="2.2"/><line x1="1259.3" y1="872.9" x2="1259.3" y2="880.4" stroke="#000" stroke-width="2.2"/><line x1="1331.6" y1="872.9" x2="1331.6" y2="887.9" stroke="#000" stroke-width="2.2"/><path d="M669.50,872.10 L670.25,872.10 L671.00,872.10 L671.75,872.10 L672.50,872.10 L673.25,872.10 L674.00,872.10 L674.75,872.10 L675.50,872.10 L676.25,872.10 L677.00,872.10 L677.75,872.10 L678.50,872.10 L679.25,872.10 L680.00,872.10 L680.75,872.10 L681.50,872.10 L682.25,872.10 L683.00,872.10 L683.75,872.10 L684.50,872.10 L685.25,872.10 L686.00,872.10 L686.75,872.10 L687.50,872.10 L688.25,872.10 L689.00,872.10 L689.75,872.10 L690.50,872.10 L691.25,872.10 L692.00,872.10 L692.75,872.10 L693.50,872.10 L694.25,872.10 L695.00,872.10 L695.75,872.10 L696.50,872.10 L697.25,872.10 L698.00,872.10 L698.75,872.10 L699.50,872.10 L700.25,872.10 L701.00,872.10 L701.75,872.10 L702.50,872.10 L703.25,872.10 L704.00,872.10 L704.75,872.10 L705.50,872.10 L706.25,872.10 L707.00,872.10 L707.75,872.10 L708.50,872.10 L709.25,872.10 L710.00,872.10 L710.75,872.10 L711.50,872.10 L712.25,872.10 L713.00,872.10 L713.75,872.10 L714.50,872.10 L715.25,872.10 L716.00,872.10 L716.75,872.10 L717.50,872.10 L718.25,872.10 L719.00,872.10 L719.75,872.10 L720.50,872.10 L721.25,872.10 L722.00,872.10 L722.75,872.10 L723.50,872.10 L724.25,872.10 L725.00,872.10 L725.75,872.10 L726.50,872.10 L727.25,872.10 L728.00,872.10 L728.75,872.10 L729.50,872.10 L730.25,872.10 L731.00,872.10 L731.75,872.10 L732.50,872.10 L733.25,872.10 L734.00,872.10 L734.75,872.10 L735.50,872.10 L736.25,872.10 L737.00,872.10 L737.75,872.10 L738.50,872.10 L739.25,872.10 L740.00,872.10 L740.75,872.10 L741.50,872.10 L742.25,872.10 L743.00,872.10 L743.75,872.10 L744.50,872.10 L745.25,872.10 L746.00,872.10 L746.75,872.10 L747.50,872.10 L748.25,872.10 L749.00,872.10 L749.75,872.10 L750.50,872.10 L751.25,872.10 L752.00,872.10 L752.75,872.10 L753.50,872.10 L754.25,872.10 L755.00,872.10 L755.75,872.10 L756.50,872.10 L757.25,872.10 L758.00,872.10 L758.75,872.10 L759.50,872.10 L760.25,872.10 L761.00,872.10 L761.75,872.10 L762.50,872.10 L763.25,872.10 L764.00,872.10 L764.75,872.10 L765.50,872.10 L766.25,872.10 L767.00,872.10 L767.75,872.10 L768.50,872.10 L769.25,872.10 L770.00,872.10 L770.75,872.10 L771.50,872.10 L772.25,872.10 L773.00,872.10 L773.75,872.10 L774.50,872.10 L775.25,872.10 L776.00,872.10 L776.75,872.10 L777.50,872.10 L778.25,872.10 L779.00,872.10 L779.75,872.10 L780.50,872.10 L781.25,872.10 L782.00,872.10 L782.75,872.10 L783.50,872.10 L784.25,872.10 L785.00,872.10 L785.75,872.10 L786.50,872.10 L787.25,872.10 L788.00,872.10 L788.75,872.10 L789.50,872.10 L790.25,872.10 L791.00,872.10 L791.75,872.10 L792.50,872.10 L793.25,872.10 L794.00,872.10 L794.75,872.10 L795.50,872.10 L796.25,872.10 L797.00,872.10 L797.75,872.10 L798.50,872.10 L799.25,872.10 L800.00,872.10 L800.75,872.10 L801.50,872.10 L802.25,872.10 L803.00,872.10 L803.75,872.10 L804.50,872.10 L805.25,872.10 L806.00,872.10 L806.75,872.10 L807.50,872.10 L808.25,872.10 L809.00,872.10 L809.75,872.10 L810.50,872.10 L811.25,872.10 L812.00,872.10 L812.75,872.10 L813.50,872.10 L814.25,872.10 L815.00,872.10 L815.75,872.10 L816.50,872.10 L817.25,872.10 L818.00,872.10 L818.75,872.10 L819.50,872.10 L820.25,872.10 L821.00,872.10 L821.75,872.10 L822.50,872.10 L823.25,872.10 L824.00,872.10 L824.75,872.10 L825.50,872.10 L826.25,872.10 L827.00,872.10 L827.75,872.10 L828.50,872.10 L829.25,872.10 L830.00,872.10 L830.75,872.10 L831.50,872.10 L832.25,872.10 L833.00,872.10 L833.75,872.10 L834.50,872.10 L835.25,872.10 L836.00,872.10 L836.75,872.10 L837.50,872.10 L838.25,872.10 L839.00,872.10 L839.75,872.10 L840.50,872.10 L841.25,872.10 L842.00,872.10 L842.75,872.10 L843.50,872.10 L844.25,872.10 L845.00,872.10 L845.75,872.10 L846.50,872.10 L847.25,872.10 L848.00,872.10 L848.75,872.10 L849.50,872.10 L850.25,872.10 L851.00,872.10 L851.75,872.10 L852.50,872.10 L853.25,872.10 L854.00,872.10 L854.75,872.10 L855.50,872.10 L856.25,872.10 L857.00,872.10 L857.75,872.10 L858.50,872.10 L859.25,872.10 L860.00,872.10 L860.75,872.10 L861.50,872.10 L862.25,872.10 L863.00,872.10 L863.75,872.10 L864.50,872.10 L865.25,872.10 L866.00,872.10 L866.75,872.10 L867.50,872.10 L868.25,872.10 L869.00,872.10 L869.75,872.10 L870.50,872.10 L871.25,872.10 L872.00,872.10 L872.75,872.10 L873.50,872.10 L874.25,872.10 L875.00,872.10 L875.75,872.10 L876.50,872.10 L877.25,872.10 L878.00,872.10 L878.75,872.10 L879.50,872.10 L880.25,872.10 L881.00,872.10 L881.75,872.10 L882.50,872.10 L883.25,872.10 L884.00,872.10 L884.75,872.10 L885.50,872.10 L886.25,872.10 L887.00,872.10 L887.75,872.10 L888.50,872.10 L889.25,872.10 L890.00,872.10 L890.75,872.10 L891.50,872.10 L892.25,872.10 L893.00,872.10 L893.75,872.10 L894.50,872.10 L895.25,872.10 L896.00,872.10 L896.75,872.10 L897.50,872.10 L898.25,872.10 L899.00,872.10 L899.75,872.10 L900.50,872.10 L901.25,872.10 L902.00,872.10 L902.75,872.10 L903.50,872.10 L904.25,872.10 L905.00,872.10 L905.75,872.10 L906.50,872.10 L907.25,872.10 L908.00,872.10 L908.75,872.10 L909.50,872.10 L910.25,872.10 L911.00,872.10 L911.75,872.10 L912.50,872.10 L913.25,872.10 L914.00,872.10 L914.75,872.10 L915.50,872.10 L916.25,872.10 L917.00,872.10 L917.75,872.10 L918.50,872.10 L919.25,872.10 L920.00,872.10 L920.75,872.10 L921.50,872.10 L922.25,872.10 L923.00,872.10 L923.75,872.10 L924.50,872.10 L925.25,872.10 L926.00,872.10 L926.75,872.10 L927.50,872.10 L928.25,872.10 L929.00,872.10 L929.75,872.10 L930.50,872.10 L931.25,872.10 L932.00,872.10 L932.75,872.10 L933.50,872.10 L934.25,872.10 L935.00,872.10 L935.75,872.10 L936.50,872.10 L937.25,872.10 L938.00,872.10 L938.75,872.10 L939.50,872.10 L940.25,872.10 L941.00,872.10 L941.75,872.10 L942.50,872.10 L943.25,872.10 L944.00,872.10 L944.75,872.09 L945.50,872.09 L946.25,872.09 L947.00,872.09 L947.75,872.08 L948.50,872.08 L949.25,872.08 L950.00,872.07 L950.75,872.06 L951.50,872.05 L952.25,872.04 L953.00,872.03 L953.75,872.02 L954.50,872.00 L955.25,871.98 L956.00,871.95 L956.75,871.92 L957.50,871.88 L958.25,871.84 L959.00,871.79 L959.75,871.73 L960.50,871.67 L961.25,871.59 L962.00,871.50 L962.75,871.40 L963.50,871.28 L964.25,871.14 L965.00,870.99 L965.75,870.81 L966.50,870.62 L967.25,870.40 L968.00,870.15 L968.75,869.87 L969.50,869.56 L970.25,869.23 L971.00,868.85 L971.75,868.44 L972.50,867.99 L973.25,867.50 L974.00,866.97 L974.75,866.40 L975.50,865.79 L976.25,865.13 L977.00,864.43 L977.75,863.69 L978.50,862.90 L979.25,862.08 L980.00,861.22 L980.75,860.32 L981.50,859.39 L982.25,858.44 L983.00,857.46 L983.75,856.46 L984.50,855.46 L985.25,854.44 L986.00,853.43 L986.75,852.42 L987.50,851.43 L988.25,850.46 L989.00,849.52 L989.75,848.62 L990.50,847.77 L991.25,846.96 L992.00,846.22 L992.75,845.54 L993.50,844.93 L994.25,844.41 L995.00,843.97 L995.75,843.61 L996.50,843.35 L997.25,843.18 L998.00,843.10 L998.75,843.13 L999.50,843.24 L1000.25,843.46 L1001.00,843.76 L1001.75,844.16 L1002.50,844.64 L1003.25,845.21 L1004.00,845.85 L1004.75,846.56 L1005.50,847.33 L1006.25,848.16 L1007.00,849.04 L1007.75,849.96 L1008.50,850.91 L1009.25,851.89 L1010.00,852.89 L1010.75,853.90 L1011.50,854.92 L1012.25,855.93 L1013.00,856.93 L1013.75,857.92 L1014.50,858.89 L1015.25,859.83 L1016.00,860.74 L1016.75,861.62 L1017.50,862.46 L1018.25,863.27 L1019.00,864.03 L1019.75,864.76 L1020.50,865.44 L1021.25,866.07 L1022.00,866.67 L1022.75,867.22 L1023.50,867.73 L1024.25,868.20 L1025.00,868.63 L1025.75,869.02 L1026.50,869.38 L1027.25,869.70 L1028.00,870.00 L1028.75,870.26 L1029.50,870.49 L1030.25,870.70 L1031.00,870.89 L1031.75,871.05 L1032.50,871.19 L1033.25,871.32 L1034.00,871.43 L1034.75,871.52 L1035.50,871.61 L1036.25,871.68 L1037.00,871.74 L1037.75,871.79 L1038.50,871.83 L1039.25,871.87 L1040.00,871.90 L1040.75,871.93 L1041.50,871.95 L1042.25,871.96 L1043.00,871.98 L1043.75,871.99 L1044.50,871.99 L1045.25,872.00 L1046.00,872.00 L1046.75,872.00 L1047.50,872.00 L1048.25,872.00 L1049.00,872.00 L1049.75,871.99 L1050.50,871.99 L1051.25,871.98 L1052.00,871.97 L1052.75,871.96 L1053.50,871.96 L1054.25,871.95 L1055.00,871.94 L1055.75,871.92 L1056.50,871.91 L1057.25,871.90 L1058.00,871.88 L1058.75,871.87 L1059.50,871.85 L1060.25,871.84 L1061.00,871.82 L1061.75,871.80 L1062.50,871.78 L1063.25,871.76 L1064.00,871.74 L1064.75,871.71 L1065.50,871.69 L1066.25,871.66 L1067.00,871.63 L1067.75,871.60 L1068.50,871.57 L1069.25,871.54 L1070.00,871.51 L1070.75,871.47 L1071.50,871.44 L1072.25,871.40 L1073.00,871.36 L1073.75,871.31 L1074.50,871.27 L1075.25,871.22 L1076.00,871.18 L1076.75,871.12 L1077.50,871.07 L1078.25,871.02 L1079.00,870.96 L1079.75,870.90 L1080.50,870.84 L1081.25,870.78 L1082.00,870.71 L1082.75,870.64 L1083.50,870.57 L1084.25,870.50 L1085.00,870.42 L1085.75,870.35 L1086.50,870.26 L1087.25,870.18 L1088.00,870.10 L1088.75,870.01 L1089.50,869.92 L1090.25,869.82 L1091.00,869.73 L1091.75,869.63 L1092.50,869.53 L1093.25,869.43 L1094.00,869.32 L1094.75,869.21 L1095.50,869.10 L1096.25,868.99 L1097.00,868.88 L1097.75,868.76 L1098.50,868.64 L1099.25,868.52 L1100.00,868.40 L1100.75,868.28 L1101.50,868.15 L1102.25,868.02 L1103.00,867.89 L1103.75,867.76 L1104.50,867.63 L1105.25,867.50 L1106.00,867.36 L1106.75,867.23 L1107.50,867.10 L1108.25,866.96 L1109.00,866.82 L1109.75,866.69 L1110.50,866.55 L1111.25,866.41 L1112.00,866.28 L1112.75,866.14 L1113.50,866.01 L1114.25,865.87 L1115.00,865.74 L1115.75,865.61 L1116.50,865.48 L1117.25,865.35 L1118.00,865.22 L1118.75,865.09 L1119.50,864.97 L1120.25,864.85 L1121.00,864.73 L1121.75,864.61 L1122.50,864.50 L1123.25,864.39 L1124.00,864.28 L1124.75,864.18 L1125.50,864.08 L1126.25,863.98 L1127.00,863.88 L1127.75,863.79 L1128.50,863.70 L1129.25,863.61 L1130.00,863.53 L1130.75,863.45 L1131.50,863.37 L1132.25,863.30 L1133.00,863.23 L1133.75,863.15 L1134.50,863.08 L1135.25,863.01 L1136.00,862.95 L1136.75,862.88 L1137.50,862.80 L1138.25,862.73 L1139.00,862.65 L1139.75,862.57 L1140.50,862.48 L1141.25,862.38 L1142.00,862.27 L1142.75,862.15 L1143.50,862.01 L1144.25,861.86 L1145.00,861.69 L1145.75,861.50 L1146.50,861.28 L1147.25,861.03 L1148.00,860.75 L1148.75,860.44 L1149.50,860.08 L1150.25,859.68 L1151.00,859.23 L1151.75,858.73 L1152.50,858.17 L1153.25,857.55 L1154.00,856.86 L1154.75,856.09 L1155.50,855.25 L1156.25,854.33 L1157.00,853.31 L1157.75,852.20 L1158.50,850.99 L1159.25,849.68 L1160.00,848.26 L1160.75,846.73 L1161.50,845.09 L1162.25,843.33 L1163.00,841.45 L1163.75,839.44 L1164.50,837.32 L1165.25,835.07 L1166.00,832.70 L1166.75,830.22 L1167.50,827.61 L1168.25,824.90 L1169.00,822.08 L1169.75,819.16 L1170.50,816.15 L1171.25,813.05 L1172.00,809.89 L1172.75,806.66 L1173.50,803.38 L1174.25,800.06 L1175.00,796.73 L1175.75,793.39 L1176.50,790.05 L1177.25,786.75 L1178.00,783.49 L1178.75,780.29 L1179.50,777.17 L1180.25,774.16 L1181.00,771.26 L1181.75,768.49 L1182.50,765.88 L1183.25,763.44 L1184.00,761.18 L1184.75,759.13 L1185.50,757.29 L1186.25,755.67 L1187.00,754.30 L1187.75,753.18 L1188.50,752.31 L1189.25,751.71 L1190.00,751.38 L1190.75,751.32 L1191.50,751.53 L1192.25,752.02 L1193.00,752.77 L1193.75,753.79 L1194.50,755.06 L1195.25,756.58 L1196.00,758.34 L1196.75,760.32 L1197.50,762.52 L1198.25,764.92 L1199.00,767.50 L1199.75,770.24 L1200.50,773.14 L1201.25,776.17 L1202.00,779.32 L1202.75,782.56 L1203.50,785.88 L1204.25,789.26 L1205.00,792.68 L1205.75,796.12 L1206.50,799.58 L1207.25,803.02 L1208.00,806.44 L1208.75,809.82 L1209.50,813.15 L1210.25,816.42 L1211.00,819.61 L1211.75,822.71 L1212.50,825.73 L1213.25,828.64 L1214.00,831.44 L1214.75,834.13 L1215.50,836.70 L1216.25,839.15 L1217.00,841.48 L1217.75,843.69 L1218.50,845.77 L1219.25,847.73 L1220.00,849.57 L1220.75,851.29 L1221.50,852.90 L1222.25,854.39 L1223.00,855.77 L1223.75,857.05 L1224.50,858.24 L1225.25,859.32 L1226.00,860.32 L1226.75,861.23 L1227.50,862.06 L1228.25,862.82 L1229.00,863.50 L1229.75,864.12 L1230.50,864.69 L1231.25,865.19 L1232.00,865.65 L1232.75,866.06 L1233.50,866.43 L1234.25,866.76 L1235.00,867.05 L1235.75,867.32 L1236.50,867.55 L1237.25,867.77 L1238.00,867.96 L1238.75,868.13 L1239.50,868.28 L1240.25,868.42 L1241.00,868.54 L1241.75,868.66 L1242.50,868.76 L1243.25,868.86 L1244.00,868.95 L1244.75,869.03 L1245.50,869.11 L1246.25,869.18 L1247.00,869.25 L1247.75,869.32 L1248.50,869.38 L1249.25,869.44 L1250.00,869.51 L1250.75,869.57 L1251.50,869.62 L1252.25,869.68 L1253.00,869.74 L1253.75,869.80 L1254.50,869.86 L1255.25,869.91 L1256.00,869.97 L1256.75,870.03 L1257.50,870.08 L1258.25,870.14 L1259.00,870.20 L1259.75,870.25 L1260.50,870.31 L1261.25,870.37 L1262.00,870.42 L1262.75,870.48 L1263.50,870.53 L1264.25,870.58 L1265.00,870.64 L1265.75,870.69 L1266.50,870.74 L1267.25,870.79 L1268.00,870.84 L1268.75,870.89 L1269.50,870.94 L1270.25,870.99 L1271.00,871.04 L1271.75,871.08 L1272.50,871.13 L1273.25,871.17 L1274.00,871.21 L1274.75,871.25 L1275.50,871.29 L1276.25,871.33 L1277.00,871.37 L1277.75,871.40 L1278.50,871.44 L1279.25,871.47 L1280.00,871.51 L1280.75,871.54 L1281.50,871.57 L1282.25,871.60 L1283.00,871.62 L1283.75,871.65 L1284.50,871.68 L1285.25,871.70 L1286.00,871.73 L1286.75,871.75 L1287.50,871.77 L1288.25,871.79 L1289.00,871.81 L1289.75,871.83 L1290.50,871.84 L1291.25,871.86 L1292.00,871.88 L1292.75,871.89 L1293.50,871.91 L1294.25,871.92 L1295.00,871.93 L1295.75,871.94 L1296.50,871.95 L1297.25,871.96 L1298.00,871.97 L1298.75,871.98 L1299.50,871.99 L1300.25,872.00 L1301.00,872.01 L1301.75,872.02 L1302.50,872.02 L1303.25,872.03 L1304.00,872.03 L1304.75,872.04 L1305.50,872.04 L1306.25,872.05 L1307.00,872.05 L1307.75,872.06 L1308.50,872.06 L1309.25,872.06 L1310.00,872.07 L1310.75,872.07 L1311.50,872.07 L1312.25,872.07 L1313.00,872.08 L1313.75,872.08 L1314.50,872.08 L1315.25,872.08 L1316.00,872.08 L1316.75,872.09 L1317.50,872.09 L1318.25,872.09 L1319.00,872.09 L1319.75,872.09 L1320.50,872.09 L1321.25,872.09 L1322.00,872.09 L1322.75,872.09 L1323.50,872.09 L1324.25,872.09 L1325.00,872.10 L1325.75,872.10 L1326.50,872.10 L1327.25,872.10 L1328.00,872.10 L1328.75,872.10 L1329.50,872.10 L1330.25,872.10 L1331.00,872.10 L1331.75,872.10 L1332.50,872.10 L1333.25,872.10 L1334.00,872.10 L1334.75,872.10 L1335.50,872.10 L1336.25,872.10 L1337.00,872.10 L1337.75,872.10 L1338.50,872.10 L1339.25,872.10 L1340.00,872.10 L1340.75,872.10 L1341.50,872.10 L1342.25,872.10 L1343.00,872.10 L1343.75,872.10 L1344.50,872.10" fill="none" stroke="#64c4f4" stroke-width="2.6" stroke-linejoin="round"/><path d="M668.4,869.8h6.2v6.2h-6.2zM674.0,869.9h6.2v6.2h-6.2zM679.6,870.1h6.2v6.2h-6.2zM685.2,870.0h6.2v6.2h-6.2zM690.8,870.0h6.2v6.2h-6.2zM696.4,870.2h6.2v6.2h-6.2zM702.0,869.9h6.2v6.2h-6.2zM707.6,870.1h6.2v6.2h-6.2zM713.2,870.0h6.2v6.2h-6.2zM718.8,870.2h6.2v6.2h-6.2zM724.4,870.0h6.2v6.2h-6.2zM730.0,870.0h6.2v6.2h-6.2zM735.6,870.0h6.2v6.2h-6.2zM741.2,870.0h6.2v6.2h-6.2zM746.8,870.3h6.2v6.2h-6.2zM752.4,870.1h6.2v6.2h-6.2zM758.0,870.1h6.2v6.2h-6.2zM763.6,869.9h6.2v6.2h-6.2zM769.2,870.1h6.2v6.2h-6.2zM774.8,869.9h6.2v6.2h-6.2zM780.4,870.0h6.2v6.2h-6.2zM786.0,870.1h6.2v6.2h-6.2zM791.6,869.9h6.2v6.2h-6.2zM797.2,869.9h6.2v6.2h-6.2zM802.8,870.0h6.2v6.2h-6.2zM808.4,869.9h6.2v6.2h-6.2zM814.0,869.8h6.2v6.2h-6.2zM819.6,870.0h6.2v6.2h-6.2zM825.2,870.1h6.2v6.2h-6.2zM830.8,869.9h6.2v6.2h-6.2zM836.4,870.2h6.2v6.2h-6.2zM842.0,870.0h6.2v6.2h-6.2zM847.6,869.8h6.2v6.2h-6.2zM853.2,869.9h6.2v6.2h-6.2zM858.8,870.0h6.2v6.2h-6.2zM864.4,870.1h6.2v6.2h-6.2zM870.0,870.1h6.2v6.2h-6.2zM875.6,870.0h6.2v6.2h-6.2zM881.2,870.1h6.2v6.2h-6.2zM886.8,869.7h6.2v6.2h-6.2zM892.4,870.0h6.2v6.2h-6.2zM898.0,869.8h6.2v6.2h-6.2zM903.6,869.8h6.2v6.2h-6.2zM909.2,869.9h6.2v6.2h-6.2zM914.8,869.8h6.2v6.2h-6.2zM920.4,869.9h6.2v6.2h-6.2zM926.0,869.9h6.2v6.2h-6.2zM931.6,870.0h6.2v6.2h-6.2zM937.2,870.0h6.2v6.2h-6.2zM942.8,869.9h6.2v6.2h-6.2zM1256.4,868.0h6.2v6.2h-6.2zM1262.0,869.4h6.2v6.2h-6.2zM1267.6,868.6h6.2v6.2h-6.2zM1273.2,869.2h6.2v6.2h-6.2zM1278.8,870.0h6.2v6.2h-6.2zM1284.4,869.5h6.2v6.2h-6.2zM1290.0,870.0h6.2v6.2h-6.2zM1295.6,870.0h6.2v6.2h-6.2zM1301.2,869.8h6.2v6.2h-6.2zM1306.8,870.3h6.2v6.2h-6.2zM1312.4,869.6h6.2v6.2h-6.2zM1318.0,870.1h6.2v6.2h-6.2zM1323.6,869.7h6.2v6.2h-6.2zM1329.2,870.2h6.2v6.2h-6.2zM1334.8,870.0h6.2v6.2h-6.2zM1340.4,870.2h6.2v6.2h-6.2zM950.0,868.2h6v6h-6zM955.2,866.1h6v6h-6zM961.3,863.8h6v6h-6zM966.5,860.4h6v6h-6zM972.6,854.8h6v6h-6zM977.8,854.8h6v6h-6zM983.9,847.0h6v6h-6zM990.0,842.5h6v6h-6zM995.2,841.2h6v6h-6zM1001.0,849.9h6v6h-6zM1006.5,849.9h6v6h-6zM1012.6,857.7h6v6h-6zM1017.8,859.5h6v6h-6zM1023.9,863.8h6v6h-6zM1029.1,864.7h6v6h-6zM1035.2,864.7h6v6h-6zM1041.3,865.6h6v6h-6zM1047.3,869.0h6v6h-6zM1052.5,866.1h6v6h-6zM1058.6,868.5h6v6h-6zM1064.7,869.0h6v6h-6zM1069.9,868.2h6v6h-6zM1075.1,866.4h6v6h-6zM1081.2,869.9h6v6h-6zM1086.8,863.3h6v6h-6zM1092.5,867.3h6v6h-6zM1098.6,860.4h6v6h-6zM1104.7,862.6h6v6h-6zM1109.9,861.2h6v6h-6zM1116.0,862.6h6v6h-6zM1121.2,857.4h6v6h-6zM1127.3,864.3h6v6h-6zM1133.0,853.6h6v6h-6zM1139.2,858.1h6v6h-6zM1144.8,858.1h6v6h-6zM1150.3,856.3h6v6h-6zM1155.9,850.7h6v6h-6zM1161.4,843.5h6v6h-6zM1167.0,816.0h6v6h-6zM1172.6,786.4h6v6h-6zM1178.5,780.9h6v6h-6zM1184.0,741.6h6v6h-6zM1189.6,753.1h6v6h-6zM1195.7,755.9h6v6h-6zM1201.6,777.2h6v6h-6zM1207.2,817.9h6v6h-6zM1213.3,842.6h6v6h-6zM1218.3,842.0h6v6h-6zM1223.9,857.7h6v6h-6zM1229.4,858.1h6v6h-6zM1235.0,862.4h6v6h-6zM1241.0,866.6h6v6h-6zM1247.0,865.1h6v6h-6zM1252.6,863.3h6v6h-6z" fill="#000"/><text x="1337" y="863.5" text-anchor="end" font-size="34" font-family="Liberation Sans, sans-serif">190K</text></g>
<text x="62.3" y="915.5" text-anchor="middle" font-size="24.5" font-family="Liberation Sans, sans-serif">1500</text>
<text x="195.9" y="915.5" text-anchor="middle" font-size="24.5" font-family="Liberation Sans, sans-serif">2000</text>
<text x="329.6" y="915.5" text-anchor="middle" font-size="24.5" font-family="Liberation Sans, sans-serif">2500</text>
<text x="463.2" y="915.5" text-anchor="middle" font-size="24.5" font-family="Liberation Sans, sans-serif">3000</text>
<text x="596.9" y="915.5" text-anchor="middle" font-size="24.5" font-family="Liberation Sans, sans-serif">3500</text>
<text x="753.2" y="917.3" text-anchor="middle" font-size="23" font-family="Liberation Sans, sans-serif">6</text>
<text x="897.8" y="917.3" text-anchor="middle" font-size="23" font-family="Liberation Sans, sans-serif">8</text>
<text x="1042.4" y="917.3" text-anchor="middle" font-size="23" font-family="Liberation Sans, sans-serif">10</text>
<text x="1187.0" y="917.3" text-anchor="middle" font-size="23" font-family="Liberation Sans, sans-serif">12</text>
<text x="1331.6" y="917.3" text-anchor="middle" font-size="23" font-family="Liberation Sans, sans-serif">14</text>
<text x="0" y="52" font-size="64" font-weight="bold" font-family="Liberation Sans, sans-serif" transform="translate(3,0) scale(0.82,1) translate(-2,0)">a</text>
<text x="594.5" y="52" font-size="64" font-weight="bold" font-family="Liberation Sans, sans-serif">b</text>
<text x="8.5" y="97.6" font-size="36" font-family="Liberation Sans, sans-serif" textLength="79.5" lengthAdjust="spacingAndGlyphs">190K</text>
<text x="739" y="190" font-size="25" font-family="Liberation Sans, sans-serif">A</text>
<text x="915" y="88" font-size="25" font-family="Liberation Sans, sans-serif">B</text>
<rect x="381" y="930" width="40" height="42" fill="#f4f4f6"/>
<text x="258" y="951.3" font-size="19" font-family="Liberation Sans, sans-serif" textLength="26" lengthAdjust="spacingAndGlyphs">DT</text>
<text x="284.5" y="965.2" font-size="35" font-family="Liberation Sans, sans-serif" textLength="57" lengthAdjust="spacingAndGlyphs">CCS</text>
<text x="342" y="947.2" font-size="16.5" font-family="Liberation Sans, sans-serif" textLength="20" lengthAdjust="spacingAndGlyphs">TK</text>
<text x="342.5" y="970.4" font-size="17" font-family="Liberation Sans, sans-serif" textLength="21" lengthAdjust="spacingAndGlyphs">He</text>
<line x1="378.6" y1="939" x2="367" y2="970.6" stroke="#000" stroke-width="2.9"/>
<text x="389" y="965.5" font-size="31.5" font-family="Liberation Sans, sans-serif">Å</text>
<text x="409" y="955.9" font-size="21" font-family="Liberation Sans, sans-serif">2</text>
<text x="943" y="964.2" font-size="33" font-family="Liberation Sans, sans-serif" textLength="243" lengthAdjust="spacingAndGlyphs">Arrival time/ms</text>
<g fill="none" stroke="#8c8c8c" stroke-width="1.3" stroke-linejoin="round" stroke-linecap="round"><path d="M651.2,66.7 C652.1,65.8 655.0,62.3 656.6,61.3 C658.2,60.3 659.5,60.3 661.0,60.9 C662.5,61.5 664.2,64.4 665.4,64.9 C666.6,65.4 667.0,64.8 668.1,64.0 C669.2,63.2 670.5,60.8 671.7,60.0 C672.9,59.2 674.0,59.1 675.2,59.1 C676.4,59.1 678.0,60.2 678.8,60.0 C679.6,59.8 679.5,58.0 680.1,57.8 C680.7,57.6 681.3,58.6 682.3,58.7 C683.3,58.9 684.8,59.6 685.9,58.7 C687.0,57.8 687.9,54.1 688.6,53.3 C689.3,52.5 689.7,53.6 690.3,53.8 C690.9,53.9 691.0,55.0 692.1,54.2 C693.2,53.4 695.1,49.1 696.6,48.9 C698.1,48.7 699.8,52.0 701.0,52.9 C702.2,53.8 703.6,53.1 703.7,54.2 C703.9,55.3 701.9,58.2 701.9,59.6 C701.9,61.0 702.7,61.8 703.7,62.7 C704.7,63.6 707.2,64.1 708.1,64.9 C709.0,65.7 708.8,66.1 709.4,67.6 C710.0,69.1 710.9,72.4 711.7,73.8 C712.5,75.2 713.1,75.5 714.3,76.0 C715.5,76.5 717.8,77.4 718.8,76.9 C719.8,76.5 719.6,74.3 720.6,73.3 C721.6,72.3 723.7,71.5 725.0,71.1 C726.3,70.7 727.9,70.2 728.6,70.7 C729.3,71.2 729.2,72.4 729.4,73.8 C729.6,75.2 729.1,77.5 729.9,79.1 C730.6,80.7 733.2,82.4 733.9,83.6 C734.6,84.8 734.6,85.0 734.3,86.2 C734.0,87.4 732.3,89.7 732.1,90.7 C731.9,91.7 733.3,91.7 733.0,92.4 C732.7,93.1 730.6,93.9 730.3,95.1 C730.0,96.3 730.0,98.3 731.2,99.6 C732.4,100.9 735.5,103.1 737.4,103.1 C739.3,103.1 741.2,99.3 742.8,99.6 C744.4,99.9 745.0,104.2 747.2,104.9 C749.4,105.6 754.0,104.6 756.1,104.0 C758.2,103.4 759.2,102.9 759.7,101.3 C760.2,99.7 758.2,95.2 758.8,94.2 C759.3,93.2 761.7,96.4 763.0,95.6 C764.3,94.8 765.4,90.8 766.6,89.3 C767.8,87.8 767.7,87.1 770.1,86.7 C772.5,86.3 778.4,87.3 780.8,86.7 C783.2,86.1 783.3,84.4 784.3,83.1 C785.3,81.8 784.6,80.2 787.0,78.7 C789.4,77.2 795.8,73.9 798.6,74.2 C801.4,74.5 802.4,80.1 803.9,80.4 C805.4,80.7 806.8,76.7 807.4,76.0"/><path d="M851.5,88.0 C852.1,88.1 853.6,88.5 855.0,88.4 C856.4,88.3 858.5,87.3 859.9,87.6 C861.3,87.9 863.1,88.6 863.4,90.2 C863.7,91.8 862.6,95.7 861.7,97.3 C860.8,98.9 858.0,99.0 858.1,100.0 C858.2,101.0 861.6,102.3 862.6,103.6 C863.6,104.9 864.4,106.8 864.3,108.0 C864.1,109.2 863.5,110.0 861.7,110.7 C859.9,111.4 854.5,110.6 853.7,112.4 C853.0,114.2 857.2,119.5 857.2,121.3 C857.2,123.1 855.9,123.4 853.7,123.1 C851.5,122.8 846.3,118.8 843.9,119.6 C841.5,120.3 840.1,126.3 839.4,127.6"/><path d="M804.7,127.8 C804.2,128.4 802.9,131.8 801.6,131.3 C800.3,130.8 799.3,125.1 796.7,124.7 C794.1,124.3 788.4,127.3 786.0,128.7 C783.6,130.1 783.6,131.5 782.4,133.1 C781.2,134.7 781.0,137.8 778.9,138.4 C776.8,139.0 772.2,136.7 770.0,136.7 C767.8,136.7 767.1,136.8 765.6,138.4 C764.1,140.0 762.4,145.5 761.1,146.4 C759.8,147.3 758.3,143.7 757.6,143.8 C756.9,144.0 756.7,146.0 756.7,147.3 C756.7,148.6 757.9,150.6 757.6,151.8 C757.3,153.0 756.1,153.8 754.9,154.4 C753.7,155.0 752.0,154.5 750.4,155.3 C748.8,156.1 747.0,159.2 745.1,159.3 C743.2,159.5 740.4,155.8 738.9,156.2 C737.4,156.6 737.5,160.6 736.2,161.6 C734.9,162.6 732.4,162.6 730.9,162.4 C729.4,162.2 728.1,162.2 727.3,160.7 C726.5,159.2 726.4,155.7 726.0,153.6 C725.6,151.5 725.4,149.5 724.7,148.2 C724.0,146.9 723.0,146.6 722.0,146.0 C721.0,145.4 719.4,145.8 718.4,144.7 C717.4,143.6 716.7,140.6 715.8,139.3 C714.9,138.0 714.4,136.7 713.1,137.1 C711.8,137.5 708.9,140.8 707.8,142.0 C706.7,143.2 706.3,143.5 706.4,144.2 C706.5,144.9 708.4,145.7 708.2,146.4 C708.0,147.2 706.2,148.2 705.1,148.7 C704.0,149.1 702.9,149.5 701.6,149.1 C700.4,148.7 698.3,146.8 697.6,146.4"/><path d="M948.3,83.3 C949.1,82.4 951.7,78.9 953.3,77.8 C954.9,76.7 956.2,76.0 957.8,76.7 C959.4,77.4 961.3,81.5 962.8,81.7 C964.3,81.9 965.5,78.7 966.7,77.8 C967.9,76.9 968.5,76.7 970.0,76.1 C971.5,75.5 974.1,74.4 975.6,74.4 C977.1,74.4 977.4,76.8 978.9,76.1 C980.4,75.4 982.9,70.7 984.4,70.0 C985.9,69.3 986.4,72.4 987.8,71.7 C989.2,71.0 991.1,65.8 992.8,65.6 C994.5,65.4 996.8,69.1 997.8,70.6 C998.8,72.1 998.9,73.2 998.9,74.4 C998.9,75.6 997.2,76.7 997.8,77.8 C998.3,78.9 1000.9,80.2 1002.2,81.1 C1003.5,82.0 1004.7,81.6 1005.6,83.3 C1006.5,85.0 1006.7,89.5 1007.8,91.1 C1008.9,92.7 1010.9,93.1 1012.2,92.8 C1013.5,92.5 1014.7,90.2 1015.6,89.4 C1016.5,88.7 1016.5,88.8 1017.8,88.3 C1019.1,87.8 1022.0,85.7 1023.3,86.7 C1024.6,87.7 1024.7,92.0 1025.6,94.4 C1026.5,96.8 1028.7,99.0 1028.9,101.1 C1029.1,103.1 1027.2,104.8 1026.7,106.7 C1026.2,108.6 1025.2,110.5 1025.6,112.2 C1026.0,113.9 1027.6,116.0 1028.9,116.7 C1030.2,117.5 1031.8,117.0 1033.3,116.7 C1034.8,116.4 1036.5,114.5 1037.8,115.0 C1039.1,115.5 1039.6,119.3 1041.1,120.0 C1042.6,120.7 1044.8,119.8 1046.7,119.4 C1048.6,119.0 1051.1,119.5 1052.2,117.8 C1053.3,116.0 1052.4,110.2 1053.3,108.9 C1054.2,107.6 1056.3,110.9 1057.8,110.0 C1059.3,109.1 1060.5,104.7 1062.2,103.3 C1063.9,101.9 1065.8,101.8 1067.8,101.7 C1069.8,101.6 1072.4,104.2 1074.4,102.8 C1076.4,101.4 1078.2,95.0 1080.0,93.3 C1081.8,91.6 1083.0,93.3 1085.0,92.8 C1087.0,92.2 1089.8,89.5 1091.7,90.0 C1093.7,90.5 1095.4,96.1 1096.7,96.1 C1098.0,96.1 1099.0,91.0 1099.4,90.0"/><path d="M1141.7,105.0 C1142.2,104.7 1143.3,103.4 1145.0,103.3 C1146.7,103.2 1150.4,103.2 1151.7,104.4 C1153.0,105.6 1153.2,108.6 1152.8,110.6 C1152.4,112.5 1149.6,114.4 1149.4,116.1 C1149.2,117.8 1150.0,120.1 1151.7,120.6 C1153.4,121.1 1157.7,117.8 1159.4,118.9 C1161.1,120.0 1160.8,125.5 1161.7,127.2 C1162.6,128.9 1163.3,130.1 1165.0,129.4 C1166.7,128.7 1169.5,123.0 1171.7,122.8 C1173.9,122.6 1176.8,127.8 1178.3,128.3 C1179.8,128.8 1180.5,126.4 1181.0,126.0"/><path d="M1214.0,110.0 C1214.2,109.7 1213.7,108.3 1215.0,108.3 C1216.3,108.3 1219.1,111.3 1221.7,110.0 C1224.3,108.7 1228.8,103.5 1230.6,100.6 C1232.4,97.7 1232.0,95.0 1232.8,92.8 C1233.6,90.6 1232.9,89.8 1235.4,87.5 C1237.9,85.2 1245.4,81.8 1248.0,79.0 C1250.6,76.2 1250.7,73.3 1250.9,70.7 C1251.2,68.1 1248.6,66.9 1249.5,63.6 C1250.4,60.3 1253.9,53.3 1256.5,51.0 C1259.1,48.7 1262.7,48.9 1265.0,49.6 C1267.3,50.3 1268.3,54.5 1270.6,55.2 C1272.9,55.9 1276.4,53.6 1279.0,53.8 C1281.6,54.0 1284.6,58.7 1286.0,56.6 C1287.4,54.5 1286.7,43.9 1287.4,41.1 C1288.1,38.3 1289.8,39.9 1290.3,39.7"/></g><path d="M651.2,66.7 C652.1,65.8 655.0,62.3 656.6,61.3 C658.2,60.3 659.5,60.3 661.0,60.9 C662.5,61.5 664.7,64.2 665.4,64.9" fill="none" stroke="#52acd9" stroke-width="3" stroke-linecap="round" stroke-linejoin="round"/><path d="M701.0,52.9 C701.5,53.1 703.6,53.1 703.7,54.2 C703.9,55.3 701.9,58.2 701.9,59.6 C701.9,61.0 702.7,61.8 703.7,62.7 C704.7,63.6 707.2,64.1 708.1,64.9 C709.0,65.7 709.2,67.1 709.4,67.6" fill="none" stroke="#52acd9" stroke-width="3" stroke-linecap="round" stroke-linejoin="round"/><path d="M948.3,83.3 C949.1,82.4 951.7,78.9 953.3,77.8 C954.9,76.7 956.2,76.0 957.8,76.7 C959.4,77.4 962.0,80.9 962.8,81.7" fill="none" stroke="#52acd9" stroke-width="3" stroke-linecap="round" stroke-linejoin="round"/><path d="M997.8,70.6 C998.0,71.2 998.9,73.2 998.9,74.4 C998.9,75.6 997.2,76.7 997.8,77.8 C998.3,78.9 1000.9,80.2 1002.2,81.1 C1003.5,82.0 1005.0,82.9 1005.6,83.3" fill="none" stroke="#52acd9" stroke-width="3" stroke-linecap="round" stroke-linejoin="round"/><path d="M806.8,74.2 L807.6,73.2 L808.3,72.3 L809.1,71.6 L810.0,71.0 L810.7,70.7 L811.5,70.7 L812.1,70.9 L812.7,71.4 L813.2,72.1 L813.6,73.1 L813.9,74.2 L814.1,75.3 L814.2,76.5 L814.2,77.7 L814.2,78.8 L814.2,79.7 L814.2,80.4 L814.2,80.8 L814.3,81.0 L814.4,80.9 L814.7,80.5 L815.0,80.0 L815.4,79.2 L815.9,78.3 L816.6,77.3 L817.3,76.3 L818.0,75.4 L818.8,74.6 L819.6,74.0 L820.4,73.6 L821.2,73.4 L821.9,73.5" fill="none" stroke="#d9cc22" stroke-width="3.5" stroke-linecap="round" stroke-linejoin="round"/><path d="M821.9,73.5 L822.5,73.9 L823.0,74.6 L823.4,75.4 L823.8,76.4 L824.0,77.5 L824.1,78.7 L824.2,79.9 L824.2,81.0 L824.2,82.0 L824.2,82.8 L824.2,83.3 L824.2,83.7 L824.3,83.7 L824.5,83.5 L824.8,83.1 L825.1,82.4 L825.6,81.6 L826.2,80.7 L826.8,79.7 L827.5,78.7 L828.3,77.8 L829.1,77.1 L829.9,76.6 L830.7,76.2 L831.4,76.2 L832.1,76.4 L832.7,76.8" fill="none" stroke="#e8733a" stroke-width="3.5" stroke-linecap="round" stroke-linejoin="round"/><path d="M832.7,76.8 L833.1,77.5 L833.5,78.3 L833.8,79.3 L834.0,80.4 L834.2,81.6 L834.2,82.7 L834.2,83.8 L834.2,84.7 L834.2,85.5 L834.2,86.1 L834.2,86.4 L834.3,86.5 L834.5,86.3 L834.7,85.9 L835.1,85.3 L835.5,84.5 L836.0,83.7 L836.6,82.7 L837.3,81.8" fill="none" stroke="#d9cc22" stroke-width="3.5" stroke-linecap="round" stroke-linejoin="round"/><path d="M837.3,81.8 L838.0,80.9 L838.8,80.1 L839.6,79.5 L840.4,79.1 L841.2,78.9 L841.9,79.0 L842.5,79.4 L843.0,80.0 L843.4,80.9 L843.8,81.9 L844.0,83.0 L844.1,84.2 L844.2,85.4 L844.2,86.5 L844.2,87.5 L844.2,88.3 L844.2,88.8 L844.2,89.2 L844.3,89.2 L844.5,89.0 L844.8,88.5 L845.2,87.8 L845.7,87.0 L846.3,86.0 L846.9,85.0 L847.6,84.1 L848.4,83.2 L849.2,82.5 L850.0,82.0 L850.8,81.7" fill="none" stroke="#e8733a" stroke-width="3.5" stroke-linecap="round" stroke-linejoin="round"/><path d="M803.8,126.0 L804.3,125.0 L804.8,124.1 L805.4,123.3 L806.1,122.6 L806.8,122.2 L807.5,122.0 L808.3,122.1 L809.0,122.4 L809.6,123.0 L810.3,123.7 L810.8,124.6 L811.3,125.6 L811.7,126.6 L812.0,127.6 L812.3,128.5 L812.5,129.2 L812.7,129.7 L812.8,130.0 L812.9,130.1 L813.1,129.9 L813.2,129.5 L813.4,128.9 L813.7,128.1 L814.0,127.1 L814.4,126.1 L814.9,125.2 L815.5,124.2 L816.1,123.4 L816.7,122.8 L817.4,122.4 L818.2,122.2 L818.9,122.3 L819.6,122.6 L820.3,123.1 L820.9,123.9 L821.4,124.8 L821.9,125.7 L822.3,126.8 L822.7,127.7 L822.9,128.6 L823.1,129.3 L823.3,129.9 L823.4,130.2 L823.6,130.3" fill="none" stroke="#d9cc22" stroke-width="3.5" stroke-linecap="round" stroke-linejoin="round"/><path d="M823.6,130.3 L823.7,130.1 L823.9,129.7 L824.1,129.0 L824.3,128.2 L824.6,127.3 L825.1,126.3 L825.5,125.3 L826.1,124.4 L826.7,123.6 L827.4,123.0 L828.1,122.5 L828.8,122.4 L829.5,122.4 L830.2,122.8 L830.9,123.3 L831.5,124.0 L832.1,124.9 L832.5,125.9 L833.0,126.9 L833.3,127.9 L833.6,128.8 L833.8,129.5 L833.9,130.0 L834.1,130.4 L834.2,130.4 L834.3,130.2 L834.5,129.8 L834.7,129.2 L834.9,128.4 L835.3,127.4 L835.7,126.5 L836.2,125.5 L836.7,124.5 L837.3,123.7 L838.0,123.1 L838.7,122.7" fill="none" stroke="#e8733a" stroke-width="3.5" stroke-linecap="round" stroke-linejoin="round"/><line x1="825.2" y1="84" x2="816.3" y2="121.3" stroke="#3f8fd0" stroke-width="3" stroke-dasharray="3,4.4"/><path d="M1098.8,90.2 L1099.5,89.2 L1100.3,88.3 L1101.1,87.6 L1101.8,87.0 L1102.6,86.7 L1103.3,86.6 L1104.0,86.8 L1104.6,87.3 L1105.1,88.0 L1105.4,88.9 L1105.7,90.0 L1105.9,91.1 L1106.1,92.3 L1106.1,93.5 L1106.1,94.6 L1106.1,95.5 L1106.1,96.2 L1106.1,96.6 L1106.2,96.8 L1106.3,96.8 L1106.5,96.4 L1106.8,95.9 L1107.2,95.1 L1107.7,94.2 L1108.3,93.2 L1108.9,92.2 L1109.7,91.3 L1110.4,90.4 L1111.2,89.8 L1112.0,89.3" fill="none" stroke="#d9cc22" stroke-width="3.5" stroke-linecap="round" stroke-linejoin="round"/><path d="M1112.0,89.3 L1112.7,89.1 L1113.4,89.2 L1114.0,89.5 L1114.5,90.1 L1115.0,90.8 L1115.3,91.8 L1115.6,92.9 L1115.8,94.1 L1115.9,95.2 L1115.9,96.3 L1115.9,97.3 L1115.9,98.2 L1115.9,98.8 L1115.9,99.2 L1116.0,99.3 L1116.1,99.2 L1116.3,98.8 L1116.6,98.2 L1117.0,97.5 L1117.5,96.6 L1118.1,95.6 L1118.8,94.6 L1119.5,93.7 L1120.2,92.9" fill="none" stroke="#e8733a" stroke-width="3.5" stroke-linecap="round" stroke-linejoin="round"/><path d="M1120.2,92.9 L1121.0,92.2 L1121.8,91.8 L1122.5,91.6 L1123.2,91.7 L1123.8,92.0 L1124.3,92.6 L1124.8,93.4 L1125.1,94.3 L1125.4,95.4 L1125.5,96.6 L1125.6,97.8 L1125.7,98.9 L1125.7,99.9 L1125.6,100.7 L1125.6,101.3 L1125.6,101.7 L1125.7,101.8 L1125.9,101.7 L1126.1,101.3 L1126.4,100.7 L1126.8,99.9 L1127.3,99.0 L1127.9,98.1 L1128.5,97.1" fill="none" stroke="#d9cc22" stroke-width="3.5" stroke-linecap="round" stroke-linejoin="round"/><path d="M1128.5,97.1 L1129.3,96.2 L1130.0,95.3 L1130.8,94.7 L1131.6,94.3 L1132.3,94.1 L1133.0,94.2 L1133.6,94.6 L1134.2,95.2 L1134.6,96.0 L1134.9,97.1 L1135.2,98.2 L1135.3,99.4 L1135.4,100.6 L1135.4,101.7 L1135.4,102.6 L1135.4,103.4 L1135.4,104.0 L1135.4,104.3 L1135.5,104.3 L1135.7,104.1 L1136.0,103.6 L1136.3,102.9 L1136.8,102.1 L1137.3,101.1 L1138.0,100.1 L1138.7,99.1 L1139.4,98.2 L1140.2,97.5 L1141.0,97.0 L1141.7,96.7" fill="none" stroke="#e8733a" stroke-width="3.5" stroke-linecap="round" stroke-linejoin="round"/><path d="M1179.9,125.4 L1180.0,124.3 L1180.2,123.2 L1180.5,122.3 L1180.9,121.4 L1181.4,120.8 L1182.0,120.4 L1182.8,120.2 L1183.5,120.2 L1184.4,120.5 L1185.2,121.0 L1186.1,121.6 L1186.9,122.3 L1187.7,123.1 L1188.3,123.9 L1188.9,124.6 L1189.4,125.2 L1189.7,125.7 L1190.0,125.9 L1190.1,125.9 L1190.2,125.7 L1190.2,125.2 L1190.2,124.6 L1190.2,123.7 L1190.1,122.7 L1190.2,121.7 L1190.3,120.6 L1190.5,119.5 L1190.8,118.5" fill="none" stroke="#e8733a" stroke-width="3.5" stroke-linecap="round" stroke-linejoin="round"/><path d="M1190.8,118.5 L1191.2,117.7 L1191.7,117.0 L1192.4,116.6 L1193.1,116.4 L1193.9,116.5 L1194.8,116.8 L1195.7,117.3 L1196.5,117.9 L1197.3,118.7 L1198.1,119.5 L1198.8,120.3 L1199.3,121.0 L1199.8,121.6 L1200.1,122.0 L1200.3,122.2 L1200.5,122.1 L1200.5,121.8 L1200.5,121.3 L1200.5,120.5 L1200.5,119.6 L1200.5,118.5 L1200.5,117.4 L1200.7,116.3 L1200.9,115.3 L1201.3,114.3 L1201.8,113.6 L1202.4,113.0 L1203.0,112.7 L1203.8,112.7 L1204.7,112.9 L1205.5,113.3 L1206.4,113.8 L1207.2,114.6 L1208.0,115.3 L1208.8,116.2 L1209.4,116.9 L1209.9,117.6 L1210.3,118.1 L1210.6,118.4 L1210.7,118.4 L1210.8,118.3 L1210.8,117.8 L1210.8,117.2 L1210.8,116.3 L1210.8,115.4 L1210.8,114.3 L1210.9,113.1 L1211.1,112.1 L1211.4,111.1 L1211.8,110.2 L1212.4,109.6" fill="none" stroke="#d9cc22" stroke-width="3.5" stroke-linecap="round" stroke-linejoin="round"/>
</svg></body></html>
